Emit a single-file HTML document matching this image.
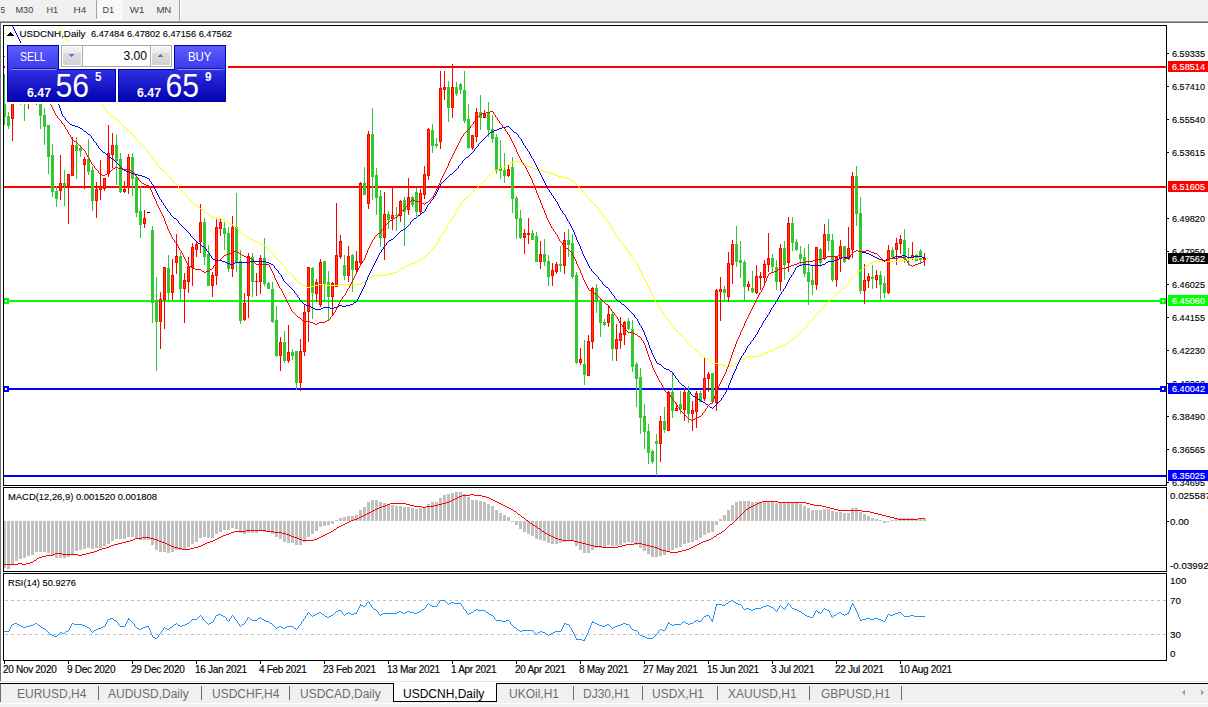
<!DOCTYPE html>
<html><head><meta charset="utf-8"><style>
html,body{margin:0;padding:0;}
body{width:1208px;height:707px;overflow:hidden;position:relative;background:#fff;font-family:'Liberation Sans', sans-serif;}
svg{position:absolute;left:0;top:0;}
svg text{font-family:'Liberation Sans', sans-serif;}
.ax{font-size:9.8px;fill:#000;stroke:#000;stroke-width:0.12px;}
.axw{fill:#fff;stroke:#fff;}
.dt{font-size:10px;letter-spacing:-0.3px;fill:#000;stroke:#000;stroke-width:0.15px;}
.tb{font-size:9.3px;fill:#404040;}
.tab{font-size:12px;}
.btn{font-size:12px;fill:#fff;}
.lot{font-size:12px;fill:#000;}
.sm{font-size:12px;font-weight:bold;fill:#fff;}
.big{font-size:34px;fill:#fff;}
.sup{font-size:12px;font-weight:bold;fill:#fff;}
</style></head><body>
<svg width="1208" height="707" viewBox="0 0 1208 707" shape-rendering="crispEdges"><rect x="0" y="0" width="1208" height="707" fill="#fff"/><rect x="0" y="0" width="1208" height="21" fill="#f0f0f0"/><rect x="0" y="21" width="1208" height="1" fill="#a0a0a0"/><rect x="0" y="22" width="1208" height="1" fill="#6a6a6a"/><defs><pattern id="chk" width="2" height="2" patternUnits="userSpaceOnUse"><rect width="2" height="2" fill="#f0f0f0"/><rect width="1" height="1" fill="#fff"/><rect x="1" y="1" width="1" height="1" fill="#fff"/></pattern><linearGradient id="gh" x1="0" y1="45" x2="0" y2="69" gradientUnits="userSpaceOnUse"><stop offset="0" stop-color="#5f5fff"/><stop offset="1" stop-color="#3a3aec"/></linearGradient><linearGradient id="gp" x1="0" y1="69" x2="0" y2="102" gradientUnits="userSpaceOnUse"><stop offset="0" stop-color="#3232e4"/><stop offset="1" stop-color="#0000b0"/></linearGradient><linearGradient id="gb" x1="0" y1="47" x2="0" y2="65" gradientUnits="userSpaceOnUse"><stop offset="0" stop-color="#f2f2f2"/><stop offset="0.35" stop-color="#ebebeb"/><stop offset="0.36" stop-color="#dcdcdc"/><stop offset="1" stop-color="#d2d2d2"/></linearGradient><clipPath id="cm"><rect x="4" y="26" width="1162" height="459"/></clipPath><clipPath id="cmacd"><rect x="4" y="488" width="1162" height="83"/></clipPath><clipPath id="crsi"><rect x="4" y="574" width="1162" height="86"/></clipPath></defs><rect x="97" y="0" width="24" height="19" fill="url(#chk)"/><rect x="96" y="0" width="1" height="19" fill="#a0a0a0"/><rect x="121" y="0" width="1" height="20" fill="#fff"/><rect x="96" y="19" width="26" height="1" fill="#fff"/><rect x="179" y="0" width="1" height="21" fill="#a0a0a0"/><rect x="180" y="0" width="1" height="21" fill="#fff"/><text x="0.5" y="13" class="tb" textLength="4.6" lengthAdjust="spacingAndGlyphs">5</text><text x="15.5" y="13" class="tb" textLength="17.8" lengthAdjust="spacingAndGlyphs">M30</text><text x="46.5" y="13" class="tb" textLength="11.7" lengthAdjust="spacingAndGlyphs">H1</text><text x="73.5" y="13" class="tb" textLength="12.8" lengthAdjust="spacingAndGlyphs">H4</text><text x="102.5" y="13" class="tb" textLength="11.7" lengthAdjust="spacingAndGlyphs">D1</text><text x="129.8" y="13" class="tb" textLength="14.6" lengthAdjust="spacingAndGlyphs">W1</text><text x="156.4" y="13" class="tb" textLength="14.9" lengthAdjust="spacingAndGlyphs">MN</text><rect x="0" y="23" width="1" height="658" fill="#707070"/><g clip-path="url(#cm)"><rect x="4" y="66" width="1162" height="2" fill="#ff0000"/><rect x="4" y="186" width="1162" height="2" fill="#ff0000"/><rect x="4" y="300" width="1162" height="2" fill="#00ff00"/><rect x="4" y="388" width="1162" height="2" fill="#0000ff"/><rect x="4" y="475" width="1162" height="2" fill="#0000ff"/><rect x="4" y="74" width="1" height="30" fill="#32c832"/><rect x="4" y="117" width="1" height="8" fill="#32c832"/><rect x="3" y="104" width="3" height="13" fill="#32c832"/><rect x="8" y="112" width="1" height="4" fill="#32c832"/><rect x="8" y="126" width="1" height="3" fill="#32c832"/><rect x="7" y="116" width="3" height="10" fill="#32c832"/><rect x="12" y="95" width="1" height="3" fill="#ff0000"/><rect x="12" y="119" width="1" height="22" fill="#ff0000"/><rect x="11" y="98" width="3" height="21" fill="#ff0000"/><rect x="12" y="99" width="1" height="19" fill="#ff4400"/><rect x="16" y="80" width="1" height="5" fill="#ff0000"/><rect x="16" y="96" width="1" height="5" fill="#ff0000"/><rect x="15" y="85" width="3" height="11" fill="#ff0000"/><rect x="16" y="86" width="1" height="9" fill="#ff4400"/><rect x="20" y="95" width="1" height="3" fill="#32c832"/><rect x="20" y="104" width="1" height="1" fill="#32c832"/><rect x="19" y="98" width="3" height="6" fill="#32c832"/><rect x="24" y="90" width="1" height="5" fill="#32c832"/><rect x="24" y="101" width="1" height="20" fill="#32c832"/><rect x="23" y="95" width="3" height="6" fill="#32c832"/><rect x="28" y="90" width="1" height="5" fill="#ff0000"/><rect x="28" y="101" width="1" height="8" fill="#ff0000"/><rect x="27" y="95" width="3" height="6" fill="#ff0000"/><rect x="28" y="96" width="1" height="4" fill="#ff4400"/><rect x="32" y="80" width="1" height="5" fill="#ff0000"/><rect x="32" y="96" width="1" height="5" fill="#ff0000"/><rect x="31" y="85" width="3" height="11" fill="#ff0000"/><rect x="32" y="86" width="1" height="9" fill="#ff4400"/><rect x="36" y="90" width="1" height="5" fill="#ff0000"/><rect x="36" y="101" width="1" height="4" fill="#ff0000"/><rect x="35" y="95" width="3" height="6" fill="#ff0000"/><rect x="36" y="96" width="1" height="4" fill="#ff4400"/><rect x="40" y="90" width="1" height="5" fill="#32c832"/><rect x="40" y="116" width="1" height="13" fill="#32c832"/><rect x="39" y="95" width="3" height="21" fill="#32c832"/><rect x="44" y="108" width="1" height="7" fill="#32c832"/><rect x="44" y="127" width="1" height="18" fill="#32c832"/><rect x="43" y="115" width="3" height="12" fill="#32c832"/><rect x="48" y="157" width="1" height="17" fill="#32c832"/><rect x="47" y="125" width="3" height="32" fill="#32c832"/><rect x="52" y="144" width="1" height="11" fill="#32c832"/><rect x="52" y="192" width="1" height="5" fill="#32c832"/><rect x="51" y="155" width="3" height="37" fill="#32c832"/><rect x="56" y="186" width="1" height="5" fill="#32c832"/><rect x="56" y="199" width="1" height="8" fill="#32c832"/><rect x="55" y="191" width="3" height="8" fill="#32c832"/><rect x="60" y="155" width="1" height="28" fill="#ff0000"/><rect x="60" y="191" width="1" height="9" fill="#ff0000"/><rect x="59" y="183" width="3" height="8" fill="#ff0000"/><rect x="60" y="184" width="1" height="6" fill="#ff4400"/><rect x="64" y="170" width="1" height="13" fill="#32c832"/><rect x="64" y="186" width="1" height="20" fill="#32c832"/><rect x="63" y="183" width="3" height="3" fill="#32c832"/><rect x="68" y="186" width="1" height="38" fill="#ff0000"/><rect x="67" y="174" width="3" height="12" fill="#ff0000"/><rect x="68" y="175" width="1" height="10" fill="#ff4400"/><rect x="72" y="137" width="1" height="8" fill="#ff0000"/><rect x="71" y="145" width="3" height="31" fill="#ff0000"/><rect x="72" y="146" width="1" height="29" fill="#ff4400"/><rect x="76" y="137" width="1" height="8" fill="#32c832"/><rect x="76" y="151" width="1" height="28" fill="#32c832"/><rect x="75" y="145" width="3" height="6" fill="#32c832"/><rect x="80" y="145" width="1" height="3" fill="#32c832"/><rect x="80" y="151" width="1" height="6" fill="#32c832"/><rect x="79" y="148" width="3" height="3" fill="#32c832"/><rect x="84" y="157" width="1" height="2" fill="#ff0000"/><rect x="84" y="165" width="1" height="24" fill="#ff0000"/><rect x="83" y="159" width="3" height="6" fill="#ff0000"/><rect x="84" y="160" width="1" height="4" fill="#ff4400"/><rect x="88" y="139" width="1" height="20" fill="#32c832"/><rect x="88" y="172" width="1" height="3" fill="#32c832"/><rect x="87" y="159" width="3" height="13" fill="#32c832"/><rect x="92" y="166" width="1" height="4" fill="#32c832"/><rect x="92" y="201" width="1" height="10" fill="#32c832"/><rect x="91" y="170" width="3" height="31" fill="#32c832"/><rect x="96" y="182" width="1" height="7" fill="#ff0000"/><rect x="96" y="201" width="1" height="17" fill="#ff0000"/><rect x="95" y="189" width="3" height="12" fill="#ff0000"/><rect x="96" y="190" width="1" height="10" fill="#ff4400"/><rect x="100" y="160" width="1" height="27" fill="#ff0000"/><rect x="100" y="190" width="1" height="10" fill="#ff0000"/><rect x="99" y="187" width="3" height="3" fill="#ff0000"/><rect x="100" y="188" width="1" height="1" fill="#ff4400"/><rect x="104" y="189" width="1" height="2" fill="#ff0000"/><rect x="103" y="178" width="3" height="11" fill="#ff0000"/><rect x="104" y="179" width="1" height="9" fill="#ff4400"/><rect x="108" y="125" width="1" height="28" fill="#ff0000"/><rect x="108" y="174" width="1" height="3" fill="#ff0000"/><rect x="107" y="153" width="3" height="21" fill="#ff0000"/><rect x="108" y="154" width="1" height="19" fill="#ff4400"/><rect x="112" y="133" width="1" height="12" fill="#ff0000"/><rect x="112" y="155" width="1" height="13" fill="#ff0000"/><rect x="111" y="145" width="3" height="10" fill="#ff0000"/><rect x="112" y="146" width="1" height="8" fill="#ff4400"/><rect x="116" y="135" width="1" height="10" fill="#32c832"/><rect x="116" y="161" width="1" height="24" fill="#32c832"/><rect x="115" y="145" width="3" height="16" fill="#32c832"/><rect x="120" y="153" width="1" height="6" fill="#32c832"/><rect x="120" y="192" width="1" height="1" fill="#32c832"/><rect x="119" y="159" width="3" height="33" fill="#32c832"/><rect x="124" y="181" width="1" height="8" fill="#ff0000"/><rect x="124" y="192" width="1" height="1" fill="#ff0000"/><rect x="123" y="189" width="3" height="3" fill="#ff0000"/><rect x="124" y="190" width="1" height="1" fill="#ff4400"/><rect x="128" y="154" width="1" height="3" fill="#ff0000"/><rect x="128" y="188" width="1" height="6" fill="#ff0000"/><rect x="127" y="157" width="3" height="31" fill="#ff0000"/><rect x="128" y="158" width="1" height="29" fill="#ff4400"/><rect x="132" y="153" width="1" height="4" fill="#32c832"/><rect x="132" y="179" width="1" height="17" fill="#32c832"/><rect x="131" y="157" width="3" height="22" fill="#32c832"/><rect x="136" y="175" width="1" height="2" fill="#32c832"/><rect x="136" y="213" width="1" height="4" fill="#32c832"/><rect x="135" y="177" width="3" height="36" fill="#32c832"/><rect x="140" y="187" width="1" height="24" fill="#32c832"/><rect x="140" y="225" width="1" height="13" fill="#32c832"/><rect x="139" y="211" width="3" height="14" fill="#32c832"/><rect x="144" y="210" width="1" height="8" fill="#ff0000"/><rect x="144" y="224" width="1" height="4" fill="#ff0000"/><rect x="143" y="218" width="3" height="6" fill="#ff0000"/><rect x="144" y="219" width="1" height="4" fill="#ff4400"/><rect x="147" y="212" width="3" height="1" fill="#000"/><rect x="152" y="226" width="1" height="4" fill="#32c832"/><rect x="152" y="303" width="1" height="20" fill="#32c832"/><rect x="151" y="230" width="3" height="73" fill="#32c832"/><rect x="156" y="277" width="1" height="23" fill="#32c832"/><rect x="156" y="322" width="1" height="49" fill="#32c832"/><rect x="155" y="300" width="3" height="22" fill="#32c832"/><rect x="160" y="292" width="1" height="7" fill="#ff0000"/><rect x="160" y="322" width="1" height="27" fill="#ff0000"/><rect x="159" y="299" width="3" height="23" fill="#ff0000"/><rect x="160" y="300" width="1" height="21" fill="#ff4400"/><rect x="164" y="300" width="1" height="29" fill="#ff0000"/><rect x="163" y="267" width="3" height="33" fill="#ff0000"/><rect x="164" y="268" width="1" height="31" fill="#ff4400"/><rect x="168" y="255" width="1" height="13" fill="#32c832"/><rect x="168" y="293" width="1" height="8" fill="#32c832"/><rect x="167" y="268" width="3" height="25" fill="#32c832"/><rect x="172" y="259" width="1" height="16" fill="#ff0000"/><rect x="172" y="293" width="1" height="7" fill="#ff0000"/><rect x="171" y="275" width="3" height="18" fill="#ff0000"/><rect x="172" y="276" width="1" height="16" fill="#ff4400"/><rect x="176" y="234" width="1" height="22" fill="#ff0000"/><rect x="176" y="263" width="1" height="11" fill="#ff0000"/><rect x="175" y="256" width="3" height="7" fill="#ff0000"/><rect x="176" y="257" width="1" height="5" fill="#ff4400"/><rect x="180" y="252" width="1" height="4" fill="#32c832"/><rect x="180" y="289" width="1" height="13" fill="#32c832"/><rect x="179" y="256" width="3" height="33" fill="#32c832"/><rect x="184" y="273" width="1" height="7" fill="#ff0000"/><rect x="184" y="289" width="1" height="34" fill="#ff0000"/><rect x="183" y="280" width="3" height="9" fill="#ff0000"/><rect x="184" y="281" width="1" height="7" fill="#ff4400"/><rect x="188" y="257" width="1" height="9" fill="#ff0000"/><rect x="188" y="282" width="1" height="11" fill="#ff0000"/><rect x="187" y="266" width="3" height="16" fill="#ff0000"/><rect x="188" y="267" width="1" height="14" fill="#ff4400"/><rect x="192" y="243" width="1" height="4" fill="#ff0000"/><rect x="192" y="268" width="1" height="18" fill="#ff0000"/><rect x="191" y="247" width="3" height="21" fill="#ff0000"/><rect x="192" y="248" width="1" height="19" fill="#ff4400"/><rect x="196" y="242" width="1" height="2" fill="#ff0000"/><rect x="196" y="250" width="1" height="7" fill="#ff0000"/><rect x="195" y="244" width="3" height="6" fill="#ff0000"/><rect x="196" y="245" width="1" height="4" fill="#ff4400"/><rect x="200" y="204" width="1" height="18" fill="#ff0000"/><rect x="200" y="242" width="1" height="11" fill="#ff0000"/><rect x="199" y="222" width="3" height="20" fill="#ff0000"/><rect x="200" y="223" width="1" height="18" fill="#ff4400"/><rect x="204" y="218" width="1" height="4" fill="#32c832"/><rect x="204" y="257" width="1" height="8" fill="#32c832"/><rect x="203" y="222" width="3" height="35" fill="#32c832"/><rect x="208" y="245" width="1" height="9" fill="#32c832"/><rect x="207" y="254" width="3" height="32" fill="#32c832"/><rect x="212" y="272" width="1" height="3" fill="#ff0000"/><rect x="212" y="286" width="1" height="11" fill="#ff0000"/><rect x="211" y="275" width="3" height="11" fill="#ff0000"/><rect x="212" y="276" width="1" height="9" fill="#ff4400"/><rect x="216" y="219" width="1" height="8" fill="#ff0000"/><rect x="216" y="276" width="1" height="9" fill="#ff0000"/><rect x="215" y="227" width="3" height="49" fill="#ff0000"/><rect x="216" y="228" width="1" height="47" fill="#ff4400"/><rect x="220" y="219" width="1" height="3" fill="#ff0000"/><rect x="220" y="229" width="1" height="7" fill="#ff0000"/><rect x="219" y="222" width="3" height="7" fill="#ff0000"/><rect x="220" y="223" width="1" height="5" fill="#ff4400"/><rect x="224" y="222" width="1" height="6" fill="#32c832"/><rect x="224" y="234" width="1" height="16" fill="#32c832"/><rect x="223" y="228" width="3" height="6" fill="#32c832"/><rect x="228" y="227" width="1" height="6" fill="#32c832"/><rect x="228" y="269" width="1" height="3" fill="#32c832"/><rect x="227" y="233" width="3" height="36" fill="#32c832"/><rect x="232" y="216" width="1" height="11" fill="#ff0000"/><rect x="232" y="269" width="1" height="8" fill="#ff0000"/><rect x="231" y="227" width="3" height="42" fill="#ff0000"/><rect x="232" y="228" width="1" height="40" fill="#ff4400"/><rect x="236" y="193" width="1" height="34" fill="#32c832"/><rect x="236" y="263" width="1" height="9" fill="#32c832"/><rect x="235" y="227" width="3" height="36" fill="#32c832"/><rect x="240" y="250" width="1" height="11" fill="#32c832"/><rect x="240" y="321" width="1" height="3" fill="#32c832"/><rect x="239" y="261" width="3" height="60" fill="#32c832"/><rect x="244" y="293" width="1" height="10" fill="#ff0000"/><rect x="244" y="320" width="1" height="1" fill="#ff0000"/><rect x="243" y="303" width="3" height="17" fill="#ff0000"/><rect x="244" y="304" width="1" height="15" fill="#ff4400"/><rect x="248" y="253" width="1" height="3" fill="#ff0000"/><rect x="248" y="296" width="1" height="22" fill="#ff0000"/><rect x="247" y="256" width="3" height="40" fill="#ff0000"/><rect x="248" y="257" width="1" height="38" fill="#ff4400"/><rect x="252" y="253" width="1" height="4" fill="#32c832"/><rect x="252" y="282" width="1" height="15" fill="#32c832"/><rect x="251" y="257" width="3" height="25" fill="#32c832"/><rect x="256" y="273" width="1" height="8" fill="#ff0000"/><rect x="256" y="282" width="1" height="14" fill="#ff0000"/><rect x="255" y="281" width="3" height="1" fill="#ff0000"/><rect x="260" y="255" width="1" height="3" fill="#ff0000"/><rect x="260" y="282" width="1" height="12" fill="#ff0000"/><rect x="259" y="258" width="3" height="24" fill="#ff0000"/><rect x="260" y="259" width="1" height="22" fill="#ff4400"/><rect x="264" y="238" width="1" height="20" fill="#32c832"/><rect x="264" y="284" width="1" height="2" fill="#32c832"/><rect x="263" y="258" width="3" height="26" fill="#32c832"/><rect x="268" y="282" width="1" height="1" fill="#32c832"/><rect x="267" y="283" width="3" height="6" fill="#32c832"/><rect x="272" y="282" width="1" height="7" fill="#32c832"/><rect x="272" y="322" width="1" height="1" fill="#32c832"/><rect x="271" y="289" width="3" height="33" fill="#32c832"/><rect x="276" y="306" width="1" height="14" fill="#32c832"/><rect x="276" y="356" width="1" height="1" fill="#32c832"/><rect x="275" y="320" width="3" height="36" fill="#32c832"/><rect x="280" y="337" width="1" height="5" fill="#ff0000"/><rect x="280" y="356" width="1" height="15" fill="#ff0000"/><rect x="279" y="342" width="3" height="14" fill="#ff0000"/><rect x="280" y="343" width="1" height="12" fill="#ff4400"/><rect x="284" y="331" width="1" height="11" fill="#32c832"/><rect x="284" y="361" width="1" height="2" fill="#32c832"/><rect x="283" y="342" width="3" height="19" fill="#32c832"/><rect x="288" y="325" width="1" height="27" fill="#ff0000"/><rect x="288" y="361" width="1" height="2" fill="#ff0000"/><rect x="287" y="352" width="3" height="9" fill="#ff0000"/><rect x="288" y="353" width="1" height="7" fill="#ff4400"/><rect x="292" y="349" width="1" height="3" fill="#32c832"/><rect x="292" y="356" width="1" height="4" fill="#32c832"/><rect x="291" y="352" width="3" height="4" fill="#32c832"/><rect x="296" y="383" width="1" height="7" fill="#32c832"/><rect x="295" y="351" width="3" height="32" fill="#32c832"/><rect x="300" y="339" width="1" height="12" fill="#ff0000"/><rect x="300" y="383" width="1" height="8" fill="#ff0000"/><rect x="299" y="351" width="3" height="32" fill="#ff0000"/><rect x="300" y="352" width="1" height="30" fill="#ff4400"/><rect x="304" y="304" width="1" height="8" fill="#ff0000"/><rect x="304" y="352" width="1" height="4" fill="#ff0000"/><rect x="303" y="312" width="3" height="40" fill="#ff0000"/><rect x="304" y="313" width="1" height="38" fill="#ff4400"/><rect x="308" y="312" width="1" height="30" fill="#ff0000"/><rect x="307" y="267" width="3" height="45" fill="#ff0000"/><rect x="308" y="268" width="1" height="43" fill="#ff4400"/><rect x="312" y="267" width="1" height="1" fill="#32c832"/><rect x="312" y="293" width="1" height="26" fill="#32c832"/><rect x="311" y="268" width="3" height="25" fill="#32c832"/><rect x="316" y="279" width="1" height="3" fill="#ff0000"/><rect x="316" y="294" width="1" height="8" fill="#ff0000"/><rect x="315" y="282" width="3" height="12" fill="#ff0000"/><rect x="316" y="283" width="1" height="10" fill="#ff4400"/><rect x="320" y="259" width="1" height="3" fill="#ff0000"/><rect x="320" y="305" width="1" height="2" fill="#ff0000"/><rect x="319" y="262" width="3" height="43" fill="#ff0000"/><rect x="320" y="263" width="1" height="41" fill="#ff4400"/><rect x="324" y="284" width="1" height="17" fill="#32c832"/><rect x="323" y="261" width="3" height="23" fill="#32c832"/><rect x="328" y="271" width="1" height="11" fill="#32c832"/><rect x="328" y="297" width="1" height="24" fill="#32c832"/><rect x="327" y="282" width="3" height="15" fill="#32c832"/><rect x="332" y="282" width="1" height="1" fill="#ff0000"/><rect x="332" y="297" width="1" height="19" fill="#ff0000"/><rect x="331" y="283" width="3" height="14" fill="#ff0000"/><rect x="332" y="284" width="1" height="12" fill="#ff4400"/><rect x="336" y="203" width="1" height="52" fill="#ff0000"/><rect x="335" y="255" width="3" height="32" fill="#ff0000"/><rect x="336" y="256" width="1" height="30" fill="#ff4400"/><rect x="340" y="235" width="1" height="6" fill="#ff0000"/><rect x="340" y="257" width="1" height="2" fill="#ff0000"/><rect x="339" y="241" width="3" height="16" fill="#ff0000"/><rect x="340" y="242" width="1" height="14" fill="#ff4400"/><rect x="344" y="255" width="1" height="10" fill="#32c832"/><rect x="344" y="276" width="1" height="4" fill="#32c832"/><rect x="343" y="265" width="3" height="11" fill="#32c832"/><rect x="348" y="246" width="1" height="10" fill="#ff0000"/><rect x="348" y="276" width="1" height="6" fill="#ff0000"/><rect x="347" y="256" width="3" height="20" fill="#ff0000"/><rect x="348" y="257" width="1" height="18" fill="#ff4400"/><rect x="352" y="254" width="1" height="1" fill="#32c832"/><rect x="352" y="270" width="1" height="22" fill="#32c832"/><rect x="351" y="255" width="3" height="15" fill="#32c832"/><rect x="356" y="251" width="1" height="10" fill="#ff0000"/><rect x="356" y="270" width="1" height="3" fill="#ff0000"/><rect x="355" y="261" width="3" height="9" fill="#ff0000"/><rect x="356" y="262" width="1" height="7" fill="#ff4400"/><rect x="360" y="182" width="1" height="1" fill="#ff0000"/><rect x="360" y="263" width="1" height="1" fill="#ff0000"/><rect x="359" y="183" width="3" height="80" fill="#ff0000"/><rect x="360" y="184" width="1" height="78" fill="#ff4400"/><rect x="364" y="167" width="1" height="16" fill="#32c832"/><rect x="363" y="183" width="3" height="12" fill="#32c832"/><rect x="368" y="131" width="1" height="3" fill="#ff0000"/><rect x="368" y="204" width="1" height="5" fill="#ff0000"/><rect x="367" y="134" width="3" height="70" fill="#ff0000"/><rect x="368" y="135" width="1" height="68" fill="#ff4400"/><rect x="372" y="108" width="1" height="26" fill="#32c832"/><rect x="372" y="177" width="1" height="23" fill="#32c832"/><rect x="371" y="134" width="3" height="43" fill="#32c832"/><rect x="376" y="168" width="1" height="7" fill="#32c832"/><rect x="376" y="198" width="1" height="17" fill="#32c832"/><rect x="375" y="175" width="3" height="23" fill="#32c832"/><rect x="380" y="190" width="1" height="6" fill="#32c832"/><rect x="380" y="238" width="1" height="9" fill="#32c832"/><rect x="379" y="196" width="3" height="42" fill="#32c832"/><rect x="384" y="192" width="1" height="22" fill="#ff0000"/><rect x="384" y="238" width="1" height="22" fill="#ff0000"/><rect x="383" y="214" width="3" height="24" fill="#ff0000"/><rect x="384" y="215" width="1" height="22" fill="#ff4400"/><rect x="388" y="211" width="1" height="3" fill="#32c832"/><rect x="388" y="220" width="1" height="9" fill="#32c832"/><rect x="387" y="214" width="3" height="6" fill="#32c832"/><rect x="392" y="188" width="1" height="27" fill="#ff0000"/><rect x="392" y="219" width="1" height="11" fill="#ff0000"/><rect x="391" y="215" width="3" height="4" fill="#ff0000"/><rect x="392" y="216" width="1" height="2" fill="#ff4400"/><rect x="396" y="207" width="1" height="8" fill="#32c832"/><rect x="396" y="216" width="1" height="15" fill="#32c832"/><rect x="395" y="215" width="3" height="1" fill="#32c832"/><rect x="400" y="200" width="1" height="1" fill="#ff0000"/><rect x="400" y="216" width="1" height="6" fill="#ff0000"/><rect x="399" y="201" width="3" height="15" fill="#ff0000"/><rect x="400" y="202" width="1" height="13" fill="#ff4400"/><rect x="404" y="197" width="1" height="3" fill="#32c832"/><rect x="404" y="212" width="1" height="34" fill="#32c832"/><rect x="403" y="200" width="3" height="12" fill="#32c832"/><rect x="408" y="178" width="1" height="19" fill="#ff0000"/><rect x="408" y="210" width="1" height="5" fill="#ff0000"/><rect x="407" y="197" width="3" height="13" fill="#ff0000"/><rect x="408" y="198" width="1" height="11" fill="#ff4400"/><rect x="412" y="196" width="1" height="1" fill="#32c832"/><rect x="412" y="205" width="1" height="2" fill="#32c832"/><rect x="411" y="197" width="3" height="8" fill="#32c832"/><rect x="416" y="188" width="1" height="4" fill="#32c832"/><rect x="416" y="212" width="1" height="4" fill="#32c832"/><rect x="415" y="192" width="3" height="20" fill="#32c832"/><rect x="420" y="189" width="1" height="4" fill="#ff0000"/><rect x="420" y="212" width="1" height="2" fill="#ff0000"/><rect x="419" y="193" width="3" height="19" fill="#ff0000"/><rect x="420" y="194" width="1" height="17" fill="#ff4400"/><rect x="424" y="166" width="1" height="8" fill="#ff0000"/><rect x="424" y="195" width="1" height="4" fill="#ff0000"/><rect x="423" y="174" width="3" height="21" fill="#ff0000"/><rect x="424" y="175" width="1" height="19" fill="#ff4400"/><rect x="428" y="128" width="1" height="1" fill="#ff0000"/><rect x="428" y="176" width="1" height="4" fill="#ff0000"/><rect x="427" y="129" width="3" height="47" fill="#ff0000"/><rect x="428" y="130" width="1" height="45" fill="#ff4400"/><rect x="432" y="124" width="1" height="6" fill="#32c832"/><rect x="432" y="146" width="1" height="7" fill="#32c832"/><rect x="431" y="130" width="3" height="16" fill="#32c832"/><rect x="436" y="138" width="1" height="6" fill="#32c832"/><rect x="436" y="146" width="1" height="2" fill="#32c832"/><rect x="435" y="144" width="3" height="2" fill="#32c832"/><rect x="440" y="71" width="1" height="17" fill="#ff0000"/><rect x="440" y="142" width="1" height="7" fill="#ff0000"/><rect x="439" y="88" width="3" height="54" fill="#ff0000"/><rect x="440" y="89" width="1" height="52" fill="#ff4400"/><rect x="444" y="71" width="1" height="16" fill="#ff0000"/><rect x="444" y="90" width="1" height="10" fill="#ff0000"/><rect x="443" y="87" width="3" height="3" fill="#ff0000"/><rect x="444" y="88" width="1" height="1" fill="#ff4400"/><rect x="448" y="81" width="1" height="6" fill="#32c832"/><rect x="448" y="108" width="1" height="14" fill="#32c832"/><rect x="447" y="87" width="3" height="21" fill="#32c832"/><rect x="452" y="64" width="1" height="23" fill="#ff0000"/><rect x="452" y="108" width="1" height="10" fill="#ff0000"/><rect x="451" y="87" width="3" height="21" fill="#ff0000"/><rect x="452" y="88" width="1" height="19" fill="#ff4400"/><rect x="456" y="82" width="1" height="5" fill="#32c832"/><rect x="456" y="94" width="1" height="2" fill="#32c832"/><rect x="455" y="87" width="3" height="7" fill="#32c832"/><rect x="460" y="83" width="1" height="1" fill="#32c832"/><rect x="460" y="90" width="1" height="4" fill="#32c832"/><rect x="459" y="84" width="3" height="6" fill="#32c832"/><rect x="464" y="71" width="1" height="19" fill="#32c832"/><rect x="464" y="121" width="1" height="2" fill="#32c832"/><rect x="463" y="90" width="3" height="31" fill="#32c832"/><rect x="468" y="104" width="1" height="15" fill="#32c832"/><rect x="468" y="148" width="1" height="1" fill="#32c832"/><rect x="467" y="119" width="3" height="29" fill="#32c832"/><rect x="472" y="148" width="1" height="2" fill="#ff0000"/><rect x="471" y="135" width="3" height="13" fill="#ff0000"/><rect x="472" y="136" width="1" height="11" fill="#ff4400"/><rect x="476" y="108" width="1" height="4" fill="#ff0000"/><rect x="476" y="137" width="1" height="5" fill="#ff0000"/><rect x="475" y="112" width="3" height="25" fill="#ff0000"/><rect x="476" y="113" width="1" height="23" fill="#ff4400"/><rect x="480" y="95" width="1" height="17" fill="#32c832"/><rect x="480" y="118" width="1" height="12" fill="#32c832"/><rect x="479" y="112" width="3" height="6" fill="#32c832"/><rect x="484" y="110" width="1" height="4" fill="#ff0000"/><rect x="483" y="114" width="3" height="4" fill="#ff0000"/><rect x="484" y="115" width="1" height="2" fill="#ff4400"/><rect x="488" y="102" width="1" height="10" fill="#32c832"/><rect x="488" y="130" width="1" height="7" fill="#32c832"/><rect x="487" y="112" width="3" height="18" fill="#32c832"/><rect x="492" y="115" width="1" height="14" fill="#32c832"/><rect x="492" y="139" width="1" height="4" fill="#32c832"/><rect x="491" y="129" width="3" height="10" fill="#32c832"/><rect x="496" y="134" width="1" height="3" fill="#32c832"/><rect x="496" y="171" width="1" height="3" fill="#32c832"/><rect x="495" y="137" width="3" height="34" fill="#32c832"/><rect x="500" y="140" width="1" height="28" fill="#32c832"/><rect x="500" y="171" width="1" height="8" fill="#32c832"/><rect x="499" y="168" width="3" height="3" fill="#32c832"/><rect x="504" y="153" width="1" height="17" fill="#32c832"/><rect x="504" y="176" width="1" height="7" fill="#32c832"/><rect x="503" y="170" width="3" height="6" fill="#32c832"/><rect x="508" y="165" width="1" height="4" fill="#ff0000"/><rect x="508" y="176" width="1" height="1" fill="#ff0000"/><rect x="507" y="169" width="3" height="7" fill="#ff0000"/><rect x="508" y="170" width="1" height="5" fill="#ff4400"/><rect x="512" y="157" width="1" height="10" fill="#32c832"/><rect x="512" y="199" width="1" height="14" fill="#32c832"/><rect x="511" y="167" width="3" height="32" fill="#32c832"/><rect x="516" y="196" width="1" height="2" fill="#32c832"/><rect x="516" y="219" width="1" height="20" fill="#32c832"/><rect x="515" y="198" width="3" height="21" fill="#32c832"/><rect x="520" y="210" width="1" height="8" fill="#32c832"/><rect x="520" y="238" width="1" height="1" fill="#32c832"/><rect x="519" y="218" width="3" height="20" fill="#32c832"/><rect x="524" y="229" width="1" height="4" fill="#ff0000"/><rect x="524" y="238" width="1" height="16" fill="#ff0000"/><rect x="523" y="233" width="3" height="5" fill="#ff0000"/><rect x="524" y="234" width="1" height="3" fill="#ff4400"/><rect x="528" y="218" width="1" height="15" fill="#ff0000"/><rect x="528" y="235" width="1" height="9" fill="#ff0000"/><rect x="527" y="233" width="3" height="2" fill="#ff0000"/><rect x="532" y="230" width="1" height="3" fill="#32c832"/><rect x="531" y="233" width="3" height="7" fill="#32c832"/><rect x="536" y="232" width="1" height="4" fill="#32c832"/><rect x="535" y="236" width="3" height="26" fill="#32c832"/><rect x="540" y="241" width="1" height="13" fill="#ff0000"/><rect x="540" y="262" width="1" height="7" fill="#ff0000"/><rect x="539" y="254" width="3" height="8" fill="#ff0000"/><rect x="540" y="255" width="1" height="6" fill="#ff4400"/><rect x="544" y="239" width="1" height="15" fill="#32c832"/><rect x="544" y="262" width="1" height="4" fill="#32c832"/><rect x="543" y="254" width="3" height="8" fill="#32c832"/><rect x="548" y="255" width="1" height="6" fill="#32c832"/><rect x="548" y="277" width="1" height="9" fill="#32c832"/><rect x="547" y="261" width="3" height="16" fill="#32c832"/><rect x="552" y="263" width="1" height="7" fill="#ff0000"/><rect x="552" y="276" width="1" height="10" fill="#ff0000"/><rect x="551" y="270" width="3" height="6" fill="#ff0000"/><rect x="552" y="271" width="1" height="4" fill="#ff4400"/><rect x="556" y="262" width="1" height="2" fill="#ff0000"/><rect x="556" y="272" width="1" height="2" fill="#ff0000"/><rect x="555" y="264" width="3" height="8" fill="#ff0000"/><rect x="556" y="265" width="1" height="6" fill="#ff4400"/><rect x="560" y="246" width="1" height="18" fill="#32c832"/><rect x="560" y="266" width="1" height="6" fill="#32c832"/><rect x="559" y="264" width="3" height="2" fill="#32c832"/><rect x="564" y="232" width="1" height="8" fill="#ff0000"/><rect x="564" y="266" width="1" height="8" fill="#ff0000"/><rect x="563" y="240" width="3" height="26" fill="#ff0000"/><rect x="564" y="241" width="1" height="24" fill="#ff4400"/><rect x="568" y="229" width="1" height="11" fill="#32c832"/><rect x="568" y="245" width="1" height="12" fill="#32c832"/><rect x="567" y="240" width="3" height="5" fill="#32c832"/><rect x="572" y="234" width="1" height="9" fill="#32c832"/><rect x="572" y="277" width="1" height="2" fill="#32c832"/><rect x="571" y="243" width="3" height="34" fill="#32c832"/><rect x="576" y="272" width="1" height="3" fill="#32c832"/><rect x="576" y="363" width="1" height="1" fill="#32c832"/><rect x="575" y="275" width="3" height="88" fill="#32c832"/><rect x="580" y="348" width="1" height="11" fill="#ff0000"/><rect x="580" y="363" width="1" height="2" fill="#ff0000"/><rect x="579" y="359" width="3" height="4" fill="#ff0000"/><rect x="580" y="360" width="1" height="2" fill="#ff4400"/><rect x="584" y="340" width="1" height="24" fill="#32c832"/><rect x="584" y="375" width="1" height="10" fill="#32c832"/><rect x="583" y="364" width="3" height="11" fill="#32c832"/><rect x="588" y="335" width="1" height="6" fill="#ff0000"/><rect x="587" y="341" width="3" height="35" fill="#ff0000"/><rect x="588" y="342" width="1" height="33" fill="#ff4400"/><rect x="592" y="287" width="1" height="1" fill="#ff0000"/><rect x="592" y="342" width="1" height="7" fill="#ff0000"/><rect x="591" y="288" width="3" height="54" fill="#ff0000"/><rect x="592" y="289" width="1" height="52" fill="#ff4400"/><rect x="596" y="284" width="1" height="4" fill="#32c832"/><rect x="596" y="301" width="1" height="12" fill="#32c832"/><rect x="595" y="288" width="3" height="13" fill="#32c832"/><rect x="600" y="299" width="1" height="1" fill="#32c832"/><rect x="600" y="323" width="1" height="14" fill="#32c832"/><rect x="599" y="300" width="3" height="23" fill="#32c832"/><rect x="604" y="319" width="1" height="3" fill="#32c832"/><rect x="604" y="325" width="1" height="1" fill="#32c832"/><rect x="603" y="322" width="3" height="3" fill="#32c832"/><rect x="608" y="305" width="1" height="9" fill="#ff0000"/><rect x="608" y="323" width="1" height="4" fill="#ff0000"/><rect x="607" y="314" width="3" height="9" fill="#ff0000"/><rect x="608" y="315" width="1" height="7" fill="#ff4400"/><rect x="612" y="312" width="1" height="2" fill="#32c832"/><rect x="612" y="349" width="1" height="12" fill="#32c832"/><rect x="611" y="314" width="3" height="35" fill="#32c832"/><rect x="616" y="324" width="1" height="15" fill="#ff0000"/><rect x="616" y="349" width="1" height="12" fill="#ff0000"/><rect x="615" y="339" width="3" height="10" fill="#ff0000"/><rect x="616" y="340" width="1" height="8" fill="#ff4400"/><rect x="620" y="317" width="1" height="16" fill="#ff0000"/><rect x="620" y="341" width="1" height="8" fill="#ff0000"/><rect x="619" y="333" width="3" height="8" fill="#ff0000"/><rect x="620" y="334" width="1" height="6" fill="#ff4400"/><rect x="624" y="321" width="1" height="1" fill="#ff0000"/><rect x="624" y="335" width="1" height="10" fill="#ff0000"/><rect x="623" y="322" width="3" height="13" fill="#ff0000"/><rect x="624" y="323" width="1" height="11" fill="#ff4400"/><rect x="628" y="318" width="1" height="3" fill="#32c832"/><rect x="628" y="329" width="1" height="1" fill="#32c832"/><rect x="627" y="321" width="3" height="8" fill="#32c832"/><rect x="632" y="320" width="1" height="9" fill="#32c832"/><rect x="632" y="367" width="1" height="5" fill="#32c832"/><rect x="631" y="329" width="3" height="38" fill="#32c832"/><rect x="636" y="362" width="1" height="2" fill="#32c832"/><rect x="636" y="379" width="1" height="28" fill="#32c832"/><rect x="635" y="364" width="3" height="15" fill="#32c832"/><rect x="640" y="368" width="1" height="9" fill="#32c832"/><rect x="640" y="418" width="1" height="16" fill="#32c832"/><rect x="639" y="377" width="3" height="41" fill="#32c832"/><rect x="644" y="404" width="1" height="12" fill="#32c832"/><rect x="644" y="432" width="1" height="17" fill="#32c832"/><rect x="643" y="416" width="3" height="16" fill="#32c832"/><rect x="648" y="424" width="1" height="7" fill="#32c832"/><rect x="648" y="453" width="1" height="11" fill="#32c832"/><rect x="647" y="431" width="3" height="22" fill="#32c832"/><rect x="652" y="450" width="1" height="1" fill="#32c832"/><rect x="652" y="462" width="1" height="2" fill="#32c832"/><rect x="651" y="451" width="3" height="11" fill="#32c832"/><rect x="656" y="434" width="1" height="7" fill="#32c832"/><rect x="656" y="444" width="1" height="32" fill="#32c832"/><rect x="655" y="441" width="3" height="3" fill="#32c832"/><rect x="660" y="416" width="1" height="5" fill="#ff0000"/><rect x="660" y="444" width="1" height="18" fill="#ff0000"/><rect x="659" y="421" width="3" height="23" fill="#ff0000"/><rect x="660" y="422" width="1" height="21" fill="#ff4400"/><rect x="664" y="407" width="1" height="14" fill="#32c832"/><rect x="664" y="430" width="1" height="3" fill="#32c832"/><rect x="663" y="421" width="3" height="9" fill="#32c832"/><rect x="668" y="391" width="1" height="1" fill="#ff0000"/><rect x="667" y="392" width="3" height="39" fill="#ff0000"/><rect x="668" y="393" width="1" height="37" fill="#ff4400"/><rect x="672" y="372" width="1" height="20" fill="#32c832"/><rect x="672" y="411" width="1" height="7" fill="#32c832"/><rect x="671" y="392" width="3" height="19" fill="#32c832"/><rect x="676" y="403" width="1" height="5" fill="#ff0000"/><rect x="675" y="408" width="3" height="3" fill="#ff0000"/><rect x="676" y="409" width="1" height="1" fill="#ff4400"/><rect x="680" y="391" width="1" height="13" fill="#32c832"/><rect x="680" y="409" width="1" height="5" fill="#32c832"/><rect x="679" y="404" width="3" height="5" fill="#32c832"/><rect x="684" y="388" width="1" height="4" fill="#ff0000"/><rect x="684" y="410" width="1" height="11" fill="#ff0000"/><rect x="683" y="392" width="3" height="18" fill="#ff0000"/><rect x="684" y="393" width="1" height="16" fill="#ff4400"/><rect x="688" y="386" width="1" height="6" fill="#32c832"/><rect x="688" y="414" width="1" height="9" fill="#32c832"/><rect x="687" y="392" width="3" height="22" fill="#32c832"/><rect x="692" y="401" width="1" height="9" fill="#ff0000"/><rect x="692" y="414" width="1" height="17" fill="#ff0000"/><rect x="691" y="410" width="3" height="4" fill="#ff0000"/><rect x="692" y="411" width="1" height="2" fill="#ff4400"/><rect x="696" y="391" width="1" height="2" fill="#ff0000"/><rect x="696" y="412" width="1" height="16" fill="#ff0000"/><rect x="695" y="393" width="3" height="19" fill="#ff0000"/><rect x="696" y="394" width="1" height="17" fill="#ff4400"/><rect x="700" y="391" width="1" height="2" fill="#32c832"/><rect x="699" y="393" width="3" height="9" fill="#32c832"/><rect x="704" y="357" width="1" height="21" fill="#ff0000"/><rect x="704" y="399" width="1" height="2" fill="#ff0000"/><rect x="703" y="378" width="3" height="21" fill="#ff0000"/><rect x="704" y="379" width="1" height="19" fill="#ff4400"/><rect x="708" y="372" width="1" height="2" fill="#ff0000"/><rect x="708" y="379" width="1" height="13" fill="#ff0000"/><rect x="707" y="374" width="3" height="5" fill="#ff0000"/><rect x="708" y="375" width="1" height="3" fill="#ff4400"/><rect x="712" y="402" width="1" height="2" fill="#32c832"/><rect x="711" y="373" width="3" height="29" fill="#32c832"/><rect x="716" y="289" width="1" height="1" fill="#ff0000"/><rect x="716" y="403" width="1" height="8" fill="#ff0000"/><rect x="715" y="290" width="3" height="113" fill="#ff0000"/><rect x="716" y="291" width="1" height="111" fill="#ff4400"/><rect x="720" y="277" width="1" height="12" fill="#ff0000"/><rect x="720" y="292" width="1" height="29" fill="#ff0000"/><rect x="719" y="289" width="3" height="3" fill="#ff0000"/><rect x="720" y="290" width="1" height="1" fill="#ff4400"/><rect x="724" y="286" width="1" height="3" fill="#32c832"/><rect x="724" y="293" width="1" height="9" fill="#32c832"/><rect x="723" y="289" width="3" height="4" fill="#32c832"/><rect x="728" y="252" width="1" height="11" fill="#ff0000"/><rect x="728" y="297" width="1" height="5" fill="#ff0000"/><rect x="727" y="263" width="3" height="34" fill="#ff0000"/><rect x="728" y="264" width="1" height="32" fill="#ff4400"/><rect x="732" y="240" width="1" height="4" fill="#ff0000"/><rect x="732" y="265" width="1" height="19" fill="#ff0000"/><rect x="731" y="244" width="3" height="21" fill="#ff0000"/><rect x="732" y="245" width="1" height="19" fill="#ff4400"/><rect x="736" y="226" width="1" height="18" fill="#32c832"/><rect x="736" y="262" width="1" height="5" fill="#32c832"/><rect x="735" y="244" width="3" height="18" fill="#32c832"/><rect x="740" y="241" width="1" height="19" fill="#32c832"/><rect x="740" y="263" width="1" height="15" fill="#32c832"/><rect x="739" y="260" width="3" height="3" fill="#32c832"/><rect x="744" y="260" width="1" height="2" fill="#32c832"/><rect x="744" y="287" width="1" height="15" fill="#32c832"/><rect x="743" y="262" width="3" height="25" fill="#32c832"/><rect x="748" y="281" width="1" height="3" fill="#ff0000"/><rect x="748" y="287" width="1" height="4" fill="#ff0000"/><rect x="747" y="284" width="3" height="3" fill="#ff0000"/><rect x="748" y="285" width="1" height="1" fill="#ff4400"/><rect x="752" y="271" width="1" height="17" fill="#32c832"/><rect x="752" y="292" width="1" height="1" fill="#32c832"/><rect x="751" y="288" width="3" height="4" fill="#32c832"/><rect x="756" y="265" width="1" height="11" fill="#ff0000"/><rect x="756" y="293" width="1" height="1" fill="#ff0000"/><rect x="755" y="276" width="3" height="17" fill="#ff0000"/><rect x="756" y="277" width="1" height="15" fill="#ff4400"/><rect x="760" y="272" width="1" height="4" fill="#ff0000"/><rect x="760" y="278" width="1" height="12" fill="#ff0000"/><rect x="759" y="276" width="3" height="2" fill="#ff0000"/><rect x="764" y="260" width="1" height="4" fill="#ff0000"/><rect x="764" y="278" width="1" height="7" fill="#ff0000"/><rect x="763" y="264" width="3" height="14" fill="#ff0000"/><rect x="764" y="265" width="1" height="12" fill="#ff4400"/><rect x="768" y="233" width="1" height="25" fill="#ff0000"/><rect x="768" y="265" width="1" height="7" fill="#ff0000"/><rect x="767" y="258" width="3" height="7" fill="#ff0000"/><rect x="768" y="259" width="1" height="5" fill="#ff4400"/><rect x="772" y="254" width="1" height="4" fill="#32c832"/><rect x="772" y="267" width="1" height="6" fill="#32c832"/><rect x="771" y="258" width="3" height="9" fill="#32c832"/><rect x="776" y="260" width="1" height="7" fill="#32c832"/><rect x="776" y="282" width="1" height="8" fill="#32c832"/><rect x="775" y="267" width="3" height="15" fill="#32c832"/><rect x="780" y="244" width="1" height="4" fill="#ff0000"/><rect x="780" y="282" width="1" height="9" fill="#ff0000"/><rect x="779" y="248" width="3" height="34" fill="#ff0000"/><rect x="780" y="249" width="1" height="32" fill="#ff4400"/><rect x="784" y="241" width="1" height="7" fill="#32c832"/><rect x="784" y="265" width="1" height="15" fill="#32c832"/><rect x="783" y="248" width="3" height="17" fill="#32c832"/><rect x="788" y="217" width="1" height="6" fill="#ff0000"/><rect x="788" y="263" width="1" height="9" fill="#ff0000"/><rect x="787" y="223" width="3" height="40" fill="#ff0000"/><rect x="788" y="224" width="1" height="38" fill="#ff4400"/><rect x="792" y="217" width="1" height="6" fill="#32c832"/><rect x="792" y="243" width="1" height="8" fill="#32c832"/><rect x="791" y="223" width="3" height="20" fill="#32c832"/><rect x="796" y="239" width="1" height="3" fill="#32c832"/><rect x="796" y="250" width="1" height="1" fill="#32c832"/><rect x="795" y="242" width="3" height="8" fill="#32c832"/><rect x="800" y="246" width="1" height="8" fill="#32c832"/><rect x="800" y="259" width="1" height="7" fill="#32c832"/><rect x="799" y="254" width="3" height="5" fill="#32c832"/><rect x="804" y="248" width="1" height="9" fill="#32c832"/><rect x="804" y="274" width="1" height="3" fill="#32c832"/><rect x="803" y="257" width="3" height="17" fill="#32c832"/><rect x="808" y="244" width="1" height="28" fill="#32c832"/><rect x="808" y="282" width="1" height="23" fill="#32c832"/><rect x="807" y="272" width="3" height="10" fill="#32c832"/><rect x="812" y="266" width="1" height="14" fill="#32c832"/><rect x="812" y="285" width="1" height="10" fill="#32c832"/><rect x="811" y="280" width="3" height="5" fill="#32c832"/><rect x="816" y="285" width="1" height="5" fill="#ff0000"/><rect x="815" y="247" width="3" height="38" fill="#ff0000"/><rect x="816" y="248" width="1" height="36" fill="#ff4400"/><rect x="820" y="248" width="1" height="1" fill="#32c832"/><rect x="820" y="263" width="1" height="4" fill="#32c832"/><rect x="819" y="249" width="3" height="14" fill="#32c832"/><rect x="824" y="224" width="1" height="10" fill="#ff0000"/><rect x="824" y="259" width="1" height="1" fill="#ff0000"/><rect x="823" y="234" width="3" height="25" fill="#ff0000"/><rect x="824" y="235" width="1" height="23" fill="#ff4400"/><rect x="828" y="219" width="1" height="15" fill="#32c832"/><rect x="828" y="241" width="1" height="10" fill="#32c832"/><rect x="827" y="234" width="3" height="7" fill="#32c832"/><rect x="832" y="234" width="1" height="6" fill="#32c832"/><rect x="832" y="280" width="1" height="2" fill="#32c832"/><rect x="831" y="240" width="3" height="40" fill="#32c832"/><rect x="836" y="256" width="1" height="1" fill="#ff0000"/><rect x="836" y="280" width="1" height="7" fill="#ff0000"/><rect x="835" y="257" width="3" height="23" fill="#ff0000"/><rect x="836" y="258" width="1" height="21" fill="#ff4400"/><rect x="840" y="240" width="1" height="6" fill="#ff0000"/><rect x="840" y="259" width="1" height="13" fill="#ff0000"/><rect x="839" y="246" width="3" height="13" fill="#ff0000"/><rect x="840" y="247" width="1" height="11" fill="#ff4400"/><rect x="844" y="262" width="1" height="1" fill="#32c832"/><rect x="843" y="246" width="3" height="16" fill="#32c832"/><rect x="848" y="227" width="1" height="21" fill="#ff0000"/><rect x="848" y="259" width="1" height="1" fill="#ff0000"/><rect x="847" y="248" width="3" height="11" fill="#ff0000"/><rect x="848" y="249" width="1" height="9" fill="#ff4400"/><rect x="852" y="172" width="1" height="4" fill="#ff0000"/><rect x="852" y="250" width="1" height="8" fill="#ff0000"/><rect x="851" y="176" width="3" height="74" fill="#ff0000"/><rect x="852" y="177" width="1" height="72" fill="#ff4400"/><rect x="856" y="166" width="1" height="10" fill="#32c832"/><rect x="856" y="214" width="1" height="12" fill="#32c832"/><rect x="855" y="176" width="3" height="38" fill="#32c832"/><rect x="860" y="197" width="1" height="16" fill="#32c832"/><rect x="860" y="291" width="1" height="3" fill="#32c832"/><rect x="859" y="213" width="3" height="78" fill="#32c832"/><rect x="864" y="264" width="1" height="16" fill="#ff0000"/><rect x="864" y="291" width="1" height="13" fill="#ff0000"/><rect x="863" y="280" width="3" height="11" fill="#ff0000"/><rect x="864" y="281" width="1" height="9" fill="#ff4400"/><rect x="868" y="273" width="1" height="3" fill="#ff0000"/><rect x="868" y="281" width="1" height="7" fill="#ff0000"/><rect x="867" y="276" width="3" height="5" fill="#ff0000"/><rect x="868" y="277" width="1" height="3" fill="#ff4400"/><rect x="872" y="265" width="1" height="12" fill="#32c832"/><rect x="872" y="279" width="1" height="10" fill="#32c832"/><rect x="871" y="277" width="3" height="2" fill="#32c832"/><rect x="876" y="270" width="1" height="5" fill="#ff0000"/><rect x="876" y="280" width="1" height="8" fill="#ff0000"/><rect x="875" y="275" width="3" height="5" fill="#ff0000"/><rect x="876" y="276" width="1" height="3" fill="#ff4400"/><rect x="880" y="271" width="1" height="4" fill="#32c832"/><rect x="880" y="285" width="1" height="15" fill="#32c832"/><rect x="879" y="275" width="3" height="10" fill="#32c832"/><rect x="884" y="276" width="1" height="7" fill="#32c832"/><rect x="884" y="293" width="1" height="5" fill="#32c832"/><rect x="883" y="283" width="3" height="10" fill="#32c832"/><rect x="888" y="245" width="1" height="5" fill="#ff0000"/><rect x="888" y="293" width="1" height="1" fill="#ff0000"/><rect x="887" y="250" width="3" height="43" fill="#ff0000"/><rect x="888" y="251" width="1" height="41" fill="#ff4400"/><rect x="892" y="247" width="1" height="3" fill="#32c832"/><rect x="892" y="257" width="1" height="1" fill="#32c832"/><rect x="891" y="250" width="3" height="7" fill="#32c832"/><rect x="896" y="238" width="1" height="5" fill="#ff0000"/><rect x="896" y="250" width="1" height="15" fill="#ff0000"/><rect x="895" y="243" width="3" height="7" fill="#ff0000"/><rect x="896" y="244" width="1" height="5" fill="#ff4400"/><rect x="900" y="235" width="1" height="4" fill="#ff0000"/><rect x="900" y="244" width="1" height="10" fill="#ff0000"/><rect x="899" y="239" width="3" height="5" fill="#ff0000"/><rect x="900" y="240" width="1" height="3" fill="#ff4400"/><rect x="904" y="229" width="1" height="11" fill="#32c832"/><rect x="904" y="259" width="1" height="4" fill="#32c832"/><rect x="903" y="240" width="3" height="19" fill="#32c832"/><rect x="908" y="248" width="1" height="9" fill="#32c832"/><rect x="908" y="258" width="1" height="8" fill="#32c832"/><rect x="907" y="257" width="3" height="1" fill="#32c832"/><rect x="912" y="242" width="1" height="13" fill="#ff0000"/><rect x="912" y="258" width="1" height="2" fill="#ff0000"/><rect x="911" y="255" width="3" height="3" fill="#ff0000"/><rect x="912" y="256" width="1" height="1" fill="#ff4400"/><rect x="916" y="254" width="1" height="1" fill="#32c832"/><rect x="915" y="255" width="3" height="6" fill="#32c832"/><rect x="920" y="249" width="1" height="2" fill="#32c832"/><rect x="920" y="260" width="1" height="3" fill="#32c832"/><rect x="919" y="251" width="3" height="9" fill="#32c832"/><rect x="924" y="253" width="1" height="5" fill="#ff0000"/><rect x="924" y="260" width="1" height="6" fill="#ff0000"/><rect x="923" y="258" width="3" height="2" fill="#ff0000"/><path d="M40 0h1v1h-1zM41 1h1v1h-1zM41 2h1v1h-1zM42 3h1v1h-1zM43 4h1v1h-1zM43 5h1v1h-1zM44 6h1v1h-1zM45 7h1v1h-1zM46 8h1v1h-1zM46 9h1v1h-1zM47 10h1v1h-1zM48 11h1v1h-1zM48 12h1v1h-1zM49 13h1v1h-1zM50 14h1v1h-1zM50 15h1v1h-1zM51 16h1v1h-1zM52 17h1v1h-1zM52 18h1v1h-1zM53 19h1v1h-1zM54 20h1v1h-1zM55 21h1v1h-1zM55 22h1v1h-1zM56 23h1v1h-1zM57 24h1v1h-1zM57 25h1v1h-1zM58 26h1v1h-1zM59 27h1v1h-1zM59 28h1v1h-1zM60 29h1v1h-1zM61 30h1v1h-1zM61 31h1v1h-1zM62 32h1v1h-1zM62 33h1v1h-1zM63 34h1v1h-1zM64 35h1v1h-1zM64 36h1v1h-1zM65 37h1v1h-1zM66 38h1v1h-1zM66 39h1v1h-1zM67 40h1v1h-1zM67 41h1v1h-1zM68 42h1v1h-1zM69 43h1v1h-1zM69 44h1v1h-1zM70 45h1v1h-1zM70 46h1v1h-1zM71 47h1v1h-1zM71 48h1v1h-1zM72 49h1v1h-1zM72 50h1v1h-1zM73 51h1v1h-1zM73 52h1v1h-1zM74 53h1v1h-1zM74 54h1v1h-1zM75 55h1v1h-1zM76 56h1v1h-1zM76 57h1v1h-1zM77 58h1v1h-1zM77 59h1v1h-1zM78 60h1v1h-1zM78 61h1v1h-1zM79 62h1v1h-1zM79 63h1v1h-1zM80 64h1v1h-1zM80 65h1v1h-1zM81 66h1v1h-1zM82 67h1v1h-1zM82 68h1v1h-1zM83 69h1v1h-1zM83 70h1v1h-1zM84 71h1v1h-1zM84 72h1v1h-1zM85 73h1v1h-1zM85 74h1v1h-1zM86 75h1v1h-1zM86 76h1v1h-1zM87 77h1v1h-1zM87 78h1v1h-1zM88 79h1v1h-1zM89 80h1v1h-1zM89 81h1v1h-1zM90 82h1v1h-1zM90 83h1v1h-1zM91 84h1v1h-1zM91 85h1v1h-1zM92 86h1v1h-1zM92 87h1v1h-1zM93 88h1v1h-1zM93 89h1v1h-1zM94 90h1v1h-1zM95 91h1v1h-1zM95 92h1v1h-1zM96 93h1v1h-1zM96 94h1v1h-1zM97 95h1v1h-1zM97 96h1v1h-1zM98 97h1v1h-1zM98 98h1v1h-1zM99 99h1v1h-1zM99 100h1v1h-1zM100 101h1v1h-1zM100 102h1v1h-1zM101 103h1v1h-1zM102 104h1v1h-1zM102 105h1v1h-1zM103 106h1v1h-1zM104 107h1v1h-1zM105 108h1v1h-1zM105 109h1v1h-1zM106 110h1v1h-1zM107 111h1v1h-1zM108 112h1v1h-1zM108 113h1v1h-1zM109 114h1v1h-1zM110 115h2v1h-2zM112 116h1v1h-1zM113 117h2v1h-2zM115 118h1v1h-1zM116 119h2v1h-2zM118 120h1v1h-1zM119 121h1v1h-1zM120 122h1v1h-1zM121 123h1v1h-1zM122 124h1v1h-1zM122 125h1v1h-1zM123 126h1v1h-1zM124 127h1v1h-1zM125 128h1v1h-1zM126 129h1v1h-1zM127 130h2v1h-2zM129 131h1v1h-1zM130 132h1v1h-1zM131 133h1v1h-1zM132 134h1v1h-1zM133 135h1v1h-1zM134 136h1v1h-1zM135 137h1v1h-1zM136 138h1v1h-1zM137 139h1v1h-1zM137 140h1v1h-1zM138 141h1v1h-1zM139 142h1v1h-1zM140 143h1v1h-1zM141 144h1v1h-1zM142 145h1v1h-1zM143 146h1v1h-1zM144 147h1v1h-1zM145 148h1v1h-1zM146 149h1v1h-1zM146 150h1v1h-1zM147 151h1v1h-1zM148 152h1v1h-1zM149 153h1v1h-1zM149 154h1v1h-1zM150 155h1v1h-1zM151 156h1v1h-1zM152 157h1v1h-1zM152 158h1v1h-1zM153 159h1v1h-1zM154 160h1v1h-1zM155 161h1v1h-1zM514 161h4v1h-4zM155 162h1v1h-1zM511 162h3v1h-3zM518 162h4v1h-4zM156 163h1v1h-1zM509 163h2v1h-2zM522 163h3v1h-3zM157 164h1v1h-1zM507 164h2v1h-2zM525 164h1v1h-1zM158 165h1v1h-1zM505 165h2v1h-2zM526 165h2v1h-2zM158 166h1v1h-1zM503 166h2v1h-2zM528 166h2v1h-2zM159 167h1v1h-1zM501 167h2v1h-2zM530 167h3v1h-3zM160 168h1v1h-1zM499 168h2v1h-2zM533 168h2v1h-2zM161 169h1v1h-1zM497 169h2v1h-2zM535 169h6v1h-6zM162 170h2v1h-2zM495 170h2v1h-2zM541 170h2v1h-2zM164 171h1v1h-1zM493 171h2v1h-2zM543 171h3v1h-3zM165 172h1v1h-1zM492 172h1v1h-1zM546 172h4v1h-4zM166 173h1v1h-1zM491 173h1v1h-1zM550 173h3v1h-3zM167 174h1v1h-1zM490 174h1v1h-1zM553 174h2v1h-2zM168 175h1v1h-1zM489 175h1v1h-1zM555 175h3v1h-3zM169 176h1v1h-1zM488 176h1v1h-1zM558 176h4v1h-4zM170 177h1v1h-1zM487 177h1v1h-1zM562 177h4v1h-4zM170 178h1v1h-1zM486 178h1v1h-1zM566 178h3v1h-3zM171 179h1v1h-1zM485 179h1v1h-1zM569 179h2v1h-2zM172 180h1v1h-1zM484 180h1v1h-1zM571 180h2v1h-2zM173 181h1v1h-1zM483 181h1v1h-1zM573 181h1v1h-1zM174 182h1v1h-1zM482 182h1v1h-1zM574 182h1v1h-1zM175 183h1v1h-1zM481 183h1v1h-1zM575 183h1v1h-1zM176 184h1v1h-1zM480 184h1v1h-1zM576 184h1v1h-1zM177 185h1v1h-1zM479 185h1v1h-1zM577 185h1v1h-1zM178 186h1v1h-1zM478 186h1v1h-1zM578 186h1v1h-1zM178 187h1v1h-1zM477 187h1v1h-1zM579 187h1v1h-1zM179 188h1v1h-1zM476 188h1v1h-1zM580 188h1v1h-1zM180 189h1v1h-1zM475 189h1v1h-1zM581 189h1v1h-1zM181 190h1v1h-1zM474 190h1v1h-1zM582 190h1v1h-1zM182 191h1v1h-1zM473 191h1v1h-1zM582 191h1v1h-1zM183 192h1v1h-1zM472 192h1v1h-1zM583 192h1v1h-1zM184 193h1v1h-1zM471 193h1v1h-1zM584 193h1v1h-1zM185 194h1v1h-1zM470 194h1v1h-1zM585 194h1v1h-1zM186 195h1v1h-1zM469 195h1v1h-1zM586 195h1v1h-1zM186 196h1v1h-1zM468 196h1v1h-1zM586 196h1v1h-1zM187 197h1v1h-1zM466 197h2v1h-2zM587 197h1v1h-1zM188 198h1v1h-1zM465 198h1v1h-1zM588 198h1v1h-1zM189 199h1v1h-1zM464 199h1v1h-1zM589 199h1v1h-1zM190 200h1v1h-1zM463 200h1v1h-1zM590 200h1v1h-1zM191 201h1v1h-1zM462 201h1v1h-1zM591 201h1v1h-1zM192 202h1v1h-1zM462 202h1v1h-1zM592 202h1v1h-1zM193 203h1v1h-1zM461 203h1v1h-1zM593 203h1v1h-1zM194 204h2v1h-2zM460 204h1v1h-1zM594 204h1v1h-1zM196 205h1v1h-1zM459 205h1v1h-1zM595 205h1v1h-1zM197 206h1v1h-1zM459 206h1v1h-1zM596 206h1v1h-1zM198 207h2v1h-2zM458 207h1v1h-1zM597 207h1v1h-1zM200 208h1v1h-1zM458 208h1v1h-1zM598 208h1v1h-1zM201 209h1v1h-1zM457 209h1v1h-1zM598 209h1v1h-1zM202 210h2v1h-2zM457 210h1v1h-1zM599 210h1v1h-1zM204 211h1v1h-1zM456 211h1v1h-1zM600 211h1v1h-1zM205 212h1v1h-1zM455 212h1v1h-1zM601 212h1v1h-1zM206 213h2v1h-2zM455 213h1v1h-1zM601 213h1v1h-1zM208 214h1v1h-1zM454 214h1v1h-1zM602 214h1v1h-1zM209 215h1v1h-1zM454 215h1v1h-1zM603 215h1v1h-1zM210 216h2v1h-2zM453 216h1v1h-1zM603 216h1v1h-1zM212 217h6v1h-6zM453 217h1v1h-1zM604 217h1v1h-1zM218 218h4v1h-4zM452 218h1v1h-1zM605 218h1v1h-1zM222 219h3v1h-3zM451 219h1v1h-1zM606 219h1v1h-1zM225 220h1v1h-1zM451 220h1v1h-1zM606 220h1v1h-1zM226 221h2v1h-2zM450 221h1v1h-1zM607 221h1v1h-1zM228 222h1v1h-1zM449 222h1v1h-1zM608 222h1v1h-1zM229 223h2v1h-2zM449 223h1v1h-1zM609 223h1v1h-1zM231 224h2v1h-2zM448 224h1v1h-1zM609 224h1v1h-1zM233 225h1v1h-1zM447 225h1v1h-1zM610 225h1v1h-1zM234 226h2v1h-2zM447 226h1v1h-1zM610 226h1v1h-1zM236 227h1v1h-1zM446 227h1v1h-1zM611 227h1v1h-1zM237 228h1v1h-1zM446 228h1v1h-1zM611 228h1v1h-1zM238 229h1v1h-1zM445 229h1v1h-1zM612 229h1v1h-1zM239 230h1v1h-1zM445 230h1v1h-1zM613 230h1v1h-1zM240 231h1v1h-1zM444 231h1v1h-1zM613 231h1v1h-1zM241 232h1v1h-1zM443 232h1v1h-1zM614 232h1v1h-1zM242 233h1v1h-1zM443 233h1v1h-1zM615 233h1v1h-1zM243 234h1v1h-1zM442 234h1v1h-1zM615 234h1v1h-1zM244 235h1v1h-1zM441 235h1v1h-1zM616 235h1v1h-1zM245 236h2v1h-2zM441 236h1v1h-1zM617 236h1v1h-1zM247 237h2v1h-2zM440 237h1v1h-1zM617 237h1v1h-1zM249 238h2v1h-2zM439 238h1v1h-1zM618 238h1v1h-1zM251 239h2v1h-2zM439 239h1v1h-1zM619 239h1v1h-1zM253 240h2v1h-2zM438 240h1v1h-1zM619 240h1v1h-1zM255 241h2v1h-2zM438 241h1v1h-1zM620 241h1v1h-1zM257 242h2v1h-2zM437 242h1v1h-1zM621 242h1v1h-1zM259 243h2v1h-2zM437 243h1v1h-1zM622 243h1v1h-1zM261 244h2v1h-2zM436 244h1v1h-1zM622 244h1v1h-1zM263 245h2v1h-2zM435 245h1v1h-1zM623 245h1v1h-1zM265 246h1v1h-1zM434 246h1v1h-1zM624 246h1v1h-1zM266 247h1v1h-1zM434 247h1v1h-1zM625 247h1v1h-1zM267 248h1v1h-1zM433 248h1v1h-1zM626 248h1v1h-1zM268 249h1v1h-1zM432 249h1v1h-1zM626 249h1v1h-1zM269 250h1v1h-1zM431 250h1v1h-1zM627 250h1v1h-1zM270 251h1v1h-1zM430 251h1v1h-1zM628 251h1v1h-1zM271 252h1v1h-1zM429 252h1v1h-1zM629 252h1v1h-1zM272 253h1v1h-1zM428 253h1v1h-1zM629 253h1v1h-1zM273 254h1v1h-1zM427 254h1v1h-1zM630 254h1v1h-1zM274 255h1v1h-1zM426 255h1v1h-1zM631 255h1v1h-1zM274 256h1v1h-1zM425 256h1v1h-1zM631 256h1v1h-1zM275 257h1v1h-1zM424 257h1v1h-1zM632 257h1v1h-1zM918 257h7v1h-7zM276 258h1v1h-1zM422 258h2v1h-2zM633 258h1v1h-1zM910 258h8v1h-8zM277 259h1v1h-1zM421 259h1v1h-1zM633 259h1v1h-1zM906 259h4v1h-4zM278 260h1v1h-1zM419 260h2v1h-2zM634 260h1v1h-1zM898 260h8v1h-8zM279 261h1v1h-1zM417 261h2v1h-2zM635 261h1v1h-1zM874 261h24v1h-24zM280 262h1v1h-1zM414 262h3v1h-3zM635 262h1v1h-1zM872 262h2v1h-2zM281 263h1v1h-1zM411 263h3v1h-3zM636 263h1v1h-1zM870 263h2v1h-2zM282 264h1v1h-1zM409 264h2v1h-2zM637 264h1v1h-1zM869 264h1v1h-1zM283 265h1v1h-1zM407 265h2v1h-2zM637 265h1v1h-1zM867 265h2v1h-2zM284 266h1v1h-1zM405 266h2v1h-2zM638 266h1v1h-1zM865 266h2v1h-2zM285 267h1v1h-1zM403 267h2v1h-2zM638 267h1v1h-1zM864 267h1v1h-1zM286 268h1v1h-1zM401 268h2v1h-2zM639 268h1v1h-1zM862 268h2v1h-2zM286 269h1v1h-1zM400 269h1v1h-1zM639 269h1v1h-1zM861 269h1v1h-1zM287 270h1v1h-1zM398 270h2v1h-2zM640 270h1v1h-1zM860 270h1v1h-1zM288 271h1v1h-1zM397 271h1v1h-1zM640 271h1v1h-1zM858 271h2v1h-2zM289 272h1v1h-1zM394 272h3v1h-3zM641 272h1v1h-1zM857 272h1v1h-1zM290 273h1v1h-1zM390 273h4v1h-4zM641 273h1v1h-1zM856 273h1v1h-1zM291 274h1v1h-1zM386 274h4v1h-4zM642 274h1v1h-1zM855 274h1v1h-1zM292 275h1v1h-1zM374 275h12v1h-12zM642 275h1v1h-1zM854 275h1v1h-1zM293 276h1v1h-1zM371 276h3v1h-3zM643 276h1v1h-1zM853 276h1v1h-1zM294 277h1v1h-1zM369 277h2v1h-2zM643 277h1v1h-1zM852 277h1v1h-1zM294 278h1v1h-1zM368 278h1v1h-1zM644 278h1v1h-1zM851 278h1v1h-1zM295 279h1v1h-1zM367 279h1v1h-1zM644 279h1v1h-1zM851 279h1v1h-1zM296 280h1v1h-1zM366 280h1v1h-1zM645 280h1v1h-1zM850 280h1v1h-1zM297 281h1v1h-1zM365 281h1v1h-1zM645 281h1v1h-1zM849 281h1v1h-1zM298 282h2v1h-2zM363 282h2v1h-2zM646 282h1v1h-1zM849 282h1v1h-1zM300 283h1v1h-1zM361 283h2v1h-2zM646 283h1v1h-1zM848 283h1v1h-1zM301 284h2v1h-2zM318 284h4v1h-4zM338 284h23v1h-23zM647 284h1v1h-1zM847 284h1v1h-1zM303 285h2v1h-2zM314 285h4v1h-4zM322 285h16v1h-16zM647 285h1v1h-1zM846 285h1v1h-1zM305 286h2v1h-2zM310 286h4v1h-4zM648 286h1v1h-1zM845 286h1v1h-1zM307 287h3v1h-3zM648 287h1v1h-1zM844 287h1v1h-1zM649 288h1v1h-1zM842 288h2v1h-2zM649 289h1v1h-1zM841 289h1v1h-1zM650 290h1v1h-1zM840 290h1v1h-1zM650 291h1v1h-1zM839 291h1v1h-1zM651 292h1v1h-1zM838 292h1v1h-1zM651 293h1v1h-1zM837 293h1v1h-1zM652 294h1v1h-1zM836 294h1v1h-1zM652 295h1v1h-1zM835 295h1v1h-1zM653 296h1v1h-1zM834 296h1v1h-1zM653 297h1v1h-1zM833 297h1v1h-1zM654 298h1v1h-1zM832 298h1v1h-1zM654 299h1v1h-1zM830 299h2v1h-2zM655 300h1v1h-1zM829 300h1v1h-1zM655 301h1v1h-1zM828 301h1v1h-1zM656 302h1v1h-1zM827 302h1v1h-1zM657 303h1v1h-1zM826 303h1v1h-1zM657 304h1v1h-1zM825 304h1v1h-1zM658 305h1v1h-1zM824 305h1v1h-1zM659 306h1v1h-1zM823 306h1v1h-1zM659 307h1v1h-1zM822 307h1v1h-1zM660 308h1v1h-1zM822 308h1v1h-1zM661 309h1v1h-1zM821 309h1v1h-1zM661 310h1v1h-1zM820 310h1v1h-1zM662 311h1v1h-1zM819 311h1v1h-1zM663 312h1v1h-1zM818 312h1v1h-1zM663 313h1v1h-1zM817 313h1v1h-1zM664 314h1v1h-1zM816 314h1v1h-1zM665 315h1v1h-1zM815 315h1v1h-1zM665 316h1v1h-1zM814 316h1v1h-1zM666 317h1v1h-1zM814 317h1v1h-1zM667 318h1v1h-1zM813 318h1v1h-1zM667 319h1v1h-1zM812 319h1v1h-1zM668 320h1v1h-1zM811 320h1v1h-1zM669 321h1v1h-1zM810 321h1v1h-1zM670 322h1v1h-1zM809 322h1v1h-1zM670 323h1v1h-1zM808 323h1v1h-1zM671 324h1v1h-1zM807 324h1v1h-1zM672 325h1v1h-1zM806 325h1v1h-1zM673 326h1v1h-1zM806 326h1v1h-1zM674 327h1v1h-1zM805 327h1v1h-1zM674 328h1v1h-1zM804 328h1v1h-1zM675 329h1v1h-1zM803 329h1v1h-1zM676 330h1v1h-1zM802 330h1v1h-1zM677 331h1v1h-1zM801 331h1v1h-1zM678 332h1v1h-1zM800 332h1v1h-1zM679 333h1v1h-1zM799 333h1v1h-1zM680 334h1v1h-1zM798 334h1v1h-1zM681 335h1v1h-1zM797 335h1v1h-1zM682 336h1v1h-1zM796 336h1v1h-1zM683 337h1v1h-1zM794 337h2v1h-2zM684 338h1v1h-1zM793 338h1v1h-1zM685 339h1v1h-1zM792 339h1v1h-1zM686 340h1v1h-1zM790 340h2v1h-2zM686 341h1v1h-1zM789 341h1v1h-1zM687 342h1v1h-1zM788 342h1v1h-1zM688 343h1v1h-1zM786 343h2v1h-2zM689 344h1v1h-1zM785 344h1v1h-1zM690 345h1v1h-1zM782 345h3v1h-3zM691 346h1v1h-1zM779 346h3v1h-3zM692 347h1v1h-1zM777 347h2v1h-2zM693 348h1v1h-1zM775 348h2v1h-2zM694 349h2v1h-2zM773 349h2v1h-2zM696 350h1v1h-1zM771 350h2v1h-2zM697 351h1v1h-1zM769 351h2v1h-2zM698 352h1v1h-1zM766 352h3v1h-3zM699 353h1v1h-1zM763 353h3v1h-3zM700 354h1v1h-1zM761 354h2v1h-2zM701 355h1v1h-1zM758 355h3v1h-3zM702 356h2v1h-2zM747 356h11v1h-11zM704 357h1v1h-1zM745 357h2v1h-2zM705 358h2v1h-2zM743 358h2v1h-2zM707 359h2v1h-2zM741 359h2v1h-2zM709 360h1v1h-1zM739 360h2v1h-2zM710 361h1v1h-1zM737 361h2v1h-2zM711 362h1v1h-1zM736 362h1v1h-1zM712 363h6v1h-6zM734 363h2v1h-2zM718 364h4v1h-4zM733 364h1v1h-1zM722 365h4v1h-4zM730 365h3v1h-3zM726 366h4v1h-4z" fill="#ffff00"/><path d="M4 12h1v1h-1zM5 13h1v1h-1zM5 14h1v1h-1zM6 15h1v1h-1zM6 16h1v1h-1zM7 17h1v1h-1zM7 18h1v1h-1zM8 19h1v1h-1zM9 20h1v1h-1zM9 21h1v1h-1zM10 22h1v1h-1zM10 23h1v1h-1zM11 24h1v1h-1zM11 25h1v1h-1zM12 26h1v1h-1zM13 27h1v1h-1zM13 28h1v1h-1zM14 29h1v1h-1zM14 30h1v1h-1zM15 31h1v1h-1zM15 32h1v1h-1zM16 33h1v1h-1zM16 34h1v1h-1zM17 35h1v1h-1zM17 36h1v1h-1zM18 37h1v1h-1zM18 38h1v1h-1zM19 39h1v1h-1zM19 40h1v1h-1zM20 41h1v1h-1zM20 42h1v1h-1zM21 43h1v1h-1zM21 44h1v1h-1zM22 45h1v1h-1zM22 46h1v1h-1zM23 47h1v1h-1zM24 48h1v1h-1zM24 49h1v1h-1zM25 50h1v1h-1zM26 51h1v1h-1zM26 52h1v1h-1zM27 53h1v1h-1zM27 54h1v1h-1zM28 55h1v1h-1zM29 56h1v1h-1zM29 57h1v1h-1zM30 58h1v1h-1zM31 59h1v1h-1zM31 60h1v1h-1zM32 61h1v1h-1zM32 62h1v1h-1zM33 63h1v1h-1zM34 64h1v1h-1zM34 65h1v1h-1zM35 66h1v1h-1zM36 67h1v1h-1zM36 68h1v1h-1zM37 69h1v1h-1zM37 70h1v1h-1zM38 71h1v1h-1zM39 72h1v1h-1zM39 73h1v1h-1zM40 74h1v1h-1zM41 75h1v1h-1zM41 76h1v1h-1zM42 77h1v1h-1zM42 78h1v1h-1zM43 79h1v1h-1zM44 80h1v1h-1zM44 81h1v1h-1zM45 82h1v1h-1zM46 83h1v1h-1zM46 84h1v1h-1zM47 85h1v1h-1zM47 86h1v1h-1zM48 87h1v1h-1zM49 88h1v1h-1zM49 89h1v1h-1zM50 90h1v1h-1zM51 91h1v1h-1zM51 92h1v1h-1zM52 93h1v1h-1zM52 94h1v1h-1zM53 95h1v1h-1zM54 96h1v1h-1zM54 97h1v1h-1zM55 98h1v1h-1zM56 99h1v1h-1zM56 100h1v1h-1zM57 101h1v1h-1zM57 102h1v1h-1zM58 103h1v1h-1zM58 104h1v1h-1zM59 105h1v1h-1zM59 106h1v1h-1zM59 107h1v1h-1zM60 108h1v1h-1zM60 109h1v1h-1zM60 110h1v1h-1zM61 111h1v1h-1zM61 112h1v1h-1zM61 113h1v1h-1zM62 114h1v1h-1zM62 115h1v1h-1zM63 116h1v1h-1zM64 117h1v1h-1zM65 118h1v1h-1zM65 119h1v1h-1zM66 120h1v1h-1zM67 121h1v1h-1zM68 122h1v1h-1zM69 123h1v1h-1zM70 124h2v1h-2zM72 125h3v1h-3zM75 126h3v1h-3zM506 126h3v1h-3zM78 127h2v1h-2zM502 127h4v1h-4zM509 127h1v1h-1zM80 128h2v1h-2zM499 128h3v1h-3zM510 128h1v1h-1zM82 129h1v1h-1zM497 129h2v1h-2zM511 129h1v1h-1zM83 130h1v1h-1zM494 130h3v1h-3zM512 130h1v1h-1zM84 131h2v1h-2zM492 131h2v1h-2zM513 131h1v1h-1zM86 132h1v1h-1zM490 132h2v1h-2zM514 132h2v1h-2zM87 133h1v1h-1zM489 133h1v1h-1zM516 133h1v1h-1zM88 134h2v1h-2zM488 134h1v1h-1zM517 134h1v1h-1zM90 135h1v1h-1zM487 135h1v1h-1zM518 135h1v1h-1zM91 136h1v1h-1zM486 136h1v1h-1zM518 136h1v1h-1zM91 137h1v1h-1zM485 137h1v1h-1zM519 137h1v1h-1zM92 138h1v1h-1zM484 138h1v1h-1zM520 138h1v1h-1zM93 139h1v1h-1zM483 139h1v1h-1zM521 139h1v1h-1zM93 140h1v1h-1zM482 140h1v1h-1zM521 140h1v1h-1zM94 141h1v1h-1zM481 141h1v1h-1zM522 141h1v1h-1zM95 142h1v1h-1zM480 142h1v1h-1zM522 142h1v1h-1zM96 143h1v1h-1zM479 143h1v1h-1zM523 143h1v1h-1zM96 144h1v1h-1zM478 144h1v1h-1zM523 144h1v1h-1zM97 145h1v1h-1zM478 145h1v1h-1zM524 145h1v1h-1zM98 146h1v1h-1zM477 146h1v1h-1zM525 146h1v1h-1zM98 147h1v1h-1zM476 147h1v1h-1zM525 147h1v1h-1zM99 148h1v1h-1zM475 148h1v1h-1zM526 148h1v1h-1zM100 149h1v1h-1zM474 149h1v1h-1zM527 149h1v1h-1zM101 150h1v1h-1zM474 150h1v1h-1zM527 150h1v1h-1zM102 151h1v1h-1zM473 151h1v1h-1zM528 151h1v1h-1zM103 152h2v1h-2zM472 152h1v1h-1zM529 152h1v1h-1zM105 153h1v1h-1zM471 153h1v1h-1zM529 153h1v1h-1zM106 154h1v1h-1zM470 154h1v1h-1zM530 154h1v1h-1zM107 155h1v1h-1zM469 155h1v1h-1zM530 155h1v1h-1zM108 156h1v1h-1zM468 156h1v1h-1zM531 156h1v1h-1zM109 157h2v1h-2zM466 157h2v1h-2zM531 157h1v1h-1zM111 158h2v1h-2zM465 158h1v1h-1zM532 158h1v1h-1zM113 159h1v1h-1zM464 159h1v1h-1zM533 159h1v1h-1zM114 160h1v1h-1zM463 160h1v1h-1zM533 160h1v1h-1zM115 161h1v1h-1zM462 161h1v1h-1zM534 161h1v1h-1zM116 162h1v1h-1zM462 162h1v1h-1zM534 162h1v1h-1zM117 163h1v1h-1zM461 163h1v1h-1zM535 163h1v1h-1zM118 164h1v1h-1zM460 164h1v1h-1zM535 164h1v1h-1zM119 165h1v1h-1zM459 165h1v1h-1zM536 165h1v1h-1zM120 166h1v1h-1zM458 166h1v1h-1zM536 166h1v1h-1zM121 167h1v1h-1zM458 167h1v1h-1zM537 167h1v1h-1zM122 168h1v1h-1zM457 168h1v1h-1zM537 168h1v1h-1zM123 169h1v1h-1zM456 169h1v1h-1zM538 169h1v1h-1zM124 170h2v1h-2zM455 170h1v1h-1zM538 170h1v1h-1zM126 171h3v1h-3zM454 171h1v1h-1zM539 171h1v1h-1zM129 172h2v1h-2zM453 172h1v1h-1zM539 172h1v1h-1zM131 173h3v1h-3zM452 173h1v1h-1zM540 173h1v1h-1zM134 174h4v1h-4zM450 174h2v1h-2zM540 174h1v1h-1zM138 175h4v1h-4zM449 175h1v1h-1zM541 175h1v1h-1zM142 176h3v1h-3zM448 176h1v1h-1zM541 176h1v1h-1zM145 177h2v1h-2zM447 177h1v1h-1zM542 177h1v1h-1zM147 178h2v1h-2zM446 178h1v1h-1zM542 178h1v1h-1zM149 179h1v1h-1zM445 179h1v1h-1zM543 179h1v1h-1zM149 180h1v1h-1zM444 180h1v1h-1zM543 180h1v1h-1zM150 181h1v1h-1zM443 181h1v1h-1zM544 181h1v1h-1zM151 182h1v1h-1zM442 182h1v1h-1zM544 182h1v1h-1zM151 183h1v1h-1zM441 183h1v1h-1zM545 183h1v1h-1zM152 184h1v1h-1zM440 184h1v1h-1zM545 184h1v1h-1zM153 185h1v1h-1zM440 185h1v1h-1zM546 185h1v1h-1zM153 186h1v1h-1zM439 186h1v1h-1zM546 186h1v1h-1zM154 187h1v1h-1zM439 187h1v1h-1zM547 187h1v1h-1zM154 188h1v1h-1zM438 188h1v1h-1zM547 188h1v1h-1zM155 189h1v1h-1zM438 189h1v1h-1zM548 189h1v1h-1zM155 190h1v1h-1zM437 190h1v1h-1zM549 190h1v1h-1zM156 191h1v1h-1zM437 191h1v1h-1zM549 191h1v1h-1zM156 192h1v1h-1zM436 192h1v1h-1zM550 192h1v1h-1zM157 193h1v1h-1zM436 193h1v1h-1zM551 193h1v1h-1zM157 194h1v1h-1zM435 194h1v1h-1zM551 194h1v1h-1zM158 195h1v1h-1zM435 195h1v1h-1zM552 195h1v1h-1zM158 196h1v1h-1zM434 196h1v1h-1zM553 196h1v1h-1zM159 197h1v1h-1zM433 197h1v1h-1zM553 197h1v1h-1zM159 198h1v1h-1zM433 198h1v1h-1zM554 198h1v1h-1zM160 199h1v1h-1zM432 199h1v1h-1zM555 199h1v1h-1zM161 200h1v1h-1zM431 200h1v1h-1zM555 200h1v1h-1zM161 201h1v1h-1zM430 201h1v1h-1zM556 201h1v1h-1zM162 202h1v1h-1zM430 202h1v1h-1zM557 202h1v1h-1zM163 203h1v1h-1zM429 203h1v1h-1zM557 203h1v1h-1zM163 204h1v1h-1zM428 204h1v1h-1zM558 204h1v1h-1zM164 205h1v1h-1zM427 205h1v1h-1zM558 205h1v1h-1zM165 206h1v1h-1zM427 206h1v1h-1zM559 206h1v1h-1zM165 207h1v1h-1zM426 207h1v1h-1zM559 207h1v1h-1zM166 208h1v1h-1zM426 208h1v1h-1zM560 208h1v1h-1zM167 209h1v1h-1zM425 209h1v1h-1zM560 209h1v1h-1zM167 210h1v1h-1zM425 210h1v1h-1zM561 210h1v1h-1zM168 211h1v1h-1zM424 211h1v1h-1zM562 211h1v1h-1zM169 212h1v1h-1zM422 212h2v1h-2zM562 212h1v1h-1zM170 213h1v1h-1zM421 213h1v1h-1zM563 213h1v1h-1zM170 214h1v1h-1zM420 214h1v1h-1zM564 214h1v1h-1zM171 215h1v1h-1zM418 215h2v1h-2zM565 215h1v1h-1zM172 216h1v1h-1zM417 216h1v1h-1zM565 216h1v1h-1zM173 217h1v1h-1zM416 217h1v1h-1zM566 217h1v1h-1zM174 218h2v1h-2zM414 218h2v1h-2zM566 218h1v1h-1zM176 219h1v1h-1zM413 219h1v1h-1zM567 219h1v1h-1zM177 220h1v1h-1zM412 220h1v1h-1zM567 220h1v1h-1zM178 221h1v1h-1zM411 221h1v1h-1zM568 221h1v1h-1zM178 222h1v1h-1zM410 222h1v1h-1zM569 222h1v1h-1zM179 223h1v1h-1zM410 223h1v1h-1zM569 223h1v1h-1zM180 224h1v1h-1zM409 224h1v1h-1zM570 224h1v1h-1zM181 225h1v1h-1zM408 225h1v1h-1zM570 225h1v1h-1zM182 226h1v1h-1zM407 226h1v1h-1zM571 226h1v1h-1zM183 227h1v1h-1zM406 227h1v1h-1zM571 227h1v1h-1zM184 228h1v1h-1zM405 228h1v1h-1zM572 228h1v1h-1zM185 229h1v1h-1zM403 229h2v1h-2zM572 229h1v1h-1zM186 230h1v1h-1zM401 230h2v1h-2zM573 230h1v1h-1zM187 231h1v1h-1zM400 231h1v1h-1zM573 231h1v1h-1zM188 232h1v1h-1zM399 232h1v1h-1zM574 232h1v1h-1zM189 233h1v1h-1zM398 233h1v1h-1zM574 233h1v1h-1zM190 234h1v1h-1zM397 234h1v1h-1zM574 234h1v1h-1zM190 235h1v1h-1zM396 235h1v1h-1zM575 235h1v1h-1zM191 236h1v1h-1zM395 236h1v1h-1zM575 236h1v1h-1zM192 237h1v1h-1zM394 237h1v1h-1zM576 237h1v1h-1zM193 238h1v1h-1zM393 238h1v1h-1zM576 238h1v1h-1zM194 239h1v1h-1zM391 239h2v1h-2zM576 239h1v1h-1zM195 240h1v1h-1zM389 240h2v1h-2zM577 240h1v1h-1zM196 241h1v1h-1zM388 241h1v1h-1zM577 241h1v1h-1zM197 242h1v1h-1zM387 242h1v1h-1zM578 242h1v1h-1zM198 243h2v1h-2zM386 243h1v1h-1zM578 243h1v1h-1zM200 244h1v1h-1zM386 244h1v1h-1zM579 244h1v1h-1zM201 245h1v1h-1zM385 245h1v1h-1zM579 245h1v1h-1zM202 246h2v1h-2zM384 246h1v1h-1zM580 246h1v1h-1zM204 247h1v1h-1zM383 247h1v1h-1zM580 247h1v1h-1zM205 248h1v1h-1zM383 248h1v1h-1zM580 248h1v1h-1zM206 249h1v1h-1zM382 249h1v1h-1zM581 249h1v1h-1zM206 250h1v1h-1zM381 250h1v1h-1zM581 250h1v1h-1zM856 250h2v1h-2zM207 251h1v1h-1zM381 251h1v1h-1zM582 251h1v1h-1zM854 251h2v1h-2zM858 251h4v1h-4zM208 252h1v1h-1zM380 252h1v1h-1zM582 252h1v1h-1zM853 252h1v1h-1zM862 252h4v1h-4zM209 253h1v1h-1zM379 253h1v1h-1zM582 253h1v1h-1zM852 253h1v1h-1zM866 253h3v1h-3zM209 254h1v1h-1zM379 254h1v1h-1zM583 254h1v1h-1zM851 254h1v1h-1zM869 254h2v1h-2zM210 255h1v1h-1zM378 255h1v1h-1zM583 255h1v1h-1zM850 255h1v1h-1zM871 255h2v1h-2zM902 255h3v1h-3zM211 256h1v1h-1zM378 256h1v1h-1zM584 256h1v1h-1zM849 256h1v1h-1zM873 256h2v1h-2zM895 256h7v1h-7zM905 256h2v1h-2zM914 256h8v1h-8zM211 257h1v1h-1zM377 257h1v1h-1zM584 257h1v1h-1zM842 257h7v1h-7zM875 257h2v1h-2zM893 257h2v1h-2zM907 257h7v1h-7zM922 257h3v1h-3zM212 258h1v1h-1zM377 258h1v1h-1zM585 258h1v1h-1zM839 258h3v1h-3zM877 258h2v1h-2zM890 258h3v1h-3zM213 259h2v1h-2zM376 259h1v1h-1zM585 259h1v1h-1zM837 259h2v1h-2zM879 259h3v1h-3zM886 259h4v1h-4zM215 260h7v1h-7zM376 260h1v1h-1zM586 260h1v1h-1zM834 260h3v1h-3zM882 260h4v1h-4zM222 261h3v1h-3zM250 261h16v1h-16zM375 261h1v1h-1zM586 261h1v1h-1zM828 261h6v1h-6zM225 262h2v1h-2zM235 262h15v1h-15zM266 262h3v1h-3zM375 262h1v1h-1zM587 262h1v1h-1zM826 262h2v1h-2zM227 263h3v1h-3zM233 263h2v1h-2zM269 263h2v1h-2zM374 263h1v1h-1zM587 263h1v1h-1zM825 263h1v1h-1zM230 264h3v1h-3zM271 264h2v1h-2zM374 264h1v1h-1zM588 264h1v1h-1zM802 264h8v1h-8zM822 264h3v1h-3zM273 265h1v1h-1zM373 265h1v1h-1zM588 265h1v1h-1zM799 265h3v1h-3zM810 265h12v1h-12zM274 266h1v1h-1zM373 266h1v1h-1zM589 266h1v1h-1zM797 266h2v1h-2zM274 267h1v1h-1zM372 267h1v1h-1zM589 267h1v1h-1zM796 267h1v1h-1zM275 268h1v1h-1zM372 268h1v1h-1zM590 268h1v1h-1zM795 268h1v1h-1zM276 269h1v1h-1zM371 269h1v1h-1zM591 269h1v1h-1zM795 269h1v1h-1zM277 270h1v1h-1zM371 270h1v1h-1zM591 270h1v1h-1zM794 270h1v1h-1zM278 271h1v1h-1zM370 271h1v1h-1zM592 271h1v1h-1zM794 271h1v1h-1zM278 272h1v1h-1zM370 272h1v1h-1zM593 272h1v1h-1zM793 272h1v1h-1zM279 273h1v1h-1zM369 273h1v1h-1zM594 273h1v1h-1zM793 273h1v1h-1zM280 274h1v1h-1zM369 274h1v1h-1zM595 274h1v1h-1zM792 274h1v1h-1zM281 275h1v1h-1zM368 275h1v1h-1zM596 275h1v1h-1zM791 275h1v1h-1zM281 276h1v1h-1zM368 276h1v1h-1zM597 276h1v1h-1zM791 276h1v1h-1zM282 277h1v1h-1zM367 277h1v1h-1zM598 277h1v1h-1zM790 277h1v1h-1zM282 278h1v1h-1zM367 278h1v1h-1zM598 278h1v1h-1zM789 278h1v1h-1zM283 279h1v1h-1zM367 279h1v1h-1zM599 279h1v1h-1zM789 279h1v1h-1zM283 280h1v1h-1zM366 280h1v1h-1zM600 280h1v1h-1zM788 280h1v1h-1zM284 281h1v1h-1zM366 281h1v1h-1zM601 281h1v1h-1zM788 281h1v1h-1zM285 282h1v1h-1zM365 282h1v1h-1zM602 282h1v1h-1zM787 282h1v1h-1zM286 283h1v1h-1zM365 283h1v1h-1zM602 283h1v1h-1zM787 283h1v1h-1zM287 284h1v1h-1zM365 284h1v1h-1zM603 284h1v1h-1zM786 284h1v1h-1zM288 285h1v1h-1zM364 285h1v1h-1zM604 285h1v1h-1zM786 285h1v1h-1zM289 286h1v1h-1zM364 286h1v1h-1zM605 286h1v1h-1zM785 286h1v1h-1zM290 287h1v1h-1zM363 287h1v1h-1zM606 287h2v1h-2zM785 287h1v1h-1zM291 288h1v1h-1zM363 288h1v1h-1zM608 288h1v1h-1zM784 288h1v1h-1zM292 289h1v1h-1zM362 289h1v1h-1zM609 289h1v1h-1zM783 289h1v1h-1zM293 290h1v1h-1zM362 290h1v1h-1zM609 290h1v1h-1zM783 290h1v1h-1zM294 291h1v1h-1zM361 291h1v1h-1zM610 291h1v1h-1zM782 291h1v1h-1zM294 292h1v1h-1zM361 292h1v1h-1zM611 292h1v1h-1zM781 292h1v1h-1zM295 293h1v1h-1zM360 293h1v1h-1zM611 293h1v1h-1zM781 293h1v1h-1zM296 294h1v1h-1zM360 294h1v1h-1zM612 294h1v1h-1zM780 294h1v1h-1zM297 295h1v1h-1zM359 295h1v1h-1zM613 295h1v1h-1zM779 295h1v1h-1zM297 296h1v1h-1zM359 296h1v1h-1zM614 296h1v1h-1zM779 296h1v1h-1zM298 297h1v1h-1zM358 297h1v1h-1zM614 297h1v1h-1zM778 297h1v1h-1zM299 298h1v1h-1zM358 298h1v1h-1zM615 298h1v1h-1zM778 298h1v1h-1zM299 299h1v1h-1zM357 299h1v1h-1zM616 299h1v1h-1zM777 299h1v1h-1zM300 300h1v1h-1zM357 300h1v1h-1zM617 300h1v1h-1zM777 300h1v1h-1zM301 301h1v1h-1zM356 301h1v1h-1zM618 301h2v1h-2zM776 301h1v1h-1zM302 302h1v1h-1zM354 302h2v1h-2zM620 302h1v1h-1zM775 302h1v1h-1zM303 303h1v1h-1zM353 303h1v1h-1zM621 303h1v1h-1zM775 303h1v1h-1zM304 304h2v1h-2zM350 304h3v1h-3zM622 304h2v1h-2zM774 304h1v1h-1zM306 305h3v1h-3zM339 305h3v1h-3zM346 305h4v1h-4zM624 305h1v1h-1zM773 305h1v1h-1zM309 306h2v1h-2zM337 306h2v1h-2zM342 306h4v1h-4zM625 306h1v1h-1zM773 306h1v1h-1zM311 307h2v1h-2zM323 307h7v1h-7zM334 307h3v1h-3zM626 307h1v1h-1zM772 307h1v1h-1zM313 308h2v1h-2zM321 308h2v1h-2zM330 308h4v1h-4zM627 308h1v1h-1zM771 308h1v1h-1zM315 309h6v1h-6zM628 309h1v1h-1zM771 309h1v1h-1zM629 310h1v1h-1zM770 310h1v1h-1zM630 311h1v1h-1zM770 311h1v1h-1zM631 312h1v1h-1zM769 312h1v1h-1zM632 313h1v1h-1zM769 313h1v1h-1zM633 314h1v1h-1zM768 314h1v1h-1zM634 315h1v1h-1zM767 315h1v1h-1zM634 316h1v1h-1zM767 316h1v1h-1zM635 317h1v1h-1zM766 317h1v1h-1zM636 318h1v1h-1zM765 318h1v1h-1zM637 319h1v1h-1zM765 319h1v1h-1zM637 320h1v1h-1zM764 320h1v1h-1zM638 321h1v1h-1zM763 321h1v1h-1zM638 322h1v1h-1zM763 322h1v1h-1zM639 323h1v1h-1zM762 323h1v1h-1zM639 324h1v1h-1zM762 324h1v1h-1zM640 325h1v1h-1zM761 325h1v1h-1zM641 326h1v1h-1zM761 326h1v1h-1zM641 327h1v1h-1zM760 327h1v1h-1zM642 328h1v1h-1zM759 328h1v1h-1zM642 329h1v1h-1zM759 329h1v1h-1zM643 330h1v1h-1zM758 330h1v1h-1zM643 331h1v1h-1zM758 331h1v1h-1zM644 332h1v1h-1zM757 332h1v1h-1zM644 333h1v1h-1zM757 333h1v1h-1zM644 334h1v1h-1zM756 334h1v1h-1zM645 335h1v1h-1zM755 335h1v1h-1zM645 336h1v1h-1zM755 336h1v1h-1zM646 337h1v1h-1zM754 337h1v1h-1zM646 338h1v1h-1zM753 338h1v1h-1zM646 339h1v1h-1zM753 339h1v1h-1zM647 340h1v1h-1zM752 340h1v1h-1zM647 341h1v1h-1zM751 341h1v1h-1zM648 342h1v1h-1zM750 342h1v1h-1zM648 343h1v1h-1zM750 343h1v1h-1zM648 344h1v1h-1zM749 344h1v1h-1zM649 345h1v1h-1zM748 345h1v1h-1zM649 346h1v1h-1zM747 346h1v1h-1zM649 347h1v1h-1zM747 347h1v1h-1zM650 348h1v1h-1zM746 348h1v1h-1zM650 349h1v1h-1zM746 349h1v1h-1zM651 350h1v1h-1zM745 350h1v1h-1zM651 351h1v1h-1zM745 351h1v1h-1zM651 352h1v1h-1zM744 352h1v1h-1zM652 353h1v1h-1zM743 353h1v1h-1zM652 354h1v1h-1zM743 354h1v1h-1zM653 355h1v1h-1zM742 355h1v1h-1zM653 356h1v1h-1zM741 356h1v1h-1zM654 357h1v1h-1zM741 357h1v1h-1zM654 358h1v1h-1zM740 358h1v1h-1zM655 359h1v1h-1zM740 359h1v1h-1zM655 360h1v1h-1zM739 360h1v1h-1zM656 361h1v1h-1zM739 361h1v1h-1zM656 362h1v1h-1zM738 362h1v1h-1zM657 363h2v1h-2zM738 363h1v1h-1zM659 364h2v1h-2zM737 364h1v1h-1zM661 365h1v1h-1zM737 365h1v1h-1zM662 366h1v1h-1zM736 366h1v1h-1zM663 367h1v1h-1zM736 367h1v1h-1zM664 368h2v1h-2zM736 368h1v1h-1zM666 369h3v1h-3zM735 369h1v1h-1zM669 370h1v1h-1zM735 370h1v1h-1zM670 371h2v1h-2zM734 371h1v1h-1zM672 372h1v1h-1zM734 372h1v1h-1zM673 373h1v1h-1zM733 373h1v1h-1zM673 374h1v1h-1zM733 374h1v1h-1zM674 375h1v1h-1zM732 375h1v1h-1zM675 376h1v1h-1zM732 376h1v1h-1zM675 377h1v1h-1zM732 377h1v1h-1zM676 378h1v1h-1zM731 378h1v1h-1zM677 379h1v1h-1zM731 379h1v1h-1zM678 380h1v1h-1zM730 380h1v1h-1zM678 381h1v1h-1zM730 381h1v1h-1zM679 382h1v1h-1zM730 382h1v1h-1zM680 383h1v1h-1zM729 383h1v1h-1zM681 384h1v1h-1zM729 384h1v1h-1zM682 385h2v1h-2zM728 385h1v1h-1zM684 386h1v1h-1zM728 386h1v1h-1zM685 387h1v1h-1zM728 387h1v1h-1zM686 388h1v1h-1zM727 388h1v1h-1zM687 389h1v1h-1zM727 389h1v1h-1zM688 390h1v1h-1zM726 390h1v1h-1zM689 391h1v1h-1zM726 391h1v1h-1zM690 392h1v1h-1zM725 392h1v1h-1zM690 393h1v1h-1zM725 393h1v1h-1zM691 394h1v1h-1zM724 394h1v1h-1zM692 395h1v1h-1zM723 395h1v1h-1zM693 396h2v1h-2zM723 396h1v1h-1zM695 397h2v1h-2zM722 397h1v1h-1zM697 398h1v1h-1zM721 398h1v1h-1zM698 399h2v1h-2zM721 399h1v1h-1zM700 400h1v1h-1zM720 400h1v1h-1zM701 401h2v1h-2zM719 401h1v1h-1zM703 402h2v1h-2zM718 402h1v1h-1zM705 403h1v1h-1zM717 403h1v1h-1zM706 404h2v1h-2zM716 404h1v1h-1zM708 405h1v1h-1zM715 405h1v1h-1zM709 406h1v1h-1zM714 406h1v1h-1zM710 407h2v1h-2zM713 407h1v1h-1zM712 408h1v1h-1z" fill="#0000ff"/><path d="M4 56h1v1h-1zM5 57h1v1h-1zM6 58h1v1h-1zM7 59h1v1h-1zM8 60h1v1h-1zM9 61h1v1h-1zM10 62h1v1h-1zM11 63h1v1h-1zM12 64h1v1h-1zM13 65h1v1h-1zM14 66h1v1h-1zM15 67h1v1h-1zM16 68h1v1h-1zM17 69h1v1h-1zM18 70h1v1h-1zM19 71h1v1h-1zM20 72h1v1h-1zM21 73h1v1h-1zM22 74h1v1h-1zM23 75h1v1h-1zM24 76h1v1h-1zM25 77h1v1h-1zM26 78h1v1h-1zM27 79h1v1h-1zM28 80h1v1h-1zM29 81h1v1h-1zM30 82h1v1h-1zM31 83h1v1h-1zM32 84h1v1h-1zM33 85h1v1h-1zM34 86h1v1h-1zM35 87h1v1h-1zM36 88h1v1h-1zM37 89h1v1h-1zM38 90h1v1h-1zM39 91h1v1h-1zM40 92h1v1h-1zM41 93h1v1h-1zM42 94h1v1h-1zM43 95h1v1h-1zM44 96h1v1h-1zM45 97h1v1h-1zM46 98h1v1h-1zM47 99h1v1h-1zM48 100h1v1h-1zM48 101h1v1h-1zM49 102h1v1h-1zM50 103h1v1h-1zM50 104h1v1h-1zM51 105h1v1h-1zM51 106h1v1h-1zM52 107h1v1h-1zM52 108h1v1h-1zM53 109h1v1h-1zM53 110h1v1h-1zM54 111h1v1h-1zM490 111h3v1h-3zM54 112h1v1h-1zM486 112h4v1h-4zM493 112h1v1h-1zM55 113h1v1h-1zM482 113h4v1h-4zM493 113h1v1h-1zM55 114h1v1h-1zM480 114h2v1h-2zM494 114h1v1h-1zM56 115h1v1h-1zM479 115h1v1h-1zM495 115h1v1h-1zM57 116h1v1h-1zM478 116h1v1h-1zM495 116h1v1h-1zM57 117h1v1h-1zM477 117h1v1h-1zM496 117h1v1h-1zM58 118h1v1h-1zM476 118h1v1h-1zM497 118h1v1h-1zM59 119h1v1h-1zM475 119h1v1h-1zM497 119h1v1h-1zM60 120h1v1h-1zM475 120h1v1h-1zM498 120h1v1h-1zM61 121h1v1h-1zM474 121h1v1h-1zM499 121h1v1h-1zM61 122h1v1h-1zM473 122h1v1h-1zM499 122h1v1h-1zM62 123h1v1h-1zM473 123h1v1h-1zM500 123h1v1h-1zM63 124h1v1h-1zM472 124h1v1h-1zM501 124h1v1h-1zM64 125h1v1h-1zM471 125h1v1h-1zM502 125h1v1h-1zM64 126h1v1h-1zM470 126h1v1h-1zM502 126h1v1h-1zM65 127h1v1h-1zM470 127h1v1h-1zM503 127h1v1h-1zM65 128h1v1h-1zM469 128h1v1h-1zM504 128h1v1h-1zM66 129h1v1h-1zM468 129h1v1h-1zM505 129h1v1h-1zM67 130h1v1h-1zM467 130h1v1h-1zM505 130h1v1h-1zM67 131h1v1h-1zM466 131h1v1h-1zM506 131h1v1h-1zM68 132h1v1h-1zM465 132h1v1h-1zM507 132h1v1h-1zM68 133h1v1h-1zM464 133h1v1h-1zM507 133h1v1h-1zM69 134h1v1h-1zM463 134h1v1h-1zM508 134h1v1h-1zM70 135h1v1h-1zM463 135h1v1h-1zM509 135h1v1h-1zM70 136h1v1h-1zM462 136h1v1h-1zM509 136h1v1h-1zM71 137h1v1h-1zM461 137h1v1h-1zM510 137h1v1h-1zM71 138h1v1h-1zM461 138h1v1h-1zM510 138h1v1h-1zM72 139h1v1h-1zM460 139h1v1h-1zM511 139h1v1h-1zM73 140h1v1h-1zM460 140h1v1h-1zM511 140h1v1h-1zM74 141h2v1h-2zM459 141h1v1h-1zM512 141h1v1h-1zM76 142h1v1h-1zM459 142h1v1h-1zM512 142h1v1h-1zM77 143h1v1h-1zM458 143h1v1h-1zM513 143h1v1h-1zM78 144h1v1h-1zM458 144h1v1h-1zM513 144h1v1h-1zM79 145h1v1h-1zM457 145h1v1h-1zM514 145h1v1h-1zM80 146h1v1h-1zM457 146h1v1h-1zM514 146h1v1h-1zM81 147h1v1h-1zM456 147h1v1h-1zM515 147h1v1h-1zM82 148h1v1h-1zM456 148h1v1h-1zM515 148h1v1h-1zM83 149h1v1h-1zM455 149h1v1h-1zM516 149h1v1h-1zM84 150h1v1h-1zM455 150h1v1h-1zM516 150h1v1h-1zM85 151h1v1h-1zM454 151h1v1h-1zM516 151h1v1h-1zM85 152h1v1h-1zM454 152h1v1h-1zM517 152h1v1h-1zM86 153h1v1h-1zM453 153h1v1h-1zM517 153h1v1h-1zM86 154h1v1h-1zM453 154h1v1h-1zM518 154h1v1h-1zM87 155h1v1h-1zM452 155h1v1h-1zM518 155h1v1h-1zM87 156h1v1h-1zM452 156h1v1h-1zM519 156h1v1h-1zM88 157h1v1h-1zM451 157h1v1h-1zM519 157h1v1h-1zM89 158h1v1h-1zM451 158h1v1h-1zM520 158h1v1h-1zM89 159h1v1h-1zM450 159h1v1h-1zM520 159h1v1h-1zM90 160h1v1h-1zM450 160h1v1h-1zM521 160h1v1h-1zM90 161h1v1h-1zM449 161h1v1h-1zM521 161h1v1h-1zM91 162h1v1h-1zM449 162h1v1h-1zM522 162h1v1h-1zM91 163h1v1h-1zM448 163h1v1h-1zM523 163h1v1h-1zM92 164h1v1h-1zM448 164h1v1h-1zM523 164h1v1h-1zM93 165h1v1h-1zM448 165h1v1h-1zM524 165h1v1h-1zM94 166h1v1h-1zM447 166h1v1h-1zM525 166h1v1h-1zM94 167h1v1h-1zM115 167h3v1h-3zM447 167h1v1h-1zM525 167h1v1h-1zM95 168h1v1h-1zM113 168h2v1h-2zM118 168h4v1h-4zM446 168h1v1h-1zM526 168h1v1h-1zM96 169h1v1h-1zM112 169h1v1h-1zM122 169h7v1h-7zM446 169h1v1h-1zM526 169h1v1h-1zM97 170h1v1h-1zM111 170h1v1h-1zM129 170h2v1h-2zM445 170h1v1h-1zM527 170h1v1h-1zM98 171h1v1h-1zM110 171h1v1h-1zM131 171h2v1h-2zM445 171h1v1h-1zM527 171h1v1h-1zM98 172h1v1h-1zM109 172h1v1h-1zM133 172h1v1h-1zM444 172h1v1h-1zM528 172h1v1h-1zM99 173h1v1h-1zM107 173h2v1h-2zM134 173h1v1h-1zM444 173h1v1h-1zM528 173h1v1h-1zM100 174h2v1h-2zM105 174h2v1h-2zM134 174h1v1h-1zM443 174h1v1h-1zM529 174h1v1h-1zM102 175h3v1h-3zM135 175h1v1h-1zM443 175h1v1h-1zM529 175h1v1h-1zM136 176h1v1h-1zM442 176h1v1h-1zM530 176h1v1h-1zM137 177h1v1h-1zM442 177h1v1h-1zM530 177h1v1h-1zM138 178h1v1h-1zM441 178h1v1h-1zM531 178h1v1h-1zM138 179h1v1h-1zM441 179h1v1h-1zM531 179h1v1h-1zM139 180h1v1h-1zM440 180h1v1h-1zM532 180h1v1h-1zM140 181h1v1h-1zM440 181h1v1h-1zM532 181h1v1h-1zM141 182h1v1h-1zM440 182h1v1h-1zM532 182h1v1h-1zM142 183h2v1h-2zM439 183h1v1h-1zM533 183h1v1h-1zM144 184h2v1h-2zM439 184h1v1h-1zM533 184h1v1h-1zM146 185h3v1h-3zM438 185h1v1h-1zM534 185h1v1h-1zM149 186h1v1h-1zM438 186h1v1h-1zM534 186h1v1h-1zM149 187h1v1h-1zM437 187h1v1h-1zM534 187h1v1h-1zM150 188h1v1h-1zM437 188h1v1h-1zM535 188h1v1h-1zM150 189h1v1h-1zM436 189h1v1h-1zM535 189h1v1h-1zM151 190h1v1h-1zM436 190h1v1h-1zM536 190h1v1h-1zM151 191h1v1h-1zM435 191h1v1h-1zM536 191h1v1h-1zM152 192h1v1h-1zM435 192h1v1h-1zM536 192h1v1h-1zM152 193h1v1h-1zM434 193h1v1h-1zM537 193h1v1h-1zM152 194h1v1h-1zM434 194h1v1h-1zM537 194h1v1h-1zM153 195h1v1h-1zM433 195h1v1h-1zM538 195h1v1h-1zM153 196h1v1h-1zM433 196h1v1h-1zM538 196h1v1h-1zM154 197h1v1h-1zM432 197h1v1h-1zM538 197h1v1h-1zM154 198h1v1h-1zM431 198h1v1h-1zM539 198h1v1h-1zM155 199h1v1h-1zM412 199h1v1h-1zM430 199h1v1h-1zM539 199h1v1h-1zM155 200h1v1h-1zM411 200h1v1h-1zM413 200h2v1h-2zM429 200h1v1h-1zM540 200h1v1h-1zM156 201h1v1h-1zM410 201h1v1h-1zM415 201h6v1h-6zM428 201h1v1h-1zM540 201h1v1h-1zM156 202h1v1h-1zM409 202h1v1h-1zM421 202h1v1h-1zM426 202h2v1h-2zM540 202h1v1h-1zM156 203h1v1h-1zM408 203h1v1h-1zM422 203h2v1h-2zM425 203h1v1h-1zM541 203h1v1h-1zM157 204h1v1h-1zM407 204h1v1h-1zM424 204h1v1h-1zM541 204h1v1h-1zM157 205h1v1h-1zM407 205h1v1h-1zM542 205h1v1h-1zM158 206h1v1h-1zM406 206h1v1h-1zM542 206h1v1h-1zM158 207h1v1h-1zM405 207h1v1h-1zM542 207h1v1h-1zM159 208h1v1h-1zM405 208h1v1h-1zM543 208h1v1h-1zM159 209h1v1h-1zM404 209h1v1h-1zM543 209h1v1h-1zM160 210h1v1h-1zM402 210h2v1h-2zM544 210h1v1h-1zM160 211h1v1h-1zM401 211h1v1h-1zM544 211h1v1h-1zM161 212h1v1h-1zM400 212h1v1h-1zM544 212h1v1h-1zM161 213h1v1h-1zM399 213h1v1h-1zM545 213h1v1h-1zM162 214h1v1h-1zM398 214h1v1h-1zM545 214h1v1h-1zM162 215h1v1h-1zM398 215h1v1h-1zM546 215h1v1h-1zM163 216h1v1h-1zM397 216h1v1h-1zM546 216h1v1h-1zM163 217h1v1h-1zM395 217h2v1h-2zM546 217h1v1h-1zM164 218h1v1h-1zM393 218h2v1h-2zM547 218h1v1h-1zM164 219h1v1h-1zM392 219h1v1h-1zM547 219h1v1h-1zM164 220h1v1h-1zM390 220h2v1h-2zM548 220h1v1h-1zM165 221h1v1h-1zM389 221h1v1h-1zM548 221h1v1h-1zM165 222h1v1h-1zM388 222h1v1h-1zM549 222h1v1h-1zM165 223h1v1h-1zM387 223h1v1h-1zM549 223h1v1h-1zM166 224h1v1h-1zM386 224h1v1h-1zM550 224h1v1h-1zM166 225h1v1h-1zM385 225h1v1h-1zM550 225h1v1h-1zM167 226h1v1h-1zM384 226h1v1h-1zM551 226h1v1h-1zM167 227h1v1h-1zM383 227h1v1h-1zM551 227h1v1h-1zM167 228h1v1h-1zM383 228h1v1h-1zM552 228h1v1h-1zM168 229h1v1h-1zM382 229h1v1h-1zM553 229h1v1h-1zM168 230h1v1h-1zM381 230h1v1h-1zM553 230h1v1h-1zM169 231h1v1h-1zM381 231h1v1h-1zM554 231h1v1h-1zM169 232h1v1h-1zM380 232h1v1h-1zM555 232h1v1h-1zM170 233h1v1h-1zM378 233h2v1h-2zM555 233h1v1h-1zM170 234h1v1h-1zM377 234h1v1h-1zM556 234h1v1h-1zM171 235h1v1h-1zM376 235h1v1h-1zM557 235h1v1h-1zM171 236h1v1h-1zM375 236h1v1h-1zM557 236h1v1h-1zM172 237h1v1h-1zM374 237h1v1h-1zM558 237h1v1h-1zM172 238h1v1h-1zM374 238h1v1h-1zM558 238h1v1h-1zM173 239h1v1h-1zM373 239h1v1h-1zM559 239h1v1h-1zM174 240h1v1h-1zM372 240h1v1h-1zM559 240h1v1h-1zM174 241h1v1h-1zM372 241h1v1h-1zM560 241h1v1h-1zM175 242h1v1h-1zM371 242h1v1h-1zM561 242h1v1h-1zM176 243h1v1h-1zM371 243h1v1h-1zM562 243h1v1h-1zM177 244h1v1h-1zM370 244h1v1h-1zM562 244h1v1h-1zM177 245h1v1h-1zM370 245h1v1h-1zM563 245h1v1h-1zM178 246h1v1h-1zM369 246h1v1h-1zM564 246h1v1h-1zM178 247h1v1h-1zM369 247h1v1h-1zM565 247h1v1h-1zM179 248h1v1h-1zM368 248h1v1h-1zM566 248h2v1h-2zM179 249h1v1h-1zM368 249h1v1h-1zM568 249h1v1h-1zM180 250h1v1h-1zM367 250h1v1h-1zM569 250h1v1h-1zM856 250h2v1h-2zM866 250h3v1h-3zM181 251h1v1h-1zM234 251h3v1h-3zM367 251h1v1h-1zM570 251h1v1h-1zM854 251h2v1h-2zM858 251h8v1h-8zM869 251h2v1h-2zM181 252h1v1h-1zM231 252h3v1h-3zM237 252h2v1h-2zM367 252h1v1h-1zM571 252h1v1h-1zM853 252h1v1h-1zM871 252h3v1h-3zM182 253h1v1h-1zM229 253h2v1h-2zM239 253h2v1h-2zM366 253h1v1h-1zM572 253h1v1h-1zM852 253h1v1h-1zM874 253h3v1h-3zM182 254h1v1h-1zM226 254h3v1h-3zM241 254h1v1h-1zM366 254h1v1h-1zM572 254h1v1h-1zM851 254h1v1h-1zM877 254h1v1h-1zM183 255h1v1h-1zM224 255h2v1h-2zM242 255h2v1h-2zM365 255h1v1h-1zM573 255h1v1h-1zM838 255h3v1h-3zM850 255h1v1h-1zM878 255h1v1h-1zM183 256h1v1h-1zM223 256h1v1h-1zM244 256h2v1h-2zM365 256h1v1h-1zM573 256h1v1h-1zM827 256h11v1h-11zM841 256h1v1h-1zM850 256h1v1h-1zM879 256h1v1h-1zM184 257h1v1h-1zM222 257h1v1h-1zM246 257h3v1h-3zM365 257h1v1h-1zM574 257h1v1h-1zM825 257h2v1h-2zM842 257h2v1h-2zM849 257h1v1h-1zM880 257h1v1h-1zM898 257h7v1h-7zM184 258h1v1h-1zM221 258h1v1h-1zM249 258h2v1h-2zM364 258h1v1h-1zM574 258h1v1h-1zM822 258h3v1h-3zM844 258h5v1h-5zM881 258h1v1h-1zM890 258h8v1h-8zM905 258h1v1h-1zM185 259h1v1h-1zM220 259h1v1h-1zM251 259h2v1h-2zM364 259h1v1h-1zM575 259h1v1h-1zM815 259h7v1h-7zM882 259h1v1h-1zM887 259h3v1h-3zM905 259h1v1h-1zM185 260h1v1h-1zM218 260h2v1h-2zM253 260h1v1h-1zM363 260h1v1h-1zM575 260h1v1h-1zM813 260h2v1h-2zM883 260h1v1h-1zM885 260h2v1h-2zM906 260h1v1h-1zM186 261h1v1h-1zM217 261h1v1h-1zM254 261h1v1h-1zM362 261h1v1h-1zM576 261h1v1h-1zM806 261h7v1h-7zM884 261h1v1h-1zM907 261h1v1h-1zM923 261h2v1h-2zM186 262h1v1h-1zM216 262h1v1h-1zM254 262h1v1h-1zM362 262h1v1h-1zM576 262h1v1h-1zM799 262h7v1h-7zM907 262h1v1h-1zM921 262h2v1h-2zM187 263h1v1h-1zM215 263h1v1h-1zM255 263h1v1h-1zM361 263h1v1h-1zM576 263h1v1h-1zM797 263h2v1h-2zM908 263h1v1h-1zM918 263h3v1h-3zM187 264h1v1h-1zM215 264h1v1h-1zM256 264h13v1h-13zM360 264h1v1h-1zM577 264h1v1h-1zM794 264h3v1h-3zM909 264h1v1h-1zM915 264h3v1h-3zM188 265h1v1h-1zM214 265h1v1h-1zM269 265h1v1h-1zM360 265h1v1h-1zM577 265h1v1h-1zM791 265h3v1h-3zM910 265h2v1h-2zM913 265h2v1h-2zM189 266h2v1h-2zM213 266h1v1h-1zM269 266h1v1h-1zM359 266h1v1h-1zM578 266h1v1h-1zM789 266h2v1h-2zM912 266h1v1h-1zM191 267h2v1h-2zM213 267h1v1h-1zM270 267h1v1h-1zM359 267h1v1h-1zM578 267h1v1h-1zM786 267h3v1h-3zM193 268h2v1h-2zM212 268h1v1h-1zM270 268h1v1h-1zM358 268h1v1h-1zM579 268h1v1h-1zM780 268h6v1h-6zM195 269h6v1h-6zM210 269h2v1h-2zM271 269h1v1h-1zM358 269h1v1h-1zM579 269h1v1h-1zM778 269h2v1h-2zM201 270h1v1h-1zM209 270h1v1h-1zM271 270h1v1h-1zM357 270h1v1h-1zM580 270h1v1h-1zM777 270h1v1h-1zM202 271h2v1h-2zM206 271h3v1h-3zM272 271h1v1h-1zM357 271h1v1h-1zM580 271h1v1h-1zM774 271h3v1h-3zM204 272h2v1h-2zM272 272h1v1h-1zM356 272h1v1h-1zM580 272h1v1h-1zM771 272h3v1h-3zM273 273h1v1h-1zM356 273h1v1h-1zM581 273h1v1h-1zM769 273h2v1h-2zM273 274h1v1h-1zM355 274h1v1h-1zM581 274h1v1h-1zM768 274h1v1h-1zM274 275h1v1h-1zM355 275h1v1h-1zM582 275h1v1h-1zM768 275h1v1h-1zM274 276h1v1h-1zM354 276h1v1h-1zM582 276h1v1h-1zM767 276h1v1h-1zM274 277h1v1h-1zM354 277h1v1h-1zM582 277h1v1h-1zM767 277h1v1h-1zM275 278h1v1h-1zM353 278h1v1h-1zM583 278h1v1h-1zM766 278h1v1h-1zM275 279h1v1h-1zM353 279h1v1h-1zM583 279h1v1h-1zM766 279h1v1h-1zM276 280h1v1h-1zM352 280h1v1h-1zM584 280h1v1h-1zM766 280h1v1h-1zM276 281h1v1h-1zM352 281h1v1h-1zM584 281h1v1h-1zM765 281h1v1h-1zM277 282h1v1h-1zM351 282h1v1h-1zM585 282h1v1h-1zM765 282h1v1h-1zM277 283h1v1h-1zM351 283h1v1h-1zM585 283h1v1h-1zM764 283h1v1h-1zM278 284h1v1h-1zM350 284h1v1h-1zM586 284h1v1h-1zM764 284h1v1h-1zM278 285h1v1h-1zM350 285h1v1h-1zM586 285h1v1h-1zM764 285h1v1h-1zM279 286h1v1h-1zM349 286h1v1h-1zM587 286h1v1h-1zM763 286h1v1h-1zM279 287h1v1h-1zM349 287h1v1h-1zM587 287h1v1h-1zM763 287h1v1h-1zM280 288h1v1h-1zM348 288h1v1h-1zM588 288h1v1h-1zM762 288h1v1h-1zM281 289h1v1h-1zM347 289h1v1h-1zM588 289h1v1h-1zM762 289h1v1h-1zM281 290h1v1h-1zM347 290h1v1h-1zM589 290h2v1h-2zM761 290h1v1h-1zM282 291h1v1h-1zM346 291h1v1h-1zM591 291h2v1h-2zM761 291h1v1h-1zM282 292h1v1h-1zM346 292h1v1h-1zM593 292h1v1h-1zM760 292h1v1h-1zM283 293h1v1h-1zM345 293h1v1h-1zM594 293h2v1h-2zM759 293h1v1h-1zM283 294h1v1h-1zM345 294h1v1h-1zM596 294h1v1h-1zM759 294h1v1h-1zM284 295h1v1h-1zM344 295h1v1h-1zM597 295h1v1h-1zM758 295h1v1h-1zM284 296h1v1h-1zM343 296h1v1h-1zM598 296h1v1h-1zM758 296h1v1h-1zM285 297h1v1h-1zM342 297h1v1h-1zM599 297h1v1h-1zM757 297h1v1h-1zM285 298h1v1h-1zM342 298h1v1h-1zM600 298h1v1h-1zM757 298h1v1h-1zM286 299h1v1h-1zM341 299h1v1h-1zM601 299h1v1h-1zM756 299h1v1h-1zM286 300h1v1h-1zM340 300h1v1h-1zM602 300h1v1h-1zM756 300h1v1h-1zM287 301h1v1h-1zM340 301h1v1h-1zM603 301h1v1h-1zM755 301h1v1h-1zM287 302h1v1h-1zM339 302h1v1h-1zM604 302h1v1h-1zM755 302h1v1h-1zM288 303h1v1h-1zM339 303h1v1h-1zM605 303h1v1h-1zM754 303h1v1h-1zM288 304h1v1h-1zM338 304h1v1h-1zM606 304h2v1h-2zM754 304h1v1h-1zM289 305h1v1h-1zM338 305h1v1h-1zM608 305h1v1h-1zM753 305h1v1h-1zM289 306h1v1h-1zM337 306h1v1h-1zM609 306h1v1h-1zM753 306h1v1h-1zM290 307h1v1h-1zM337 307h1v1h-1zM609 307h1v1h-1zM752 307h1v1h-1zM290 308h1v1h-1zM336 308h1v1h-1zM610 308h1v1h-1zM752 308h1v1h-1zM291 309h1v1h-1zM336 309h1v1h-1zM611 309h1v1h-1zM751 309h1v1h-1zM291 310h1v1h-1zM335 310h1v1h-1zM611 310h1v1h-1zM751 310h1v1h-1zM292 311h1v1h-1zM335 311h1v1h-1zM612 311h1v1h-1zM750 311h1v1h-1zM293 312h1v1h-1zM334 312h1v1h-1zM613 312h1v1h-1zM750 312h1v1h-1zM294 313h1v1h-1zM333 313h1v1h-1zM614 313h1v1h-1zM749 313h1v1h-1zM295 314h1v1h-1zM333 314h1v1h-1zM614 314h1v1h-1zM749 314h1v1h-1zM296 315h1v1h-1zM332 315h1v1h-1zM615 315h1v1h-1zM748 315h1v1h-1zM297 316h1v1h-1zM331 316h1v1h-1zM616 316h1v1h-1zM748 316h1v1h-1zM298 317h2v1h-2zM330 317h1v1h-1zM617 317h1v1h-1zM747 317h1v1h-1zM300 318h1v1h-1zM330 318h1v1h-1zM617 318h1v1h-1zM747 318h1v1h-1zM301 319h1v1h-1zM329 319h1v1h-1zM618 319h1v1h-1zM746 319h1v1h-1zM302 320h1v1h-1zM327 320h2v1h-2zM618 320h1v1h-1zM746 320h1v1h-1zM303 321h1v1h-1zM306 321h4v1h-4zM325 321h2v1h-2zM619 321h1v1h-1zM745 321h1v1h-1zM304 322h2v1h-2zM310 322h3v1h-3zM319 322h6v1h-6zM619 322h1v1h-1zM745 322h1v1h-1zM313 323h2v1h-2zM317 323h2v1h-2zM620 323h1v1h-1zM744 323h1v1h-1zM315 324h2v1h-2zM621 324h1v1h-1zM744 324h1v1h-1zM622 325h1v1h-1zM744 325h1v1h-1zM622 326h1v1h-1zM743 326h1v1h-1zM623 327h1v1h-1zM743 327h1v1h-1zM624 328h1v1h-1zM742 328h1v1h-1zM625 329h1v1h-1zM742 329h1v1h-1zM626 330h1v1h-1zM741 330h1v1h-1zM627 331h1v1h-1zM741 331h1v1h-1zM628 332h5v1h-5zM740 332h1v1h-1zM633 333h2v1h-2zM740 333h1v1h-1zM635 334h2v1h-2zM740 334h1v1h-1zM637 335h1v1h-1zM739 335h1v1h-1zM638 336h2v1h-2zM739 336h1v1h-1zM640 337h1v1h-1zM738 337h1v1h-1zM641 338h1v1h-1zM738 338h1v1h-1zM641 339h1v1h-1zM737 339h1v1h-1zM642 340h1v1h-1zM737 340h1v1h-1zM643 341h1v1h-1zM736 341h1v1h-1zM643 342h1v1h-1zM736 342h1v1h-1zM644 343h1v1h-1zM736 343h1v1h-1zM644 344h1v1h-1zM735 344h1v1h-1zM645 345h1v1h-1zM735 345h1v1h-1zM645 346h1v1h-1zM735 346h1v1h-1zM645 347h1v1h-1zM734 347h1v1h-1zM646 348h1v1h-1zM734 348h1v1h-1zM646 349h1v1h-1zM733 349h1v1h-1zM646 350h1v1h-1zM733 350h1v1h-1zM647 351h1v1h-1zM733 351h1v1h-1zM647 352h1v1h-1zM732 352h1v1h-1zM647 353h1v1h-1zM732 353h1v1h-1zM648 354h1v1h-1zM732 354h1v1h-1zM648 355h1v1h-1zM731 355h1v1h-1zM648 356h1v1h-1zM731 356h1v1h-1zM649 357h1v1h-1zM731 357h1v1h-1zM649 358h1v1h-1zM730 358h1v1h-1zM649 359h1v1h-1zM730 359h1v1h-1zM650 360h1v1h-1zM730 360h1v1h-1zM650 361h1v1h-1zM729 361h1v1h-1zM651 362h1v1h-1zM729 362h1v1h-1zM651 363h1v1h-1zM729 363h1v1h-1zM651 364h1v1h-1zM728 364h1v1h-1zM652 365h1v1h-1zM728 365h1v1h-1zM652 366h1v1h-1zM728 366h1v1h-1zM652 367h1v1h-1zM727 367h1v1h-1zM653 368h1v1h-1zM727 368h1v1h-1zM653 369h1v1h-1zM726 369h1v1h-1zM654 370h1v1h-1zM726 370h1v1h-1zM654 371h1v1h-1zM726 371h1v1h-1zM655 372h1v1h-1zM725 372h1v1h-1zM655 373h1v1h-1zM725 373h1v1h-1zM656 374h1v1h-1zM724 374h1v1h-1zM656 375h1v1h-1zM724 375h1v1h-1zM657 376h1v1h-1zM723 376h1v1h-1zM657 377h1v1h-1zM723 377h1v1h-1zM658 378h1v1h-1zM722 378h1v1h-1zM658 379h1v1h-1zM722 379h1v1h-1zM659 380h1v1h-1zM721 380h1v1h-1zM659 381h1v1h-1zM721 381h1v1h-1zM660 382h1v1h-1zM720 382h1v1h-1zM661 383h1v1h-1zM720 383h1v1h-1zM661 384h1v1h-1zM719 384h1v1h-1zM662 385h1v1h-1zM719 385h1v1h-1zM662 386h1v1h-1zM718 386h1v1h-1zM663 387h1v1h-1zM718 387h1v1h-1zM663 388h1v1h-1zM718 388h1v1h-1zM664 389h1v1h-1zM717 389h1v1h-1zM664 390h1v1h-1zM717 390h1v1h-1zM665 391h1v1h-1zM716 391h1v1h-1zM666 392h2v1h-2zM716 392h1v1h-1zM668 393h1v1h-1zM716 393h1v1h-1zM669 394h1v1h-1zM715 394h1v1h-1zM670 395h1v1h-1zM715 395h1v1h-1zM670 396h1v1h-1zM714 396h1v1h-1zM671 397h1v1h-1zM714 397h1v1h-1zM672 398h1v1h-1zM714 398h1v1h-1zM673 399h1v1h-1zM713 399h1v1h-1zM673 400h1v1h-1zM713 400h1v1h-1zM674 401h1v1h-1zM712 401h1v1h-1zM675 402h1v1h-1zM712 402h1v1h-1zM675 403h1v1h-1zM710 403h2v1h-2zM676 404h1v1h-1zM709 404h1v1h-1zM677 405h1v1h-1zM708 405h1v1h-1zM677 406h1v1h-1zM707 406h1v1h-1zM678 407h1v1h-1zM707 407h1v1h-1zM679 408h1v1h-1zM706 408h1v1h-1zM679 409h1v1h-1zM705 409h1v1h-1zM680 410h1v1h-1zM705 410h1v1h-1zM681 411h1v1h-1zM704 411h1v1h-1zM682 412h1v1h-1zM703 412h1v1h-1zM683 413h1v1h-1zM702 413h1v1h-1zM684 414h1v1h-1zM702 414h1v1h-1zM685 415h1v1h-1zM701 415h1v1h-1zM686 416h1v1h-1zM699 416h2v1h-2zM687 417h1v1h-1zM697 417h2v1h-2zM688 418h1v1h-1zM695 418h2v1h-2zM689 419h2v1h-2zM693 419h2v1h-2zM691 420h2v1h-2z" fill="#ff0000"/><rect x="3" y="298" width="6" height="6" fill="#00ff00"/><rect x="5" y="300" width="2" height="2" fill="#fff"/><rect x="1160" y="298" width="6" height="6" fill="#00ff00"/><rect x="1162" y="300" width="2" height="2" fill="#fff"/><rect x="3" y="386" width="6" height="6" fill="#0000ff"/><rect x="5" y="388" width="2" height="2" fill="#fff"/><rect x="1160" y="386" width="6" height="6" fill="#0000ff"/><rect x="1162" y="388" width="2" height="2" fill="#fff"/></g><g clip-path="url(#cmacd)"><rect x="3" y="521" width="3" height="47" fill="#c0c0c0"/><rect x="7" y="521" width="3" height="48" fill="#c0c0c0"/><rect x="11" y="521" width="3" height="43" fill="#c0c0c0"/><rect x="15" y="521" width="3" height="40" fill="#c0c0c0"/><rect x="19" y="521" width="3" height="38" fill="#c0c0c0"/><rect x="23" y="521" width="3" height="37" fill="#c0c0c0"/><rect x="27" y="521" width="3" height="35" fill="#c0c0c0"/><rect x="31" y="521" width="3" height="34" fill="#c0c0c0"/><rect x="35" y="521" width="3" height="31" fill="#c0c0c0"/><rect x="39" y="521" width="3" height="31" fill="#c0c0c0"/><rect x="43" y="521" width="3" height="31" fill="#c0c0c0"/><rect x="47" y="521" width="3" height="32" fill="#c0c0c0"/><rect x="51" y="521" width="3" height="35" fill="#c0c0c0"/><rect x="55" y="521" width="3" height="37" fill="#c0c0c0"/><rect x="59" y="521" width="3" height="37" fill="#c0c0c0"/><rect x="63" y="521" width="3" height="37" fill="#c0c0c0"/><rect x="67" y="521" width="3" height="36" fill="#c0c0c0"/><rect x="71" y="521" width="3" height="33" fill="#c0c0c0"/><rect x="75" y="521" width="3" height="30" fill="#c0c0c0"/><rect x="79" y="521" width="3" height="29" fill="#c0c0c0"/><rect x="83" y="521" width="3" height="28" fill="#c0c0c0"/><rect x="87" y="521" width="3" height="27" fill="#c0c0c0"/><rect x="91" y="521" width="3" height="28" fill="#c0c0c0"/><rect x="95" y="521" width="3" height="27" fill="#c0c0c0"/><rect x="99" y="521" width="3" height="27" fill="#c0c0c0"/><rect x="103" y="521" width="3" height="25" fill="#c0c0c0"/><rect x="107" y="521" width="3" height="23" fill="#c0c0c0"/><rect x="111" y="521" width="3" height="20" fill="#c0c0c0"/><rect x="115" y="521" width="3" height="18" fill="#c0c0c0"/><rect x="119" y="521" width="3" height="18" fill="#c0c0c0"/><rect x="123" y="521" width="3" height="18" fill="#c0c0c0"/><rect x="127" y="521" width="3" height="16" fill="#c0c0c0"/><rect x="131" y="521" width="3" height="16" fill="#c0c0c0"/><rect x="135" y="521" width="3" height="17" fill="#c0c0c0"/><rect x="139" y="521" width="3" height="19" fill="#c0c0c0"/><rect x="143" y="521" width="3" height="19" fill="#c0c0c0"/><rect x="147" y="521" width="3" height="19" fill="#c0c0c0"/><rect x="151" y="521" width="3" height="24" fill="#c0c0c0"/><rect x="155" y="521" width="3" height="29" fill="#c0c0c0"/><rect x="159" y="521" width="3" height="31" fill="#c0c0c0"/><rect x="163" y="521" width="3" height="31" fill="#c0c0c0"/><rect x="167" y="521" width="3" height="32" fill="#c0c0c0"/><rect x="171" y="521" width="3" height="31" fill="#c0c0c0"/><rect x="175" y="521" width="3" height="29" fill="#c0c0c0"/><rect x="179" y="521" width="3" height="29" fill="#c0c0c0"/><rect x="183" y="521" width="3" height="28" fill="#c0c0c0"/><rect x="187" y="521" width="3" height="26" fill="#c0c0c0"/><rect x="191" y="521" width="3" height="23" fill="#c0c0c0"/><rect x="195" y="521" width="3" height="21" fill="#c0c0c0"/><rect x="199" y="521" width="3" height="17" fill="#c0c0c0"/><rect x="203" y="521" width="3" height="16" fill="#c0c0c0"/><rect x="207" y="521" width="3" height="17" fill="#c0c0c0"/><rect x="211" y="521" width="3" height="17" fill="#c0c0c0"/><rect x="215" y="521" width="3" height="13" fill="#c0c0c0"/><rect x="219" y="521" width="3" height="11" fill="#c0c0c0"/><rect x="223" y="521" width="3" height="9" fill="#c0c0c0"/><rect x="227" y="521" width="3" height="9" fill="#c0c0c0"/><rect x="231" y="521" width="3" height="7" fill="#c0c0c0"/><rect x="235" y="521" width="3" height="8" fill="#c0c0c0"/><rect x="239" y="521" width="3" height="12" fill="#c0c0c0"/><rect x="243" y="521" width="3" height="13" fill="#c0c0c0"/><rect x="247" y="521" width="3" height="12" fill="#c0c0c0"/><rect x="251" y="521" width="3" height="12" fill="#c0c0c0"/><rect x="255" y="521" width="3" height="12" fill="#c0c0c0"/><rect x="259" y="521" width="3" height="10" fill="#c0c0c0"/><rect x="263" y="521" width="3" height="11" fill="#c0c0c0"/><rect x="267" y="521" width="3" height="11" fill="#c0c0c0"/><rect x="271" y="521" width="3" height="13" fill="#c0c0c0"/><rect x="275" y="521" width="3" height="16" fill="#c0c0c0"/><rect x="279" y="521" width="3" height="18" fill="#c0c0c0"/><rect x="283" y="521" width="3" height="21" fill="#c0c0c0"/><rect x="287" y="521" width="3" height="22" fill="#c0c0c0"/><rect x="291" y="521" width="3" height="22" fill="#c0c0c0"/><rect x="295" y="521" width="3" height="24" fill="#c0c0c0"/><rect x="299" y="521" width="3" height="24" fill="#c0c0c0"/><rect x="303" y="521" width="3" height="21" fill="#c0c0c0"/><rect x="307" y="521" width="3" height="16" fill="#c0c0c0"/><rect x="311" y="521" width="3" height="13" fill="#c0c0c0"/><rect x="315" y="521" width="3" height="10" fill="#c0c0c0"/><rect x="319" y="521" width="3" height="6" fill="#c0c0c0"/><rect x="323" y="521" width="3" height="5" fill="#c0c0c0"/><rect x="327" y="521" width="3" height="4" fill="#c0c0c0"/><rect x="331" y="521" width="3" height="3" fill="#c0c0c0"/><rect x="335" y="520" width="3" height="1" fill="#c0c0c0"/><rect x="339" y="518" width="3" height="3" fill="#c0c0c0"/><rect x="343" y="517" width="3" height="4" fill="#c0c0c0"/><rect x="347" y="516" width="3" height="5" fill="#c0c0c0"/><rect x="351" y="516" width="3" height="5" fill="#c0c0c0"/><rect x="355" y="515" width="3" height="6" fill="#c0c0c0"/><rect x="359" y="510" width="3" height="11" fill="#c0c0c0"/><rect x="363" y="507" width="3" height="14" fill="#c0c0c0"/><rect x="367" y="502" width="3" height="19" fill="#c0c0c0"/><rect x="371" y="500" width="3" height="21" fill="#c0c0c0"/><rect x="375" y="500" width="3" height="21" fill="#c0c0c0"/><rect x="379" y="502" width="3" height="19" fill="#c0c0c0"/><rect x="383" y="503" width="3" height="18" fill="#c0c0c0"/><rect x="387" y="504" width="3" height="17" fill="#c0c0c0"/><rect x="391" y="505" width="3" height="16" fill="#c0c0c0"/><rect x="395" y="506" width="3" height="15" fill="#c0c0c0"/><rect x="399" y="506" width="3" height="15" fill="#c0c0c0"/><rect x="403" y="507" width="3" height="14" fill="#c0c0c0"/><rect x="407" y="507" width="3" height="14" fill="#c0c0c0"/><rect x="411" y="508" width="3" height="13" fill="#c0c0c0"/><rect x="415" y="509" width="3" height="12" fill="#c0c0c0"/><rect x="419" y="508" width="3" height="13" fill="#c0c0c0"/><rect x="423" y="507" width="3" height="14" fill="#c0c0c0"/><rect x="427" y="504" width="3" height="17" fill="#c0c0c0"/><rect x="431" y="502" width="3" height="19" fill="#c0c0c0"/><rect x="435" y="502" width="3" height="19" fill="#c0c0c0"/><rect x="439" y="498" width="3" height="23" fill="#c0c0c0"/><rect x="443" y="495" width="3" height="26" fill="#c0c0c0"/><rect x="447" y="494" width="3" height="27" fill="#c0c0c0"/><rect x="451" y="493" width="3" height="28" fill="#c0c0c0"/><rect x="455" y="492" width="3" height="29" fill="#c0c0c0"/><rect x="459" y="492" width="3" height="29" fill="#c0c0c0"/><rect x="463" y="494" width="3" height="27" fill="#c0c0c0"/><rect x="467" y="497" width="3" height="24" fill="#c0c0c0"/><rect x="471" y="500" width="3" height="21" fill="#c0c0c0"/><rect x="475" y="500" width="3" height="21" fill="#c0c0c0"/><rect x="479" y="501" width="3" height="20" fill="#c0c0c0"/><rect x="483" y="502" width="3" height="19" fill="#c0c0c0"/><rect x="487" y="504" width="3" height="17" fill="#c0c0c0"/><rect x="491" y="506" width="3" height="15" fill="#c0c0c0"/><rect x="495" y="510" width="3" height="11" fill="#c0c0c0"/><rect x="499" y="513" width="3" height="8" fill="#c0c0c0"/><rect x="503" y="515" width="3" height="6" fill="#c0c0c0"/><rect x="507" y="517" width="3" height="4" fill="#c0c0c0"/><rect x="511" y="521" width="3" height="1" fill="#c0c0c0"/><rect x="515" y="521" width="3" height="4" fill="#c0c0c0"/><rect x="519" y="521" width="3" height="8" fill="#c0c0c0"/><rect x="523" y="521" width="3" height="11" fill="#c0c0c0"/><rect x="527" y="521" width="3" height="13" fill="#c0c0c0"/><rect x="531" y="521" width="3" height="15" fill="#c0c0c0"/><rect x="535" y="521" width="3" height="18" fill="#c0c0c0"/><rect x="539" y="521" width="3" height="19" fill="#c0c0c0"/><rect x="543" y="521" width="3" height="20" fill="#c0c0c0"/><rect x="547" y="521" width="3" height="22" fill="#c0c0c0"/><rect x="551" y="521" width="3" height="23" fill="#c0c0c0"/><rect x="555" y="521" width="3" height="23" fill="#c0c0c0"/><rect x="559" y="521" width="3" height="22" fill="#c0c0c0"/><rect x="563" y="521" width="3" height="21" fill="#c0c0c0"/><rect x="567" y="521" width="3" height="19" fill="#c0c0c0"/><rect x="571" y="521" width="3" height="20" fill="#c0c0c0"/><rect x="575" y="521" width="3" height="25" fill="#c0c0c0"/><rect x="579" y="521" width="3" height="29" fill="#c0c0c0"/><rect x="583" y="521" width="3" height="32" fill="#c0c0c0"/><rect x="587" y="521" width="3" height="32" fill="#c0c0c0"/><rect x="591" y="521" width="3" height="29" fill="#c0c0c0"/><rect x="595" y="521" width="3" height="27" fill="#c0c0c0"/><rect x="599" y="521" width="3" height="27" fill="#c0c0c0"/><rect x="603" y="521" width="3" height="26" fill="#c0c0c0"/><rect x="607" y="521" width="3" height="24" fill="#c0c0c0"/><rect x="611" y="521" width="3" height="25" fill="#c0c0c0"/><rect x="615" y="521" width="3" height="25" fill="#c0c0c0"/><rect x="619" y="521" width="3" height="24" fill="#c0c0c0"/><rect x="623" y="521" width="3" height="22" fill="#c0c0c0"/><rect x="627" y="521" width="3" height="21" fill="#c0c0c0"/><rect x="631" y="521" width="3" height="22" fill="#c0c0c0"/><rect x="635" y="521" width="3" height="24" fill="#c0c0c0"/><rect x="639" y="521" width="3" height="27" fill="#c0c0c0"/><rect x="643" y="521" width="3" height="30" fill="#c0c0c0"/><rect x="647" y="521" width="3" height="33" fill="#c0c0c0"/><rect x="651" y="521" width="3" height="36" fill="#c0c0c0"/><rect x="655" y="521" width="3" height="36" fill="#c0c0c0"/><rect x="659" y="521" width="3" height="35" fill="#c0c0c0"/><rect x="663" y="521" width="3" height="34" fill="#c0c0c0"/><rect x="667" y="521" width="3" height="31" fill="#c0c0c0"/><rect x="671" y="521" width="3" height="29" fill="#c0c0c0"/><rect x="675" y="521" width="3" height="27" fill="#c0c0c0"/><rect x="679" y="521" width="3" height="26" fill="#c0c0c0"/><rect x="683" y="521" width="3" height="23" fill="#c0c0c0"/><rect x="687" y="521" width="3" height="22" fill="#c0c0c0"/><rect x="691" y="521" width="3" height="21" fill="#c0c0c0"/><rect x="695" y="521" width="3" height="19" fill="#c0c0c0"/><rect x="699" y="521" width="3" height="17" fill="#c0c0c0"/><rect x="703" y="521" width="3" height="14" fill="#c0c0c0"/><rect x="707" y="521" width="3" height="12" fill="#c0c0c0"/><rect x="711" y="521" width="3" height="11" fill="#c0c0c0"/><rect x="715" y="521" width="3" height="4" fill="#c0c0c0"/><rect x="719" y="519" width="3" height="2" fill="#c0c0c0"/><rect x="723" y="515" width="3" height="6" fill="#c0c0c0"/><rect x="727" y="510" width="3" height="11" fill="#c0c0c0"/><rect x="731" y="505" width="3" height="16" fill="#c0c0c0"/><rect x="735" y="502" width="3" height="19" fill="#c0c0c0"/><rect x="739" y="501" width="3" height="20" fill="#c0c0c0"/><rect x="743" y="501" width="3" height="20" fill="#c0c0c0"/><rect x="747" y="501" width="3" height="20" fill="#c0c0c0"/><rect x="751" y="502" width="3" height="19" fill="#c0c0c0"/><rect x="755" y="502" width="3" height="19" fill="#c0c0c0"/><rect x="759" y="502" width="3" height="19" fill="#c0c0c0"/><rect x="763" y="502" width="3" height="19" fill="#c0c0c0"/><rect x="767" y="502" width="3" height="19" fill="#c0c0c0"/><rect x="771" y="502" width="3" height="19" fill="#c0c0c0"/><rect x="775" y="503" width="3" height="18" fill="#c0c0c0"/><rect x="779" y="503" width="3" height="18" fill="#c0c0c0"/><rect x="783" y="503" width="3" height="18" fill="#c0c0c0"/><rect x="787" y="502" width="3" height="19" fill="#c0c0c0"/><rect x="791" y="502" width="3" height="19" fill="#c0c0c0"/><rect x="795" y="502" width="3" height="19" fill="#c0c0c0"/><rect x="799" y="504" width="3" height="17" fill="#c0c0c0"/><rect x="803" y="506" width="3" height="15" fill="#c0c0c0"/><rect x="807" y="508" width="3" height="13" fill="#c0c0c0"/><rect x="811" y="510" width="3" height="11" fill="#c0c0c0"/><rect x="815" y="510" width="3" height="11" fill="#c0c0c0"/><rect x="819" y="510" width="3" height="11" fill="#c0c0c0"/><rect x="823" y="509" width="3" height="12" fill="#c0c0c0"/><rect x="827" y="509" width="3" height="12" fill="#c0c0c0"/><rect x="831" y="511" width="3" height="10" fill="#c0c0c0"/><rect x="835" y="512" width="3" height="9" fill="#c0c0c0"/><rect x="839" y="512" width="3" height="9" fill="#c0c0c0"/><rect x="843" y="513" width="3" height="8" fill="#c0c0c0"/><rect x="847" y="513" width="3" height="8" fill="#c0c0c0"/><rect x="851" y="508" width="3" height="13" fill="#c0c0c0"/><rect x="855" y="508" width="3" height="13" fill="#c0c0c0"/><rect x="859" y="512" width="3" height="9" fill="#c0c0c0"/><rect x="863" y="514" width="3" height="7" fill="#c0c0c0"/><rect x="867" y="516" width="3" height="5" fill="#c0c0c0"/><rect x="871" y="518" width="3" height="3" fill="#c0c0c0"/><rect x="875" y="519" width="3" height="2" fill="#c0c0c0"/><rect x="879" y="520" width="3" height="1" fill="#c0c0c0"/><rect x="883" y="521" width="3" height="2" fill="#c0c0c0"/><rect x="887" y="521" width="3" height="1" fill="#c0c0c0"/><rect x="891" y="520" width="3" height="1" fill="#c0c0c0"/><rect x="895" y="519" width="3" height="2" fill="#c0c0c0"/><rect x="899" y="518" width="3" height="3" fill="#c0c0c0"/><rect x="903" y="518" width="3" height="3" fill="#c0c0c0"/><rect x="907" y="518" width="3" height="3" fill="#c0c0c0"/><rect x="911" y="518" width="3" height="3" fill="#c0c0c0"/><rect x="915" y="519" width="3" height="2" fill="#c0c0c0"/><rect x="919" y="519" width="3" height="2" fill="#c0c0c0"/><rect x="923" y="519" width="3" height="2" fill="#c0c0c0"/><path d="M470 494h4v1h-4zM462 495h8v1h-8zM474 495h8v1h-8zM459 496h3v1h-3zM482 496h4v1h-4zM457 497h2v1h-2zM486 497h3v1h-3zM455 498h2v1h-2zM489 498h2v1h-2zM453 499h2v1h-2zM491 499h2v1h-2zM451 500h2v1h-2zM493 500h2v1h-2zM449 501h2v1h-2zM495 501h2v1h-2zM762 501h16v1h-16zM446 502h3v1h-3zM497 502h2v1h-2zM759 502h3v1h-3zM778 502h28v1h-28zM390 503h16v1h-16zM442 503h4v1h-4zM499 503h2v1h-2zM757 503h2v1h-2zM806 503h4v1h-4zM387 504h3v1h-3zM406 504h4v1h-4zM438 504h4v1h-4zM501 504h2v1h-2zM755 504h2v1h-2zM810 504h4v1h-4zM385 505h2v1h-2zM410 505h4v1h-4zM434 505h4v1h-4zM503 505h2v1h-2zM753 505h2v1h-2zM814 505h8v1h-8zM382 506h3v1h-3zM414 506h8v1h-8zM426 506h8v1h-8zM505 506h2v1h-2zM751 506h2v1h-2zM822 506h4v1h-4zM379 507h3v1h-3zM422 507h4v1h-4zM507 507h2v1h-2zM749 507h2v1h-2zM826 507h4v1h-4zM377 508h2v1h-2zM509 508h2v1h-2zM748 508h1v1h-1zM830 508h4v1h-4zM375 509h2v1h-2zM511 509h2v1h-2zM746 509h2v1h-2zM834 509h4v1h-4zM373 510h2v1h-2zM513 510h1v1h-1zM745 510h1v1h-1zM838 510h24v1h-24zM371 511h2v1h-2zM514 511h2v1h-2zM744 511h1v1h-1zM862 511h8v1h-8zM369 512h2v1h-2zM516 512h1v1h-1zM743 512h1v1h-1zM870 512h4v1h-4zM367 513h2v1h-2zM517 513h1v1h-1zM742 513h1v1h-1zM874 513h4v1h-4zM365 514h2v1h-2zM518 514h2v1h-2zM741 514h1v1h-1zM878 514h4v1h-4zM363 515h2v1h-2zM520 515h1v1h-1zM740 515h1v1h-1zM882 515h4v1h-4zM361 516h2v1h-2zM521 516h1v1h-1zM739 516h1v1h-1zM886 516h4v1h-4zM359 517h2v1h-2zM522 517h2v1h-2zM738 517h1v1h-1zM890 517h4v1h-4zM357 518h2v1h-2zM524 518h1v1h-1zM737 518h1v1h-1zM894 518h4v1h-4zM918 518h7v1h-7zM354 519h3v1h-3zM525 519h1v1h-1zM736 519h1v1h-1zM898 519h20v1h-20zM351 520h3v1h-3zM526 520h2v1h-2zM735 520h1v1h-1zM349 521h2v1h-2zM528 521h1v1h-1zM734 521h1v1h-1zM347 522h2v1h-2zM529 522h1v1h-1zM733 522h1v1h-1zM345 523h2v1h-2zM530 523h2v1h-2zM732 523h1v1h-1zM343 524h2v1h-2zM532 524h1v1h-1zM730 524h2v1h-2zM341 525h2v1h-2zM533 525h2v1h-2zM729 525h1v1h-1zM339 526h2v1h-2zM535 526h2v1h-2zM728 526h1v1h-1zM337 527h2v1h-2zM537 527h1v1h-1zM727 527h1v1h-1zM336 528h1v1h-1zM538 528h2v1h-2zM726 528h1v1h-1zM334 529h2v1h-2zM540 529h1v1h-1zM725 529h1v1h-1zM246 530h20v1h-20zM333 530h1v1h-1zM541 530h1v1h-1zM724 530h1v1h-1zM234 531h12v1h-12zM266 531h8v1h-8zM331 531h2v1h-2zM542 531h2v1h-2zM722 531h2v1h-2zM231 532h3v1h-3zM274 532h8v1h-8zM329 532h2v1h-2zM544 532h1v1h-1zM721 532h1v1h-1zM229 533h2v1h-2zM282 533h4v1h-4zM327 533h2v1h-2zM545 533h2v1h-2zM719 533h2v1h-2zM226 534h3v1h-3zM286 534h3v1h-3zM325 534h2v1h-2zM547 534h2v1h-2zM717 534h2v1h-2zM223 535h3v1h-3zM289 535h2v1h-2zM323 535h2v1h-2zM549 535h2v1h-2zM716 535h1v1h-1zM221 536h2v1h-2zM291 536h3v1h-3zM321 536h2v1h-2zM551 536h2v1h-2zM714 536h2v1h-2zM142 537h8v1h-8zM219 537h2v1h-2zM294 537h3v1h-3zM319 537h2v1h-2zM553 537h2v1h-2zM713 537h1v1h-1zM135 538h7v1h-7zM150 538h4v1h-4zM217 538h2v1h-2zM297 538h2v1h-2zM317 538h2v1h-2zM555 538h3v1h-3zM711 538h2v1h-2zM133 539h2v1h-2zM154 539h3v1h-3zM215 539h2v1h-2zM299 539h3v1h-3zM314 539h3v1h-3zM558 539h4v1h-4zM709 539h2v1h-2zM130 540h3v1h-3zM157 540h2v1h-2zM213 540h2v1h-2zM302 540h12v1h-12zM562 540h12v1h-12zM706 540h3v1h-3zM126 541h4v1h-4zM159 541h3v1h-3zM210 541h3v1h-3zM574 541h4v1h-4zM703 541h3v1h-3zM122 542h4v1h-4zM162 542h3v1h-3zM207 542h3v1h-3zM578 542h4v1h-4zM701 542h2v1h-2zM118 543h4v1h-4zM165 543h2v1h-2zM205 543h2v1h-2zM582 543h4v1h-4zM634 543h8v1h-8zM699 543h2v1h-2zM114 544h4v1h-4zM167 544h2v1h-2zM203 544h2v1h-2zM586 544h4v1h-4zM626 544h8v1h-8zM642 544h4v1h-4zM697 544h2v1h-2zM111 545h3v1h-3zM169 545h2v1h-2zM201 545h2v1h-2zM590 545h4v1h-4zM622 545h4v1h-4zM646 545h4v1h-4zM695 545h2v1h-2zM109 546h2v1h-2zM171 546h3v1h-3zM198 546h3v1h-3zM594 546h8v1h-8zM618 546h4v1h-4zM650 546h4v1h-4zM693 546h2v1h-2zM106 547h3v1h-3zM174 547h4v1h-4zM194 547h4v1h-4zM602 547h16v1h-16zM654 547h3v1h-3zM691 547h2v1h-2zM102 548h4v1h-4zM178 548h4v1h-4zM190 548h4v1h-4zM657 548h2v1h-2zM689 548h2v1h-2zM99 549h3v1h-3zM182 549h8v1h-8zM659 549h3v1h-3zM686 549h3v1h-3zM97 550h2v1h-2zM662 550h4v1h-4zM682 550h4v1h-4zM94 551h3v1h-3zM666 551h4v1h-4zM678 551h4v1h-4zM90 552h4v1h-4zM670 552h8v1h-8zM55 553h7v1h-7zM86 553h4v1h-4zM53 554h2v1h-2zM62 554h16v1h-16zM82 554h4v1h-4zM46 555h7v1h-7zM78 555h4v1h-4zM42 556h4v1h-4zM39 557h3v1h-3zM37 558h2v1h-2zM36 559h1v1h-1zM34 560h2v1h-2zM33 561h1v1h-1zM30 562h3v1h-3zM18 563h4v1h-4zM26 563h4v1h-4zM4 564h14v1h-14zM22 564h4v1h-4z" fill="#ff0000"/></g><g clip-path="url(#crsi)"><path d="M5 600h3v1h-3zM11 600h3v1h-3zM17 600h3v1h-3zM23 600h3v1h-3zM29 600h3v1h-3zM35 600h3v1h-3zM41 600h3v1h-3zM47 600h3v1h-3zM53 600h3v1h-3zM59 600h3v1h-3zM65 600h3v1h-3zM71 600h3v1h-3zM77 600h3v1h-3zM83 600h3v1h-3zM89 600h3v1h-3zM95 600h3v1h-3zM101 600h3v1h-3zM107 600h3v1h-3zM113 600h3v1h-3zM119 600h3v1h-3zM125 600h3v1h-3zM131 600h3v1h-3zM137 600h3v1h-3zM143 600h3v1h-3zM149 600h3v1h-3zM155 600h3v1h-3zM161 600h3v1h-3zM167 600h3v1h-3zM173 600h3v1h-3zM179 600h3v1h-3zM185 600h3v1h-3zM191 600h3v1h-3zM197 600h3v1h-3zM203 600h3v1h-3zM209 600h3v1h-3zM215 600h3v1h-3zM221 600h3v1h-3zM227 600h3v1h-3zM233 600h3v1h-3zM239 600h3v1h-3zM245 600h3v1h-3zM251 600h3v1h-3zM257 600h3v1h-3zM263 600h3v1h-3zM269 600h3v1h-3zM275 600h3v1h-3zM281 600h3v1h-3zM287 600h3v1h-3zM293 600h3v1h-3zM299 600h3v1h-3zM305 600h3v1h-3zM311 600h3v1h-3zM317 600h3v1h-3zM323 600h3v1h-3zM329 600h3v1h-3zM335 600h3v1h-3zM341 600h3v1h-3zM347 600h3v1h-3zM353 600h3v1h-3zM359 600h3v1h-3zM365 600h3v1h-3zM371 600h3v1h-3zM377 600h3v1h-3zM383 600h3v1h-3zM389 600h3v1h-3zM395 600h3v1h-3zM401 600h3v1h-3zM407 600h3v1h-3zM413 600h3v1h-3zM419 600h3v1h-3zM425 600h3v1h-3zM431 600h3v1h-3zM437 600h3v1h-3zM443 600h3v1h-3zM449 600h3v1h-3zM455 600h3v1h-3zM461 600h3v1h-3zM467 600h3v1h-3zM473 600h3v1h-3zM479 600h3v1h-3zM485 600h3v1h-3zM491 600h3v1h-3zM497 600h3v1h-3zM503 600h3v1h-3zM509 600h3v1h-3zM515 600h3v1h-3zM521 600h3v1h-3zM527 600h3v1h-3zM533 600h3v1h-3zM539 600h3v1h-3zM545 600h3v1h-3zM551 600h3v1h-3zM557 600h3v1h-3zM563 600h3v1h-3zM569 600h3v1h-3zM575 600h3v1h-3zM581 600h3v1h-3zM587 600h3v1h-3zM593 600h3v1h-3zM599 600h3v1h-3zM605 600h3v1h-3zM611 600h3v1h-3zM617 600h3v1h-3zM623 600h3v1h-3zM629 600h3v1h-3zM635 600h3v1h-3zM641 600h3v1h-3zM647 600h3v1h-3zM653 600h3v1h-3zM659 600h3v1h-3zM665 600h3v1h-3zM671 600h3v1h-3zM677 600h3v1h-3zM683 600h3v1h-3zM689 600h3v1h-3zM695 600h3v1h-3zM701 600h3v1h-3zM707 600h3v1h-3zM713 600h3v1h-3zM719 600h3v1h-3zM725 600h3v1h-3zM731 600h3v1h-3zM737 600h3v1h-3zM743 600h3v1h-3zM749 600h3v1h-3zM755 600h3v1h-3zM761 600h3v1h-3zM767 600h3v1h-3zM773 600h3v1h-3zM779 600h3v1h-3zM785 600h3v1h-3zM791 600h3v1h-3zM797 600h3v1h-3zM803 600h3v1h-3zM809 600h3v1h-3zM815 600h3v1h-3zM821 600h3v1h-3zM827 600h3v1h-3zM833 600h3v1h-3zM839 600h3v1h-3zM845 600h3v1h-3zM851 600h3v1h-3zM857 600h3v1h-3zM863 600h3v1h-3zM869 600h3v1h-3zM875 600h3v1h-3zM881 600h3v1h-3zM887 600h3v1h-3zM893 600h3v1h-3zM899 600h3v1h-3zM905 600h3v1h-3zM911 600h3v1h-3zM917 600h3v1h-3zM923 600h3v1h-3zM929 600h3v1h-3zM935 600h3v1h-3zM941 600h3v1h-3zM947 600h3v1h-3zM953 600h3v1h-3zM959 600h3v1h-3zM965 600h3v1h-3zM971 600h3v1h-3zM977 600h3v1h-3zM983 600h3v1h-3zM989 600h3v1h-3zM995 600h3v1h-3zM1001 600h3v1h-3zM1007 600h3v1h-3zM1013 600h3v1h-3zM1019 600h3v1h-3zM1025 600h3v1h-3zM1031 600h3v1h-3zM1037 600h3v1h-3zM1043 600h3v1h-3zM1049 600h3v1h-3zM1055 600h3v1h-3zM1061 600h3v1h-3zM1067 600h3v1h-3zM1073 600h3v1h-3zM1079 600h3v1h-3zM1085 600h3v1h-3zM1091 600h3v1h-3zM1097 600h3v1h-3zM1103 600h3v1h-3zM1109 600h3v1h-3zM1115 600h3v1h-3zM1121 600h3v1h-3zM1127 600h3v1h-3zM1133 600h3v1h-3zM1139 600h3v1h-3zM1145 600h3v1h-3zM1151 600h3v1h-3zM1157 600h3v1h-3zM1163 600h3v1h-3z" fill="#c0c0c0"/><path d="M5 634h3v1h-3zM11 634h3v1h-3zM17 634h3v1h-3zM23 634h3v1h-3zM29 634h3v1h-3zM35 634h3v1h-3zM41 634h3v1h-3zM47 634h3v1h-3zM53 634h3v1h-3zM59 634h3v1h-3zM65 634h3v1h-3zM71 634h3v1h-3zM77 634h3v1h-3zM83 634h3v1h-3zM89 634h3v1h-3zM95 634h3v1h-3zM101 634h3v1h-3zM107 634h3v1h-3zM113 634h3v1h-3zM119 634h3v1h-3zM125 634h3v1h-3zM131 634h3v1h-3zM137 634h3v1h-3zM143 634h3v1h-3zM149 634h3v1h-3zM155 634h3v1h-3zM161 634h3v1h-3zM167 634h3v1h-3zM173 634h3v1h-3zM179 634h3v1h-3zM185 634h3v1h-3zM191 634h3v1h-3zM197 634h3v1h-3zM203 634h3v1h-3zM209 634h3v1h-3zM215 634h3v1h-3zM221 634h3v1h-3zM227 634h3v1h-3zM233 634h3v1h-3zM239 634h3v1h-3zM245 634h3v1h-3zM251 634h3v1h-3zM257 634h3v1h-3zM263 634h3v1h-3zM269 634h3v1h-3zM275 634h3v1h-3zM281 634h3v1h-3zM287 634h3v1h-3zM293 634h3v1h-3zM299 634h3v1h-3zM305 634h3v1h-3zM311 634h3v1h-3zM317 634h3v1h-3zM323 634h3v1h-3zM329 634h3v1h-3zM335 634h3v1h-3zM341 634h3v1h-3zM347 634h3v1h-3zM353 634h3v1h-3zM359 634h3v1h-3zM365 634h3v1h-3zM371 634h3v1h-3zM377 634h3v1h-3zM383 634h3v1h-3zM389 634h3v1h-3zM395 634h3v1h-3zM401 634h3v1h-3zM407 634h3v1h-3zM413 634h3v1h-3zM419 634h3v1h-3zM425 634h3v1h-3zM431 634h3v1h-3zM437 634h3v1h-3zM443 634h3v1h-3zM449 634h3v1h-3zM455 634h3v1h-3zM461 634h3v1h-3zM467 634h3v1h-3zM473 634h3v1h-3zM479 634h3v1h-3zM485 634h3v1h-3zM491 634h3v1h-3zM497 634h3v1h-3zM503 634h3v1h-3zM509 634h3v1h-3zM515 634h3v1h-3zM521 634h3v1h-3zM527 634h3v1h-3zM533 634h3v1h-3zM539 634h3v1h-3zM545 634h3v1h-3zM551 634h3v1h-3zM557 634h3v1h-3zM563 634h3v1h-3zM569 634h3v1h-3zM575 634h3v1h-3zM581 634h3v1h-3zM587 634h3v1h-3zM593 634h3v1h-3zM599 634h3v1h-3zM605 634h3v1h-3zM611 634h3v1h-3zM617 634h3v1h-3zM623 634h3v1h-3zM629 634h3v1h-3zM635 634h3v1h-3zM641 634h3v1h-3zM647 634h3v1h-3zM653 634h3v1h-3zM659 634h3v1h-3zM665 634h3v1h-3zM671 634h3v1h-3zM677 634h3v1h-3zM683 634h3v1h-3zM689 634h3v1h-3zM695 634h3v1h-3zM701 634h3v1h-3zM707 634h3v1h-3zM713 634h3v1h-3zM719 634h3v1h-3zM725 634h3v1h-3zM731 634h3v1h-3zM737 634h3v1h-3zM743 634h3v1h-3zM749 634h3v1h-3zM755 634h3v1h-3zM761 634h3v1h-3zM767 634h3v1h-3zM773 634h3v1h-3zM779 634h3v1h-3zM785 634h3v1h-3zM791 634h3v1h-3zM797 634h3v1h-3zM803 634h3v1h-3zM809 634h3v1h-3zM815 634h3v1h-3zM821 634h3v1h-3zM827 634h3v1h-3zM833 634h3v1h-3zM839 634h3v1h-3zM845 634h3v1h-3zM851 634h3v1h-3zM857 634h3v1h-3zM863 634h3v1h-3zM869 634h3v1h-3zM875 634h3v1h-3zM881 634h3v1h-3zM887 634h3v1h-3zM893 634h3v1h-3zM899 634h3v1h-3zM905 634h3v1h-3zM911 634h3v1h-3zM917 634h3v1h-3zM923 634h3v1h-3zM929 634h3v1h-3zM935 634h3v1h-3zM941 634h3v1h-3zM947 634h3v1h-3zM953 634h3v1h-3zM959 634h3v1h-3zM965 634h3v1h-3zM971 634h3v1h-3zM977 634h3v1h-3zM983 634h3v1h-3zM989 634h3v1h-3zM995 634h3v1h-3zM1001 634h3v1h-3zM1007 634h3v1h-3zM1013 634h3v1h-3zM1019 634h3v1h-3zM1025 634h3v1h-3zM1031 634h3v1h-3zM1037 634h3v1h-3zM1043 634h3v1h-3zM1049 634h3v1h-3zM1055 634h3v1h-3zM1061 634h3v1h-3zM1067 634h3v1h-3zM1073 634h3v1h-3zM1079 634h3v1h-3zM1085 634h3v1h-3zM1091 634h3v1h-3zM1097 634h3v1h-3zM1103 634h3v1h-3zM1109 634h3v1h-3zM1115 634h3v1h-3zM1121 634h3v1h-3zM1127 634h3v1h-3zM1133 634h3v1h-3zM1139 634h3v1h-3zM1145 634h3v1h-3zM1151 634h3v1h-3zM1157 634h3v1h-3zM1163 634h3v1h-3z" fill="#c0c0c0"/><path d="M440 600h5v1h-5zM731 600h2v1h-2zM368 601h1v1h-1zM439 601h1v1h-1zM445 601h1v1h-1zM729 601h2v1h-2zM733 601h1v1h-1zM367 602h1v1h-1zM369 602h1v1h-1zM439 602h1v1h-1zM446 602h1v1h-1zM451 602h3v1h-3zM728 602h1v1h-1zM734 602h2v1h-2zM366 603h1v1h-1zM369 603h1v1h-1zM428 603h1v1h-1zM438 603h1v1h-1zM447 603h1v1h-1zM449 603h2v1h-2zM454 603h7v1h-7zM726 603h2v1h-2zM736 603h2v1h-2zM788 603h1v1h-1zM852 603h1v1h-1zM360 604h1v1h-1zM366 604h1v1h-1zM370 604h1v1h-1zM427 604h1v1h-1zM429 604h1v1h-1zM437 604h1v1h-1zM448 604h1v1h-1zM461 604h1v1h-1zM716 604h6v1h-6zM725 604h1v1h-1zM738 604h3v1h-3zM787 604h1v1h-1zM789 604h1v1h-1zM852 604h2v1h-2zM360 605h3v1h-3zM365 605h1v1h-1zM371 605h1v1h-1zM426 605h1v1h-1zM430 605h2v1h-2zM437 605h1v1h-1zM461 605h1v1h-1zM716 605h1v1h-1zM722 605h3v1h-3zM741 605h1v1h-1zM766 605h3v1h-3zM780 605h1v1h-1zM787 605h1v1h-1zM790 605h1v1h-1zM851 605h1v1h-1zM853 605h1v1h-1zM359 606h1v1h-1zM363 606h2v1h-2zM371 606h1v1h-1zM426 606h1v1h-1zM432 606h5v1h-5zM462 606h1v1h-1zM716 606h1v1h-1zM742 606h1v1h-1zM763 606h3v1h-3zM769 606h2v1h-2zM779 606h1v1h-1zM781 606h1v1h-1zM786 606h1v1h-1zM790 606h1v1h-1zM851 606h1v1h-1zM854 606h1v1h-1zM359 607h1v1h-1zM372 607h1v1h-1zM425 607h1v1h-1zM463 607h1v1h-1zM715 607h1v1h-1zM742 607h1v1h-1zM761 607h2v1h-2zM771 607h2v1h-2zM779 607h1v1h-1zM782 607h1v1h-1zM785 607h1v1h-1zM791 607h1v1h-1zM850 607h1v1h-1zM854 607h1v1h-1zM358 608h1v1h-1zM373 608h1v1h-1zM424 608h1v1h-1zM463 608h1v1h-1zM715 608h1v1h-1zM743 608h1v1h-1zM746 608h3v1h-3zM755 608h6v1h-6zM773 608h1v1h-1zM778 608h1v1h-1zM783 608h1v1h-1zM785 608h1v1h-1zM792 608h2v1h-2zM824 608h1v1h-1zM850 608h1v1h-1zM855 608h1v1h-1zM358 609h1v1h-1zM374 609h2v1h-2zM422 609h2v1h-2zM464 609h1v1h-1zM476 609h2v1h-2zM715 609h1v1h-1zM744 609h2v1h-2zM749 609h2v1h-2zM753 609h2v1h-2zM774 609h1v1h-1zM777 609h1v1h-1zM784 609h1v1h-1zM794 609h3v1h-3zM823 609h1v1h-1zM825 609h2v1h-2zM850 609h1v1h-1zM855 609h1v1h-1zM338 610h3v1h-3zM357 610h1v1h-1zM376 610h1v1h-1zM421 610h1v1h-1zM465 610h1v1h-1zM474 610h2v1h-2zM478 610h7v1h-7zM715 610h1v1h-1zM751 610h2v1h-2zM775 610h1v1h-1zM777 610h1v1h-1zM797 610h2v1h-2zM816 610h1v1h-1zM822 610h1v1h-1zM827 610h2v1h-2zM849 610h1v1h-1zM856 610h1v1h-1zM336 611h2v1h-2zM341 611h1v1h-1zM357 611h1v1h-1zM377 611h1v1h-1zM399 611h2v1h-2zM407 611h3v1h-3zM419 611h2v1h-2zM466 611h1v1h-1zM473 611h1v1h-1zM485 611h1v1h-1zM714 611h1v1h-1zM776 611h1v1h-1zM799 611h2v1h-2zM815 611h1v1h-1zM817 611h1v1h-1zM822 611h1v1h-1zM829 611h1v1h-1zM849 611h1v1h-1zM856 611h1v1h-1zM308 612h1v1h-1zM319 612h2v1h-2zM335 612h1v1h-1zM342 612h1v1h-1zM348 612h1v1h-1zM356 612h1v1h-1zM378 612h1v1h-1zM397 612h2v1h-2zM401 612h2v1h-2zM405 612h2v1h-2zM410 612h4v1h-4zM417 612h2v1h-2zM466 612h1v1h-1zM471 612h2v1h-2zM486 612h2v1h-2zM714 612h1v1h-1zM801 612h1v1h-1zM815 612h1v1h-1zM818 612h2v1h-2zM821 612h1v1h-1zM829 612h1v1h-1zM839 612h2v1h-2zM848 612h1v1h-1zM857 612h1v1h-1zM898 612h3v1h-3zM307 613h1v1h-1zM309 613h1v1h-1zM317 613h2v1h-2zM321 613h1v1h-1zM334 613h1v1h-1zM342 613h1v1h-1zM346 613h2v1h-2zM349 613h2v1h-2zM354 613h3v1h-3zM378 613h1v1h-1zM383 613h14v1h-14zM403 613h2v1h-2zM414 613h3v1h-3zM467 613h1v1h-1zM469 613h2v1h-2zM488 613h1v1h-1zM714 613h1v1h-1zM802 613h2v1h-2zM814 613h1v1h-1zM820 613h1v1h-1zM830 613h1v1h-1zM837 613h2v1h-2zM841 613h1v1h-1zM847 613h2v1h-2zM857 613h1v1h-1zM895 613h3v1h-3zM901 613h1v1h-1zM218 614h3v1h-3zM307 614h1v1h-1zM310 614h1v1h-1zM315 614h2v1h-2zM322 614h2v1h-2zM333 614h1v1h-1zM343 614h1v1h-1zM345 614h1v1h-1zM351 614h3v1h-3zM379 614h1v1h-1zM381 614h2v1h-2zM468 614h1v1h-1zM489 614h2v1h-2zM714 614h1v1h-1zM804 614h1v1h-1zM814 614h1v1h-1zM830 614h1v1h-1zM836 614h1v1h-1zM842 614h2v1h-2zM845 614h2v1h-2zM858 614h1v1h-1zM888 614h2v1h-2zM893 614h2v1h-2zM902 614h1v1h-1zM200 615h1v1h-1zM216 615h2v1h-2zM221 615h2v1h-2zM232 615h1v1h-1zM306 615h1v1h-1zM311 615h1v1h-1zM313 615h2v1h-2zM324 615h1v1h-1zM331 615h2v1h-2zM344 615h1v1h-1zM380 615h1v1h-1zM491 615h2v1h-2zM706 615h3v1h-3zM713 615h1v1h-1zM805 615h2v1h-2zM813 615h1v1h-1zM831 615h1v1h-1zM834 615h2v1h-2zM844 615h1v1h-1zM858 615h1v1h-1zM887 615h1v1h-1zM890 615h3v1h-3zM903 615h1v1h-1zM910 615h4v1h-4zM199 616h1v1h-1zM201 616h1v1h-1zM215 616h1v1h-1zM223 616h2v1h-2zM231 616h1v1h-1zM233 616h1v1h-1zM305 616h1v1h-1zM312 616h1v1h-1zM325 616h2v1h-2zM329 616h2v1h-2zM493 616h1v1h-1zM704 616h2v1h-2zM709 616h1v1h-1zM713 616h1v1h-1zM807 616h3v1h-3zM813 616h1v1h-1zM831 616h1v1h-1zM833 616h1v1h-1zM858 616h1v1h-1zM887 616h1v1h-1zM904 616h6v1h-6zM914 616h11v1h-11zM198 617h1v1h-1zM202 617h1v1h-1zM215 617h1v1h-1zM225 617h1v1h-1zM231 617h1v1h-1zM234 617h1v1h-1zM248 617h1v1h-1zM260 617h1v1h-1zM305 617h1v1h-1zM327 617h2v1h-2zM494 617h1v1h-1zM703 617h1v1h-1zM709 617h1v1h-1zM713 617h1v1h-1zM810 617h3v1h-3zM832 617h1v1h-1zM859 617h1v1h-1zM886 617h1v1h-1zM110 618h3v1h-3zM128 618h1v1h-1zM197 618h1v1h-1zM202 618h1v1h-1zM214 618h1v1h-1zM226 618h1v1h-1zM230 618h1v1h-1zM234 618h1v1h-1zM247 618h1v1h-1zM249 618h1v1h-1zM258 618h2v1h-2zM261 618h1v1h-1zM304 618h1v1h-1zM494 618h1v1h-1zM702 618h1v1h-1zM710 618h1v1h-1zM713 618h1v1h-1zM859 618h1v1h-1zM866 618h4v1h-4zM874 618h4v1h-4zM886 618h1v1h-1zM108 619h2v1h-2zM113 619h1v1h-1zM128 619h2v1h-2zM192 619h5v1h-5zM203 619h1v1h-1zM214 619h1v1h-1zM226 619h1v1h-1zM229 619h1v1h-1zM235 619h1v1h-1zM247 619h1v1h-1zM250 619h2v1h-2zM257 619h1v1h-1zM262 619h2v1h-2zM303 619h1v1h-1zM495 619h1v1h-1zM702 619h1v1h-1zM711 619h2v1h-2zM860 619h1v1h-1zM862 619h4v1h-4zM870 619h4v1h-4zM878 619h3v1h-3zM885 619h1v1h-1zM107 620h1v1h-1zM114 620h2v1h-2zM127 620h1v1h-1zM130 620h1v1h-1zM191 620h1v1h-1zM204 620h1v1h-1zM213 620h1v1h-1zM227 620h1v1h-1zM229 620h1v1h-1zM236 620h1v1h-1zM246 620h1v1h-1zM252 620h5v1h-5zM264 620h2v1h-2zM303 620h1v1h-1zM496 620h6v1h-6zM506 620h3v1h-3zM696 620h2v1h-2zM701 620h1v1h-1zM711 620h2v1h-2zM860 620h2v1h-2zM881 620h2v1h-2zM885 620h1v1h-1zM107 621h1v1h-1zM116 621h1v1h-1zM127 621h1v1h-1zM131 621h1v1h-1zM190 621h1v1h-1zM205 621h1v1h-1zM213 621h1v1h-1zM228 621h1v1h-1zM237 621h1v1h-1zM245 621h1v1h-1zM266 621h3v1h-3zM302 621h1v1h-1zM502 621h4v1h-4zM509 621h1v1h-1zM592 621h1v1h-1zM684 621h1v1h-1zM694 621h2v1h-2zM698 621h3v1h-3zM712 621h1v1h-1zM883 621h2v1h-2zM106 622h1v1h-1zM117 622h1v1h-1zM126 622h1v1h-1zM132 622h1v1h-1zM189 622h1v1h-1zM206 622h1v1h-1zM211 622h2v1h-2zM237 622h1v1h-1zM245 622h1v1h-1zM269 622h1v1h-1zM301 622h1v1h-1zM510 622h1v1h-1zM592 622h3v1h-3zM668 622h1v1h-1zM682 622h2v1h-2zM685 622h1v1h-1zM693 622h1v1h-1zM14 623h3v1h-3zM35 623h2v1h-2zM72 623h2v1h-2zM106 623h1v1h-1zM118 623h1v1h-1zM126 623h1v1h-1zM133 623h1v1h-1zM176 623h1v1h-1zM187 623h2v1h-2zM207 623h1v1h-1zM209 623h2v1h-2zM238 623h1v1h-1zM244 623h1v1h-1zM270 623h2v1h-2zM301 623h1v1h-1zM510 623h1v1h-1zM564 623h2v1h-2zM591 623h1v1h-1zM595 623h2v1h-2zM623 623h3v1h-3zM668 623h2v1h-2zM681 623h1v1h-1zM686 623h2v1h-2zM690 623h3v1h-3zM12 624h2v1h-2zM17 624h2v1h-2zM33 624h2v1h-2zM37 624h1v1h-1zM71 624h1v1h-1zM74 624h8v1h-8zM105 624h1v1h-1zM118 624h1v1h-1zM125 624h1v1h-1zM134 624h1v1h-1zM174 624h2v1h-2zM177 624h1v1h-1zM185 624h2v1h-2zM208 624h1v1h-1zM239 624h1v1h-1zM242 624h2v1h-2zM272 624h1v1h-1zM300 624h1v1h-1zM511 624h1v1h-1zM564 624h1v1h-1zM566 624h3v1h-3zM591 624h1v1h-1zM597 624h2v1h-2zM607 624h2v1h-2zM621 624h2v1h-2zM626 624h3v1h-3zM667 624h1v1h-1zM670 624h2v1h-2zM674 624h7v1h-7zM688 624h2v1h-2zM11 625h1v1h-1zM19 625h2v1h-2zM30 625h3v1h-3zM38 625h2v1h-2zM71 625h1v1h-1zM82 625h3v1h-3zM105 625h1v1h-1zM119 625h1v1h-1zM125 625h1v1h-1zM134 625h1v1h-1zM173 625h1v1h-1zM178 625h2v1h-2zM182 625h3v1h-3zM239 625h1v1h-1zM241 625h1v1h-1zM273 625h1v1h-1zM299 625h1v1h-1zM512 625h1v1h-1zM563 625h1v1h-1zM569 625h1v1h-1zM590 625h1v1h-1zM599 625h3v1h-3zM605 625h2v1h-2zM609 625h1v1h-1zM618 625h3v1h-3zM629 625h1v1h-1zM667 625h1v1h-1zM672 625h2v1h-2zM11 626h1v1h-1zM21 626h2v1h-2zM26 626h4v1h-4zM40 626h1v1h-1zM70 626h1v1h-1zM85 626h2v1h-2zM103 626h2v1h-2zM120 626h5v1h-5zM135 626h1v1h-1zM146 626h3v1h-3zM172 626h1v1h-1zM180 626h2v1h-2zM240 626h1v1h-1zM274 626h1v1h-1zM279 626h2v1h-2zM287 626h6v1h-6zM298 626h1v1h-1zM513 626h1v1h-1zM563 626h1v1h-1zM569 626h1v1h-1zM590 626h1v1h-1zM602 626h3v1h-3zM610 626h1v1h-1zM615 626h3v1h-3zM630 626h1v1h-1zM666 626h1v1h-1zM10 627h1v1h-1zM23 627h3v1h-3zM41 627h2v1h-2zM70 627h1v1h-1zM87 627h2v1h-2zM101 627h2v1h-2zM136 627h1v1h-1zM143 627h3v1h-3zM148 627h1v1h-1zM164 627h1v1h-1zM170 627h2v1h-2zM275 627h1v1h-1zM277 627h2v1h-2zM281 627h2v1h-2zM285 627h2v1h-2zM293 627h1v1h-1zM298 627h1v1h-1zM514 627h2v1h-2zM562 627h1v1h-1zM570 627h1v1h-1zM590 627h1v1h-1zM611 627h1v1h-1zM613 627h2v1h-2zM630 627h1v1h-1zM666 627h1v1h-1zM10 628h1v1h-1zM43 628h2v1h-2zM69 628h1v1h-1zM89 628h1v1h-1zM98 628h3v1h-3zM137 628h2v1h-2zM141 628h2v1h-2zM149 628h1v1h-1zM163 628h1v1h-1zM165 628h2v1h-2zM169 628h1v1h-1zM276 628h1v1h-1zM283 628h2v1h-2zM294 628h2v1h-2zM297 628h1v1h-1zM516 628h1v1h-1zM562 628h1v1h-1zM571 628h1v1h-1zM589 628h1v1h-1zM612 628h1v1h-1zM631 628h1v1h-1zM665 628h1v1h-1zM9 629h1v1h-1zM45 629h1v1h-1zM69 629h1v1h-1zM90 629h1v1h-1zM96 629h2v1h-2zM139 629h2v1h-2zM149 629h1v1h-1zM163 629h1v1h-1zM167 629h2v1h-2zM296 629h1v1h-1zM517 629h1v1h-1zM561 629h1v1h-1zM571 629h1v1h-1zM589 629h1v1h-1zM632 629h2v1h-2zM660 629h2v1h-2zM665 629h1v1h-1zM9 630h1v1h-1zM46 630h1v1h-1zM68 630h1v1h-1zM90 630h1v1h-1zM94 630h2v1h-2zM150 630h1v1h-1zM162 630h1v1h-1zM518 630h2v1h-2zM522 630h11v1h-11zM561 630h1v1h-1zM572 630h1v1h-1zM588 630h1v1h-1zM634 630h3v1h-3zM659 630h1v1h-1zM662 630h3v1h-3zM4 631h5v1h-5zM47 631h1v1h-1zM66 631h2v1h-2zM91 631h1v1h-1zM93 631h1v1h-1zM150 631h1v1h-1zM161 631h1v1h-1zM520 631h2v1h-2zM533 631h1v1h-1zM540 631h2v1h-2zM555 631h6v1h-6zM572 631h1v1h-1zM588 631h1v1h-1zM637 631h1v1h-1zM658 631h1v1h-1zM48 632h1v1h-1zM60 632h2v1h-2zM65 632h1v1h-1zM92 632h1v1h-1zM150 632h1v1h-1zM161 632h1v1h-1zM534 632h1v1h-1zM538 632h2v1h-2zM542 632h3v1h-3zM553 632h2v1h-2zM573 632h1v1h-1zM588 632h1v1h-1zM638 632h1v1h-1zM658 632h1v1h-1zM49 633h1v1h-1zM59 633h1v1h-1zM62 633h3v1h-3zM151 633h1v1h-1zM160 633h1v1h-1zM535 633h1v1h-1zM537 633h1v1h-1zM545 633h1v1h-1zM551 633h2v1h-2zM573 633h1v1h-1zM587 633h1v1h-1zM638 633h1v1h-1zM657 633h1v1h-1zM50 634h2v1h-2zM58 634h1v1h-1zM151 634h1v1h-1zM159 634h1v1h-1zM536 634h1v1h-1zM546 634h2v1h-2zM549 634h2v1h-2zM574 634h1v1h-1zM587 634h1v1h-1zM639 634h1v1h-1zM656 634h1v1h-1zM52 635h2v1h-2zM57 635h1v1h-1zM152 635h1v1h-1zM158 635h1v1h-1zM548 635h1v1h-1zM574 635h1v1h-1zM586 635h1v1h-1zM640 635h2v1h-2zM655 635h1v1h-1zM54 636h3v1h-3zM152 636h1v1h-1zM158 636h1v1h-1zM575 636h1v1h-1zM586 636h1v1h-1zM642 636h3v1h-3zM654 636h1v1h-1zM153 637h2v1h-2zM157 637h1v1h-1zM575 637h1v1h-1zM585 637h1v1h-1zM645 637h2v1h-2zM653 637h1v1h-1zM155 638h2v1h-2zM576 638h1v1h-1zM585 638h1v1h-1zM647 638h6v1h-6zM576 639h6v1h-6zM584 639h1v1h-1zM582 640h3v1h-3z" fill="#1e90ff"/></g><rect x="3" y="25" width="1164" height="1" fill="#000"/><rect x="3" y="485" width="1164" height="1" fill="#000"/><rect x="3" y="25" width="1" height="461" fill="#000"/><rect x="1166" y="25" width="1" height="461" fill="#000"/><rect x="3" y="487" width="1164" height="1" fill="#000"/><rect x="3" y="571" width="1164" height="1" fill="#000"/><rect x="3" y="487" width="1" height="85" fill="#000"/><rect x="1166" y="487" width="1" height="85" fill="#000"/><rect x="3" y="573" width="1164" height="1" fill="#000"/><rect x="3" y="660" width="1164" height="1" fill="#000"/><rect x="3" y="573" width="1" height="88" fill="#000"/><rect x="1166" y="573" width="1" height="88" fill="#000"/><rect x="1167" y="53" width="2" height="1" fill="#000"/><text x="1172" y="57" class="ax" textLength="33" lengthAdjust="spacingAndGlyphs">6.59335</text><rect x="1167" y="86" width="2" height="1" fill="#000"/><text x="1172" y="90" class="ax" textLength="33" lengthAdjust="spacingAndGlyphs">6.57410</text><rect x="1167" y="119" width="2" height="1" fill="#000"/><text x="1172" y="123" class="ax" textLength="33" lengthAdjust="spacingAndGlyphs">6.55540</text><rect x="1167" y="152" width="2" height="1" fill="#000"/><text x="1172" y="156" class="ax" textLength="33" lengthAdjust="spacingAndGlyphs">6.53615</text><rect x="1167" y="218" width="2" height="1" fill="#000"/><text x="1172" y="222" class="ax" textLength="33" lengthAdjust="spacingAndGlyphs">6.49820</text><rect x="1167" y="251" width="2" height="1" fill="#000"/><text x="1172" y="255" class="ax" textLength="33" lengthAdjust="spacingAndGlyphs">6.47950</text><rect x="1167" y="284" width="2" height="1" fill="#000"/><text x="1172" y="288" class="ax" textLength="33" lengthAdjust="spacingAndGlyphs">6.46025</text><rect x="1167" y="317" width="2" height="1" fill="#000"/><text x="1172" y="321" class="ax" textLength="33" lengthAdjust="spacingAndGlyphs">6.44155</text><rect x="1167" y="350" width="2" height="1" fill="#000"/><text x="1172" y="354" class="ax" textLength="33" lengthAdjust="spacingAndGlyphs">6.42230</text><rect x="1167" y="383" width="2" height="1" fill="#000"/><text x="1172" y="387" class="ax" textLength="33" lengthAdjust="spacingAndGlyphs">6.40360</text><rect x="1167" y="416" width="2" height="1" fill="#000"/><text x="1172" y="420" class="ax" textLength="33" lengthAdjust="spacingAndGlyphs">6.38490</text><rect x="1167" y="449" width="2" height="1" fill="#000"/><text x="1172" y="453" class="ax" textLength="33" lengthAdjust="spacingAndGlyphs">6.36565</text><rect x="1167" y="482" width="2" height="1" fill="#000"/><text x="1172" y="486" class="ax" textLength="33" lengthAdjust="spacingAndGlyphs">6.34695</text><text x="1170" y="499" class="ax">0.025587</text><rect x="1167" y="521" width="2" height="1" fill="#000"/><text x="1170" y="525" class="ax">0.00</text><text x="1170" y="569" class="ax">-0.039928</text><text x="1170" y="584" class="ax">100</text><text x="1170" y="604" class="ax">70</text><text x="1170" y="638" class="ax">30</text><text x="1170" y="657" class="ax">0</text><rect x="1168" y="61" width="40" height="11" fill="#ff0000"/><text x="1172" y="70" class="ax axw" textLength="33" lengthAdjust="spacingAndGlyphs">6.58514</text><rect x="1168" y="181" width="40" height="11" fill="#ff0000"/><text x="1172" y="190" class="ax axw" textLength="33" lengthAdjust="spacingAndGlyphs">6.51605</text><rect x="1168" y="253" width="40" height="11" fill="#000000"/><text x="1172" y="262" class="ax axw" textLength="33" lengthAdjust="spacingAndGlyphs">6.47562</text><rect x="1168" y="295" width="40" height="11" fill="#00ff00"/><text x="1172" y="304" class="ax axw" textLength="33" lengthAdjust="spacingAndGlyphs">6.45060</text><rect x="1168" y="383" width="40" height="11" fill="#0000ff"/><text x="1172" y="392" class="ax axw" textLength="33" lengthAdjust="spacingAndGlyphs">6.40042</text><rect x="1168" y="470" width="40" height="11" fill="#0000ff"/><text x="1172" y="479" class="ax axw" textLength="33" lengthAdjust="spacingAndGlyphs">6.35025</text><rect x="4" y="661" width="1" height="3" fill="#000"/><text x="3" y="673" class="dt">20 Nov 2020</text><rect x="68" y="661" width="1" height="3" fill="#000"/><text x="67" y="673" class="dt">9 Dec 2020</text><rect x="132" y="661" width="1" height="3" fill="#000"/><text x="131" y="673" class="dt">29 Dec 2020</text><rect x="196" y="661" width="1" height="3" fill="#000"/><text x="195" y="673" class="dt">16 Jan 2021</text><rect x="260" y="661" width="1" height="3" fill="#000"/><text x="259" y="673" class="dt">4 Feb 2021</text><rect x="324" y="661" width="1" height="3" fill="#000"/><text x="323" y="673" class="dt">23 Feb 2021</text><rect x="388" y="661" width="1" height="3" fill="#000"/><text x="387" y="673" class="dt">13 Mar 2021</text><rect x="452" y="661" width="1" height="3" fill="#000"/><text x="451" y="673" class="dt">1 Apr 2021</text><rect x="516" y="661" width="1" height="3" fill="#000"/><text x="515" y="673" class="dt">20 Apr 2021</text><rect x="580" y="661" width="1" height="3" fill="#000"/><text x="579" y="673" class="dt">8 May 2021</text><rect x="644" y="661" width="1" height="3" fill="#000"/><text x="643" y="673" class="dt">27 May 2021</text><rect x="708" y="661" width="1" height="3" fill="#000"/><text x="707" y="673" class="dt">15 Jun 2021</text><rect x="772" y="661" width="1" height="3" fill="#000"/><text x="771" y="673" class="dt">3 Jul 2021</text><rect x="836" y="661" width="1" height="3" fill="#000"/><text x="835" y="673" class="dt">22 Jul 2021</text><rect x="900" y="661" width="1" height="3" fill="#000"/><text x="899" y="673" class="dt">10 Aug 2021</text><path d="M7,36 L14,36 L10.5,32 Z" fill="#000"/><text x="19.5" y="37" class="ax" textLength="66" lengthAdjust="spacingAndGlyphs">USDCNH,Daily</text><text x="91" y="37" class="ax" textLength="141" lengthAdjust="spacingAndGlyphs">6.47484 6.47802 6.47156 6.47562</text><text x="8" y="500" class="ax" textLength="149" lengthAdjust="spacingAndGlyphs">MACD(12,26,9) 0.001520 0.001808</text><text x="8" y="586" class="ax" textLength="68" lengthAdjust="spacingAndGlyphs">RSI(14) 50.9276</text><rect x="0" y="681" width="1208" height="1" fill="#e3e3e3"/><rect x="0" y="683" width="1208" height="1" fill="#000"/><rect x="0" y="684" width="1208" height="19" fill="#f0f0f0"/><rect x="0" y="684" width="1" height="18" fill="#707070"/><rect x="0" y="704" width="1208" height="3" fill="#f0f0f0"/><rect x="393" y="683" width="104" height="18" fill="#fff"/><rect x="393" y="683" width="1" height="19" fill="#000"/><rect x="496" y="683" width="1" height="19" fill="#000"/><rect x="393" y="701" width="104" height="1" fill="#000"/><text x="17" y="698" class="tab" fill="#6d6d6d">EURUSD,H4</text><text x="108" y="698" class="tab" fill="#6d6d6d">AUDUSD,Daily</text><text x="212" y="698" class="tab" fill="#6d6d6d">USDCHF,H4</text><text x="300" y="698" class="tab" fill="#6d6d6d">USDCAD,Daily</text><text x="403" y="698" class="tab" fill="#000">USDCNH,Daily</text><text x="509" y="698" class="tab" fill="#6d6d6d">UKOil,H1</text><text x="583" y="698" class="tab" fill="#6d6d6d">DJ30,H1</text><text x="652" y="698" class="tab" fill="#6d6d6d">USDX,H1</text><text x="728" y="698" class="tab" fill="#6d6d6d">XAUUSD,H1</text><text x="821" y="698" class="tab" fill="#6d6d6d">GBPUSD,H1</text><rect x="98" y="686" width="1" height="14" fill="#6d6d6d"/><rect x="201" y="686" width="1" height="14" fill="#6d6d6d"/><rect x="289" y="686" width="1" height="14" fill="#6d6d6d"/><rect x="573" y="686" width="1" height="14" fill="#6d6d6d"/><rect x="642" y="686" width="1" height="14" fill="#6d6d6d"/><rect x="717" y="686" width="1" height="14" fill="#6d6d6d"/><rect x="809" y="686" width="1" height="14" fill="#6d6d6d"/><rect x="901" y="686" width="1" height="14" fill="#6d6d6d"/><path d="M1185,689 L1185,696 L1182,692.5 Z" fill="#a0a0a0"/><path d="M1201,689 L1201,696 L1204,692.5 Z" fill="#a0a0a0"/><rect x="5" y="43" width="223" height="61" fill="#fff"/><rect x="7" y="45" width="52" height="24" fill="#0000a0"/><rect x="8" y="46" width="50" height="23" fill="url(#gh)"/><rect x="7" y="69" width="109" height="33" fill="#0000a0"/><rect x="8" y="70" width="107" height="31" fill="url(#gp)"/><rect x="58" y="69" width="1" height="1" fill="#0000a0"/><rect x="8" y="69" width="50" height="1" fill="#3838ea"/><rect x="11" y="68" width="45" height="1" fill="#1a1aa8"/><rect x="11" y="69" width="45" height="1" fill="#8a8aff"/><rect x="174" y="45" width="52" height="24" fill="#0000a0"/><rect x="175" y="46" width="50" height="23" fill="url(#gh)"/><rect x="118" y="69" width="108" height="33" fill="#0000a0"/><rect x="119" y="70" width="106" height="31" fill="url(#gp)"/><rect x="175" y="69" width="50" height="1" fill="#3838ea"/><rect x="178" y="68" width="45" height="1" fill="#1a1aa8"/><rect x="178" y="69" width="45" height="1" fill="#8a8aff"/><rect x="61" y="45" width="111" height="22" fill="#a8a8b0"/><rect x="62" y="46" width="109" height="20" fill="#fff"/><rect x="63" y="47" width="18" height="18" fill="url(#gb)"/><rect x="82" y="46" width="1" height="20" fill="#a8a8b0"/><rect x="150" y="46" width="1" height="20" fill="#a8a8b0"/><rect x="152" y="47" width="18" height="18" fill="url(#gb)"/><path d="M68.5,54 L74.5,54 L71.5,57 Z" fill="#5a74c4"/><path d="M157.5,57 L163.5,57 L160.5,54 Z" fill="#5a74c4"/><text x="20" y="61" class="btn" textLength="25.5" lengthAdjust="spacingAndGlyphs">SELL</text><text x="188" y="61" class="btn" textLength="23.5" lengthAdjust="spacingAndGlyphs">BUY</text><text x="123.5" y="60" class="lot" textLength="23.5" lengthAdjust="spacingAndGlyphs">3.00</text><text x="27" y="97" class="sm" textLength="24" lengthAdjust="spacingAndGlyphs">6.47</text><text x="55.5" y="97" class="big" textLength="33.5" lengthAdjust="spacingAndGlyphs">56</text><text x="95" y="81" class="sup" textLength="6.5" lengthAdjust="spacingAndGlyphs">5</text><text x="137" y="97" class="sm" textLength="24" lengthAdjust="spacingAndGlyphs">6.47</text><text x="165.5" y="97" class="big" textLength="33.5" lengthAdjust="spacingAndGlyphs">65</text><text x="205" y="81" class="sup" textLength="6.5" lengthAdjust="spacingAndGlyphs">9</text></svg>
</body></html>
